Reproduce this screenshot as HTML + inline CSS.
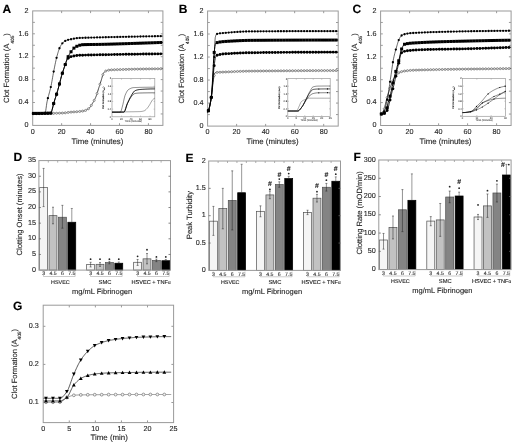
<!DOCTYPE html><html><head><meta charset="utf-8"><title>Figure</title><style>html,body{margin:0;padding:0;background:#fff;}svg{display:block;will-change:transform;filter:blur(0.35px);}text{stroke:currentColor;stroke-width:0.12px;}</style></head><body><svg width="520" height="446" viewBox="0 0 520 446" font-family='"Liberation Sans", sans-serif' text-rendering="geometricPrecision"><rect width="520" height="446" fill="#fff"/><text x="2.4" y="12.9" font-size="12" text-anchor="start" font-weight="bold" fill="#000" color="#000">A</text><rect x="32.7" y="10.9" width="130.2" height="114.5" fill="none" stroke="#9a9a9a" stroke-width="1"/><line x1="61.63" y1="125.4" x2="61.63" y2="123.2" stroke="#9a9a9a" stroke-width="1"/><line x1="61.63" y1="10.9" x2="61.63" y2="13.1" stroke="#9a9a9a" stroke-width="1"/><line x1="90.57" y1="125.4" x2="90.57" y2="123.2" stroke="#9a9a9a" stroke-width="1"/><line x1="90.57" y1="10.9" x2="90.57" y2="13.1" stroke="#9a9a9a" stroke-width="1"/><line x1="119.5" y1="125.4" x2="119.5" y2="123.2" stroke="#9a9a9a" stroke-width="1"/><line x1="119.5" y1="10.9" x2="119.5" y2="13.1" stroke="#9a9a9a" stroke-width="1"/><line x1="148.43" y1="125.4" x2="148.43" y2="123.2" stroke="#9a9a9a" stroke-width="1"/><line x1="148.43" y1="10.9" x2="148.43" y2="13.1" stroke="#9a9a9a" stroke-width="1"/><line x1="32.7" y1="113.95" x2="34.9" y2="113.95" stroke="#9a9a9a" stroke-width="1"/><line x1="162.9" y1="113.95" x2="160.7" y2="113.95" stroke="#9a9a9a" stroke-width="1"/><line x1="32.7" y1="102.5" x2="34.9" y2="102.5" stroke="#9a9a9a" stroke-width="1"/><line x1="162.9" y1="102.5" x2="160.7" y2="102.5" stroke="#9a9a9a" stroke-width="1"/><line x1="32.7" y1="91.05" x2="34.9" y2="91.05" stroke="#9a9a9a" stroke-width="1"/><line x1="162.9" y1="91.05" x2="160.7" y2="91.05" stroke="#9a9a9a" stroke-width="1"/><line x1="32.7" y1="79.6" x2="34.9" y2="79.6" stroke="#9a9a9a" stroke-width="1"/><line x1="162.9" y1="79.6" x2="160.7" y2="79.6" stroke="#9a9a9a" stroke-width="1"/><line x1="32.7" y1="68.15" x2="34.9" y2="68.15" stroke="#9a9a9a" stroke-width="1"/><line x1="162.9" y1="68.15" x2="160.7" y2="68.15" stroke="#9a9a9a" stroke-width="1"/><line x1="32.7" y1="56.7" x2="34.9" y2="56.7" stroke="#9a9a9a" stroke-width="1"/><line x1="162.9" y1="56.7" x2="160.7" y2="56.7" stroke="#9a9a9a" stroke-width="1"/><line x1="32.7" y1="45.25" x2="34.9" y2="45.25" stroke="#9a9a9a" stroke-width="1"/><line x1="162.9" y1="45.25" x2="160.7" y2="45.25" stroke="#9a9a9a" stroke-width="1"/><line x1="32.7" y1="33.8" x2="34.9" y2="33.8" stroke="#9a9a9a" stroke-width="1"/><line x1="162.9" y1="33.8" x2="160.7" y2="33.8" stroke="#9a9a9a" stroke-width="1"/><line x1="32.7" y1="22.35" x2="34.9" y2="22.35" stroke="#9a9a9a" stroke-width="1"/><line x1="162.9" y1="22.35" x2="160.7" y2="22.35" stroke="#9a9a9a" stroke-width="1"/><text x="32.7" y="134.4" font-size="7.2" text-anchor="middle" fill="#262626" color="#262626">0</text><text x="61.63" y="134.4" font-size="7.2" text-anchor="middle" fill="#262626" color="#262626">20</text><text x="90.57" y="134.4" font-size="7.2" text-anchor="middle" fill="#262626" color="#262626">40</text><text x="119.5" y="134.4" font-size="7.2" text-anchor="middle" fill="#262626" color="#262626">60</text><text x="148.43" y="134.4" font-size="7.2" text-anchor="middle" fill="#262626" color="#262626">80</text><text x="28.5" y="127.1" font-size="7.2" text-anchor="end" fill="#262626" color="#262626">0</text><text x="28.5" y="104.2" font-size="7.2" text-anchor="end" fill="#262626" color="#262626">0.4</text><text x="28.5" y="81.3" font-size="7.2" text-anchor="end" fill="#262626" color="#262626">0.8</text><text x="28.5" y="58.4" font-size="7.2" text-anchor="end" fill="#262626" color="#262626">1.2</text><text x="28.5" y="35.5" font-size="7.2" text-anchor="end" fill="#262626" color="#262626">1.6</text><text x="28.5" y="12.6" font-size="7.2" text-anchor="end" fill="#262626" color="#262626">2</text><text x="97.4" y="143.5" font-size="7.85" text-anchor="middle" fill="#262626" color="#262626">Time (minutes)</text><text x="9.1" y="68.15" font-size="7.6" text-anchor="middle" fill="#262626" color="#262626" transform="rotate(-90 9.1 68.15)">Clot Formation (A<tspan font-size="4.7" dy="4.8">405</tspan><tspan dy="-4.8">)</tspan></text><polyline points="32.7,113.66 33.06,113.66 33.42,113.66 33.79,113.66 34.15,113.66 34.51,113.66 34.87,113.66 35.23,113.66 35.59,113.66 35.96,113.66 36.32,113.65 36.68,113.65 37.04,113.65 37.4,113.65 37.76,113.64 38.12,113.64 38.49,113.64 38.85,113.64 39.21,113.63 39.57,113.63 39.93,113.63 40.3,113.62 40.66,113.62 41.02,113.61 41.38,113.61 41.74,113.6 42.1,113.6 42.47,113.59 42.83,113.59 43.19,113.58 43.55,113.58 43.91,113.57 44.27,113.57 44.64,113.56 45,113.56 45.36,113.55 45.72,113.54 46.08,113.54 46.44,113.53 46.8,113.52 47.17,113.51 47.53,113.51 47.89,113.5 48.25,113.49 48.61,113.48 48.98,113.48 49.34,113.47 49.7,113.46 50.06,113.45 50.42,113.44 50.78,113.43 51.15,113.42 51.51,113.41 51.87,113.41 52.23,113.4 52.59,113.39 52.95,113.38 53.31,113.37 53.68,113.36 54.04,113.35 54.4,113.33 54.76,113.32 55.12,113.31 55.48,113.3 55.85,113.29 56.21,113.28 56.57,113.27 56.93,113.26 57.29,113.24 57.66,113.23 58.02,113.22 58.38,113.21 58.74,113.2 59.1,113.18 59.46,113.17 59.83,113.16 60.19,113.14 60.55,113.13 60.91,113.12 61.27,113.1 61.63,113.09 62,113.08 62.36,113.06 62.72,113.03 63.08,113.01 63.44,112.98 63.8,112.95 64.17,112.91 64.53,112.87 64.89,112.84 65.25,112.79 65.61,112.75 65.97,112.71 66.34,112.67 66.7,112.62 67.06,112.58 67.42,112.53 67.78,112.49 68.14,112.44 68.5,112.4 68.87,112.36 69.23,112.32 69.59,112.28 69.95,112.24 70.31,112.2 70.67,112.17 71.04,112.14 71.4,112.11 71.76,112.08 72.12,112.05 72.48,112.02 72.84,111.99 73.21,111.96 73.57,111.94 73.93,111.91 74.29,111.89 74.65,111.86 75.01,111.84 75.38,111.81 75.74,111.79 76.1,111.76 76.46,111.74 76.82,111.71 77.19,111.68 77.55,111.65 77.91,111.63 78.27,111.59 78.63,111.56 78.99,111.53 79.36,111.5 79.72,111.46 80.08,111.42 80.44,111.38 80.8,111.34 81.16,111.3 81.53,111.25 81.89,111.2 82.25,111.15 82.61,111.1 82.97,111.04 83.33,110.99 83.69,110.92 84.06,110.86 84.42,110.78 84.78,110.68 85.14,110.57 85.5,110.43 85.86,110.28 86.23,110.11 86.59,109.93 86.95,109.72 87.31,109.51 87.67,109.28 88.03,109.03 88.4,108.77 88.76,108.51 89.12,108.23 89.48,107.9 89.84,107.49 90.2,107.03 90.57,106.51 90.93,105.95 91.29,105.36 91.65,104.75 92.01,104.14 92.38,103.54 92.74,102.94 93.1,102.33 93.46,101.71 93.82,101.08 94.18,100.42 94.54,99.73 94.91,99.01 95.27,98.25 95.63,97.45 95.99,96.6 96.35,95.65 96.72,94.6 97.08,93.47 97.44,92.29 97.8,91.1 98.16,89.91 98.52,88.76 98.89,87.63 99.25,86.5 99.61,85.37 99.97,84.23 100.33,83.09 100.69,81.96 101.06,80.84 101.42,79.71 101.78,78.47 102.14,77.16 102.5,75.87 102.86,74.68 103.22,73.67 103.59,72.93 103.95,72.48 104.31,72.1 104.67,71.77 105.03,71.48 105.39,71.23 105.76,71.03 106.12,70.86 106.48,70.73 106.84,70.62 107.2,70.52 107.56,70.42 107.93,70.33 108.29,70.25 108.65,70.18 109.01,70.11 109.37,70.05 109.73,70 110.1,69.96 110.46,69.92 110.82,69.89 111.18,69.86 111.54,69.84 111.91,69.82 112.27,69.8 112.63,69.79 112.99,69.77 113.35,69.75 113.71,69.74 114.07,69.73 114.44,69.71 114.8,69.7 115.16,69.69 115.52,69.68 115.88,69.67 116.24,69.66 116.61,69.65 116.97,69.64 117.33,69.63 117.69,69.63 118.05,69.62 118.41,69.61 118.78,69.6 119.14,69.59 119.5,69.58 119.86,69.57 120.22,69.56 120.58,69.55 120.95,69.54 121.31,69.53 121.67,69.52 122.03,69.51 122.39,69.5 122.75,69.5 123.12,69.49 123.48,69.48 123.84,69.47 124.2,69.46 124.56,69.45 124.92,69.44 125.29,69.43 125.65,69.42 126.01,69.41 126.37,69.4 126.73,69.39 127.09,69.38 127.46,69.37 127.82,69.36 128.18,69.35 128.54,69.35 128.9,69.34 129.26,69.33 129.63,69.32 129.99,69.31 130.35,69.3 130.71,69.29 131.07,69.28 131.44,69.27 131.8,69.26 132.16,69.26 132.52,69.25 132.88,69.24 133.24,69.23 133.6,69.22 133.97,69.21 134.33,69.2 134.69,69.2 135.05,69.19 135.41,69.18 135.78,69.17 136.14,69.16 136.5,69.15 136.86,69.14 137.22,69.14 137.58,69.13 137.94,69.12 138.31,69.11 138.67,69.1 139.03,69.1 139.39,69.09 139.75,69.08 140.11,69.07 140.48,69.06 140.84,69.06 141.2,69.05 141.56,69.04 141.92,69.03 142.28,69.03 142.65,69.02 143.01,69.01 143.37,69 143.73,69 144.09,68.99 144.45,68.98 144.82,68.98 145.18,68.97 145.54,68.96 145.9,68.96 146.26,68.95 146.62,68.94 146.99,68.94 147.35,68.93 147.71,68.92 148.07,68.92 148.43,68.91 148.8,68.9 149.16,68.9 149.52,68.89 149.88,68.88 150.24,68.88 150.6,68.87 150.96,68.87 151.33,68.86 151.69,68.86 152.05,68.85 152.41,68.84 152.77,68.84 153.13,68.83 153.5,68.83 153.86,68.82 154.22,68.82 154.58,68.81 154.94,68.81 155.31,68.8 155.67,68.8 156.03,68.79 156.39,68.79 156.75,68.78 157.11,68.78 157.47,68.78 157.84,68.77 158.2,68.77 158.56,68.76 158.92,68.76 159.28,68.76 159.64,68.75 160.01,68.75 160.37,68.74 160.73,68.74 161.09,68.74 161.45,68.73 161.81,68.73 162.18,68.73 162.54,68.73 162.9,68.72" fill="none" stroke="#444444" stroke-width="1" stroke-linejoin="round"/><circle cx="33.42" cy="113.66" r="1.05" fill="#e4e4e4" stroke="#777777" stroke-width="0.75"/><circle cx="36.32" cy="113.65" r="1.05" fill="#e4e4e4" stroke="#777777" stroke-width="0.75"/><circle cx="39.21" cy="113.63" r="1.05" fill="#e4e4e4" stroke="#777777" stroke-width="0.75"/><circle cx="42.1" cy="113.6" r="1.05" fill="#e4e4e4" stroke="#777777" stroke-width="0.75"/><circle cx="45" cy="113.56" r="1.05" fill="#e4e4e4" stroke="#777777" stroke-width="0.75"/><circle cx="47.89" cy="113.5" r="1.05" fill="#e4e4e4" stroke="#777777" stroke-width="0.75"/><circle cx="50.78" cy="113.43" r="1.05" fill="#e4e4e4" stroke="#777777" stroke-width="0.75"/><circle cx="53.68" cy="113.36" r="1.05" fill="#e4e4e4" stroke="#777777" stroke-width="0.75"/><circle cx="56.57" cy="113.27" r="1.05" fill="#e4e4e4" stroke="#777777" stroke-width="0.75"/><circle cx="59.46" cy="113.17" r="1.05" fill="#e4e4e4" stroke="#777777" stroke-width="0.75"/><circle cx="62.36" cy="113.06" r="1.05" fill="#e4e4e4" stroke="#777777" stroke-width="0.75"/><circle cx="65.25" cy="112.79" r="1.05" fill="#e4e4e4" stroke="#777777" stroke-width="0.75"/><circle cx="68.14" cy="112.44" r="1.05" fill="#e4e4e4" stroke="#777777" stroke-width="0.75"/><circle cx="71.04" cy="112.14" r="1.05" fill="#e4e4e4" stroke="#777777" stroke-width="0.75"/><circle cx="73.93" cy="111.91" r="1.05" fill="#e4e4e4" stroke="#777777" stroke-width="0.75"/><circle cx="76.82" cy="111.71" r="1.05" fill="#e4e4e4" stroke="#777777" stroke-width="0.75"/><circle cx="79.72" cy="111.46" r="1.05" fill="#e4e4e4" stroke="#777777" stroke-width="0.75"/><circle cx="82.61" cy="111.1" r="1.05" fill="#e4e4e4" stroke="#777777" stroke-width="0.75"/><circle cx="85.5" cy="110.43" r="1.05" fill="#e4e4e4" stroke="#777777" stroke-width="0.75"/><circle cx="88.4" cy="108.77" r="1.05" fill="#e4e4e4" stroke="#777777" stroke-width="0.75"/><circle cx="91.29" cy="105.36" r="1.05" fill="#e4e4e4" stroke="#777777" stroke-width="0.75"/><circle cx="94.18" cy="100.42" r="1.05" fill="#e4e4e4" stroke="#777777" stroke-width="0.75"/><circle cx="97.08" cy="93.47" r="1.05" fill="#e4e4e4" stroke="#777777" stroke-width="0.75"/><circle cx="99.97" cy="84.23" r="1.05" fill="#e4e4e4" stroke="#777777" stroke-width="0.75"/><circle cx="102.86" cy="74.68" r="1.05" fill="#e4e4e4" stroke="#777777" stroke-width="0.75"/><circle cx="105.76" cy="71.03" r="1.05" fill="#e4e4e4" stroke="#777777" stroke-width="0.75"/><circle cx="108.65" cy="70.18" r="1.05" fill="#e4e4e4" stroke="#777777" stroke-width="0.75"/><circle cx="111.54" cy="69.84" r="1.05" fill="#e4e4e4" stroke="#777777" stroke-width="0.75"/><circle cx="114.44" cy="69.71" r="1.05" fill="#e4e4e4" stroke="#777777" stroke-width="0.75"/><circle cx="117.33" cy="69.63" r="1.05" fill="#e4e4e4" stroke="#777777" stroke-width="0.75"/><circle cx="120.22" cy="69.56" r="1.05" fill="#e4e4e4" stroke="#777777" stroke-width="0.75"/><circle cx="123.12" cy="69.49" r="1.05" fill="#e4e4e4" stroke="#777777" stroke-width="0.75"/><circle cx="126.01" cy="69.41" r="1.05" fill="#e4e4e4" stroke="#777777" stroke-width="0.75"/><circle cx="128.9" cy="69.34" r="1.05" fill="#e4e4e4" stroke="#777777" stroke-width="0.75"/><circle cx="131.8" cy="69.26" r="1.05" fill="#e4e4e4" stroke="#777777" stroke-width="0.75"/><circle cx="134.69" cy="69.2" r="1.05" fill="#e4e4e4" stroke="#777777" stroke-width="0.75"/><circle cx="137.58" cy="69.13" r="1.05" fill="#e4e4e4" stroke="#777777" stroke-width="0.75"/><circle cx="140.48" cy="69.06" r="1.05" fill="#e4e4e4" stroke="#777777" stroke-width="0.75"/><circle cx="143.37" cy="69" r="1.05" fill="#e4e4e4" stroke="#777777" stroke-width="0.75"/><circle cx="146.26" cy="68.95" r="1.05" fill="#e4e4e4" stroke="#777777" stroke-width="0.75"/><circle cx="149.16" cy="68.9" r="1.05" fill="#e4e4e4" stroke="#777777" stroke-width="0.75"/><circle cx="152.05" cy="68.85" r="1.05" fill="#e4e4e4" stroke="#777777" stroke-width="0.75"/><circle cx="154.94" cy="68.81" r="1.05" fill="#e4e4e4" stroke="#777777" stroke-width="0.75"/><circle cx="157.84" cy="68.77" r="1.05" fill="#e4e4e4" stroke="#777777" stroke-width="0.75"/><circle cx="160.73" cy="68.74" r="1.05" fill="#e4e4e4" stroke="#777777" stroke-width="0.75"/><polyline points="32.7,113.95 33.06,113.95 33.42,113.95 33.79,113.95 34.15,113.95 34.51,113.94 34.87,113.94 35.23,113.94 35.59,113.93 35.96,113.93 36.32,113.92 36.68,113.91 37.04,113.91 37.4,113.9 37.76,113.89 38.12,113.88 38.49,113.86 38.85,113.85 39.21,113.83 39.57,113.82 39.93,113.8 40.3,113.78 40.66,113.76 41.02,113.74 41.38,113.71 41.74,113.69 42.1,113.66 42.47,113.63 42.83,113.6 43.19,113.57 43.55,113.54 43.91,113.5 44.27,113.46 44.64,113.42 45,113.38 45.36,112.63 45.72,110.79 46.08,108.29 46.44,105.58 46.8,103.11 47.17,101.25 47.53,99.66 47.89,98.17 48.25,96.77 48.61,95.43 48.98,94.12 49.34,92.82 49.7,91.49 50.06,90.12 50.42,88.67 50.78,87.12 51.15,85.44 51.51,83.62 51.87,81.68 52.23,79.66 52.59,77.6 52.95,75.54 53.31,73.5 53.68,71.53 54.04,69.65 54.4,67.87 54.76,66.08 55.12,64.31 55.48,62.58 55.85,60.91 56.21,59.3 56.57,57.79 56.93,56.39 57.29,55.08 57.66,53.8 58.02,52.56 58.38,51.37 58.74,50.24 59.1,49.2 59.46,48.25 59.83,47.41 60.19,46.69 60.55,46.01 60.91,45.38 61.27,44.79 61.63,44.24 62,43.73 62.36,43.28 62.72,42.87 63.08,42.51 63.44,42.21 63.8,41.92 64.17,41.65 64.53,41.4 64.89,41.16 65.25,40.94 65.61,40.74 65.97,40.56 66.34,40.39 66.7,40.25 67.06,40.12 67.42,40.01 67.78,39.91 68.14,39.82 68.5,39.74 68.87,39.67 69.23,39.6 69.59,39.53 69.95,39.47 70.31,39.4 70.67,39.34 71.04,39.27 71.4,39.19 71.76,39.12 72.12,39.04 72.48,38.96 72.84,38.87 73.21,38.79 73.57,38.71 73.93,38.63 74.29,38.55 74.65,38.47 75.01,38.4 75.38,38.33 75.74,38.27 76.1,38.22 76.46,38.17 76.82,38.13 77.19,38.1 77.55,38.08 77.91,38.05 78.27,38.03 78.63,38.01 78.99,37.99 79.36,37.98 79.72,37.96 80.08,37.94 80.44,37.93 80.8,37.91 81.16,37.9 81.53,37.88 81.89,37.87 82.25,37.86 82.61,37.85 82.97,37.83 83.33,37.82 83.69,37.81 84.06,37.8 84.42,37.79 84.78,37.78 85.14,37.77 85.5,37.76 85.86,37.75 86.23,37.75 86.59,37.74 86.95,37.73 87.31,37.72 87.67,37.71 88.03,37.7 88.4,37.69 88.76,37.68 89.12,37.67 89.48,37.67 89.84,37.66 90.2,37.65 90.57,37.64 90.93,37.63 91.29,37.62 91.65,37.6 92.01,37.59 92.38,37.58 92.74,37.57 93.1,37.56 93.46,37.55 93.82,37.54 94.18,37.54 94.54,37.53 94.91,37.52 95.27,37.51 95.63,37.5 95.99,37.49 96.35,37.48 96.72,37.47 97.08,37.46 97.44,37.45 97.8,37.44 98.16,37.43 98.52,37.42 98.89,37.41 99.25,37.4 99.61,37.4 99.97,37.39 100.33,37.38 100.69,37.37 101.06,37.36 101.42,37.35 101.78,37.34 102.14,37.33 102.5,37.33 102.86,37.32 103.22,37.31 103.59,37.3 103.95,37.29 104.31,37.28 104.67,37.28 105.03,37.27 105.39,37.26 105.76,37.25 106.12,37.24 106.48,37.23 106.84,37.23 107.2,37.22 107.56,37.21 107.93,37.2 108.29,37.19 108.65,37.19 109.01,37.18 109.37,37.17 109.73,37.16 110.1,37.15 110.46,37.15 110.82,37.14 111.18,37.13 111.54,37.12 111.91,37.11 112.27,37.11 112.63,37.1 112.99,37.09 113.35,37.08 113.71,37.07 114.07,37.07 114.44,37.06 114.8,37.05 115.16,37.04 115.52,37.03 115.88,37.03 116.24,37.02 116.61,37.01 116.97,37 117.33,37 117.69,36.99 118.05,36.98 118.41,36.97 118.78,36.96 119.14,36.96 119.5,36.95 119.86,36.94 120.22,36.93 120.58,36.93 120.95,36.92 121.31,36.91 121.67,36.9 122.03,36.89 122.39,36.89 122.75,36.88 123.12,36.87 123.48,36.86 123.84,36.86 124.2,36.85 124.56,36.84 124.92,36.83 125.29,36.82 125.65,36.82 126.01,36.81 126.37,36.8 126.73,36.79 127.09,36.79 127.46,36.78 127.82,36.77 128.18,36.76 128.54,36.76 128.9,36.75 129.26,36.74 129.63,36.73 129.99,36.73 130.35,36.72 130.71,36.71 131.07,36.7 131.44,36.69 131.8,36.69 132.16,36.68 132.52,36.67 132.88,36.66 133.24,36.66 133.6,36.65 133.97,36.64 134.33,36.64 134.69,36.63 135.05,36.62 135.41,36.61 135.78,36.61 136.14,36.6 136.5,36.59 136.86,36.58 137.22,36.58 137.58,36.57 137.94,36.56 138.31,36.55 138.67,36.55 139.03,36.54 139.39,36.53 139.75,36.52 140.11,36.52 140.48,36.51 140.84,36.5 141.2,36.5 141.56,36.49 141.92,36.48 142.28,36.47 142.65,36.47 143.01,36.46 143.37,36.45 143.73,36.45 144.09,36.44 144.45,36.43 144.82,36.42 145.18,36.42 145.54,36.41 145.9,36.4 146.26,36.4 146.62,36.39 146.99,36.38 147.35,36.38 147.71,36.37 148.07,36.36 148.43,36.35 148.8,36.35 149.16,36.34 149.52,36.33 149.88,36.33 150.24,36.32 150.6,36.31 150.96,36.31 151.33,36.3 151.69,36.29 152.05,36.29 152.41,36.28 152.77,36.27 153.13,36.27 153.5,36.26 153.86,36.25 154.22,36.25 154.58,36.24 154.94,36.23 155.31,36.23 155.67,36.22 156.03,36.21 156.39,36.21 156.75,36.2 157.11,36.19 157.47,36.19 157.84,36.18 158.2,36.17 158.56,36.17 158.92,36.16 159.28,36.15 159.64,36.15 160.01,36.14 160.37,36.13 160.73,36.13 161.09,36.12 161.45,36.12 161.81,36.11 162.18,36.1 162.54,36.1 162.9,36.09" fill="none" stroke="#000" stroke-width="0.6" stroke-linejoin="round"/><circle cx="33.42" cy="113.95" r="1.15" fill="#000"/><circle cx="36.32" cy="113.92" r="1.15" fill="#000"/><circle cx="39.21" cy="113.83" r="1.15" fill="#000"/><circle cx="42.1" cy="113.66" r="1.15" fill="#000"/><circle cx="45" cy="113.38" r="1.15" fill="#000"/><circle cx="47.89" cy="98.17" r="1.15" fill="#000"/><circle cx="50.78" cy="87.12" r="1.15" fill="#000"/><circle cx="53.68" cy="71.53" r="1.15" fill="#000"/><circle cx="56.57" cy="57.79" r="1.15" fill="#000"/><circle cx="59.46" cy="48.25" r="1.15" fill="#000"/><circle cx="62.36" cy="43.28" r="1.15" fill="#000"/><circle cx="65.25" cy="40.94" r="1.15" fill="#000"/><circle cx="68.14" cy="39.82" r="1.15" fill="#000"/><circle cx="71.04" cy="39.27" r="1.15" fill="#000"/><circle cx="73.93" cy="38.63" r="1.15" fill="#000"/><circle cx="76.82" cy="38.13" r="1.15" fill="#000"/><circle cx="79.72" cy="37.96" r="1.15" fill="#000"/><circle cx="82.61" cy="37.85" r="1.15" fill="#000"/><circle cx="85.5" cy="37.76" r="1.15" fill="#000"/><circle cx="88.4" cy="37.69" r="1.15" fill="#000"/><circle cx="91.29" cy="37.62" r="1.15" fill="#000"/><circle cx="94.18" cy="37.54" r="1.15" fill="#000"/><circle cx="97.08" cy="37.46" r="1.15" fill="#000"/><circle cx="99.97" cy="37.39" r="1.15" fill="#000"/><circle cx="102.86" cy="37.32" r="1.15" fill="#000"/><circle cx="105.76" cy="37.25" r="1.15" fill="#000"/><circle cx="108.65" cy="37.19" r="1.15" fill="#000"/><circle cx="111.54" cy="37.12" r="1.15" fill="#000"/><circle cx="114.44" cy="37.06" r="1.15" fill="#000"/><circle cx="117.33" cy="37" r="1.15" fill="#000"/><circle cx="120.22" cy="36.93" r="1.15" fill="#000"/><circle cx="123.12" cy="36.87" r="1.15" fill="#000"/><circle cx="126.01" cy="36.81" r="1.15" fill="#000"/><circle cx="128.9" cy="36.75" r="1.15" fill="#000"/><circle cx="131.8" cy="36.69" r="1.15" fill="#000"/><circle cx="134.69" cy="36.63" r="1.15" fill="#000"/><circle cx="137.58" cy="36.57" r="1.15" fill="#000"/><circle cx="140.48" cy="36.51" r="1.15" fill="#000"/><circle cx="143.37" cy="36.45" r="1.15" fill="#000"/><circle cx="146.26" cy="36.4" r="1.15" fill="#000"/><circle cx="149.16" cy="36.34" r="1.15" fill="#000"/><circle cx="152.05" cy="36.29" r="1.15" fill="#000"/><circle cx="154.94" cy="36.23" r="1.15" fill="#000"/><circle cx="157.84" cy="36.18" r="1.15" fill="#000"/><circle cx="160.73" cy="36.13" r="1.15" fill="#000"/><polyline points="32.7,113.38 33.06,113.38 33.42,113.38 33.79,113.38 34.15,113.38 34.51,113.38 34.87,113.38 35.23,113.38 35.59,113.38 35.96,113.37 36.32,113.37 36.68,113.37 37.04,113.37 37.4,113.37 37.76,113.37 38.12,113.37 38.49,113.37 38.85,113.36 39.21,113.36 39.57,113.36 39.93,113.35 40.3,113.35 40.66,113.35 41.02,113.34 41.38,113.34 41.74,113.34 42.1,113.33 42.47,113.33 42.83,113.32 43.19,113.32 43.55,113.31 43.91,113.3 44.27,113.3 44.64,113.29 45,113.28 45.36,113.27 45.72,113.26 46.08,113.26 46.44,113.25 46.8,113.24 47.17,113.23 47.53,113.21 47.89,113.2 48.25,113.19 48.61,113.18 48.98,113.17 49.34,113.15 49.7,113.14 50.06,113.12 50.42,113.11 50.78,113.09 51.15,112.59 51.51,111.66 51.87,110.64 52.23,109.38 52.59,107.97 52.95,106.48 53.31,104.98 53.68,103.55 54.04,102.25 54.4,101.06 54.76,99.91 55.12,98.79 55.48,97.69 55.85,96.57 56.21,95.43 56.57,94.24 56.93,93.03 57.29,91.79 57.66,90.54 58.02,89.26 58.38,87.97 58.74,86.67 59.1,85.34 59.46,83.97 59.83,82.55 60.19,81.1 60.55,79.66 60.91,78.24 61.27,76.88 61.63,75.59 62,74.38 62.36,73.21 62.72,72.07 63.08,70.97 63.44,69.89 63.8,68.82 64.17,67.76 64.53,66.71 64.89,65.65 65.25,64.56 65.61,63.45 65.97,62.35 66.34,61.26 66.7,60.2 67.06,59.2 67.42,58.27 67.78,57.43 68.14,56.67 68.5,55.95 68.87,55.26 69.23,54.6 69.59,53.98 69.95,53.38 70.31,52.82 70.67,52.27 71.04,51.76 71.4,51.26 71.76,50.79 72.12,50.31 72.48,49.84 72.84,49.38 73.21,48.94 73.57,48.51 73.93,48.12 74.29,47.76 74.65,47.45 75.01,47.18 75.38,46.97 75.74,46.79 76.1,46.61 76.46,46.44 76.82,46.28 77.19,46.12 77.55,45.97 77.91,45.82 78.27,45.68 78.63,45.55 78.99,45.43 79.36,45.31 79.72,45.21 80.08,45.11 80.44,45.02 80.8,44.94 81.16,44.87 81.53,44.81 81.89,44.76 82.25,44.72 82.61,44.69 82.97,44.67 83.33,44.66 83.69,44.65 84.06,44.64 84.42,44.63 84.78,44.62 85.14,44.61 85.5,44.6 85.86,44.59 86.23,44.58 86.59,44.57 86.95,44.57 87.31,44.56 87.67,44.55 88.03,44.55 88.4,44.54 88.76,44.54 89.12,44.53 89.48,44.53 89.84,44.52 90.2,44.52 90.57,44.51 90.93,44.51 91.29,44.5 91.65,44.5 92.01,44.5 92.38,44.49 92.74,44.49 93.1,44.48 93.46,44.48 93.82,44.48 94.18,44.47 94.54,44.47 94.91,44.47 95.27,44.46 95.63,44.46 95.99,44.45 96.35,44.45 96.72,44.44 97.08,44.44 97.44,44.43 97.8,44.43 98.16,44.42 98.52,44.42 98.89,44.41 99.25,44.41 99.61,44.4 99.97,44.39 100.33,44.38 100.69,44.38 101.06,44.37 101.42,44.36 101.78,44.35 102.14,44.34 102.5,44.34 102.86,44.33 103.22,44.32 103.59,44.31 103.95,44.3 104.31,44.29 104.67,44.28 105.03,44.27 105.39,44.27 105.76,44.26 106.12,44.25 106.48,44.24 106.84,44.23 107.2,44.22 107.56,44.21 107.93,44.2 108.29,44.19 108.65,44.18 109.01,44.17 109.37,44.16 109.73,44.15 110.1,44.14 110.46,44.13 110.82,44.12 111.18,44.11 111.54,44.1 111.91,44.09 112.27,44.08 112.63,44.07 112.99,44.06 113.35,44.04 113.71,44.03 114.07,44.02 114.44,44.01 114.8,44 115.16,43.99 115.52,43.98 115.88,43.97 116.24,43.96 116.61,43.95 116.97,43.93 117.33,43.92 117.69,43.91 118.05,43.9 118.41,43.89 118.78,43.88 119.14,43.87 119.5,43.86 119.86,43.84 120.22,43.83 120.58,43.82 120.95,43.81 121.31,43.8 121.67,43.79 122.03,43.77 122.39,43.76 122.75,43.75 123.12,43.74 123.48,43.73 123.84,43.72 124.2,43.71 124.56,43.69 124.92,43.68 125.29,43.67 125.65,43.66 126.01,43.65 126.37,43.64 126.73,43.62 127.09,43.61 127.46,43.6 127.82,43.59 128.18,43.58 128.54,43.57 128.9,43.56 129.26,43.54 129.63,43.53 129.99,43.52 130.35,43.51 130.71,43.5 131.07,43.49 131.44,43.48 131.8,43.46 132.16,43.45 132.52,43.44 132.88,43.43 133.24,43.42 133.6,43.41 133.97,43.39 134.33,43.38 134.69,43.37 135.05,43.36 135.41,43.35 135.78,43.34 136.14,43.32 136.5,43.31 136.86,43.3 137.22,43.29 137.58,43.28 137.94,43.26 138.31,43.25 138.67,43.24 139.03,43.23 139.39,43.22 139.75,43.2 140.11,43.19 140.48,43.18 140.84,43.17 141.2,43.16 141.56,43.14 141.92,43.13 142.28,43.12 142.65,43.11 143.01,43.1 143.37,43.08 143.73,43.07 144.09,43.06 144.45,43.05 144.82,43.03 145.18,43.02 145.54,43.01 145.9,43 146.26,42.98 146.62,42.97 146.99,42.96 147.35,42.95 147.71,42.93 148.07,42.92 148.43,42.91 148.8,42.9 149.16,42.88 149.52,42.87 149.88,42.86 150.24,42.85 150.6,42.83 150.96,42.82 151.33,42.81 151.69,42.8 152.05,42.78 152.41,42.77 152.77,42.76 153.13,42.74 153.5,42.73 153.86,42.72 154.22,42.7 154.58,42.69 154.94,42.68 155.31,42.67 155.67,42.65 156.03,42.64 156.39,42.63 156.75,42.61 157.11,42.6 157.47,42.59 157.84,42.57 158.2,42.56 158.56,42.55 158.92,42.53 159.28,42.52 159.64,42.51 160.01,42.49 160.37,42.48 160.73,42.47 161.09,42.45 161.45,42.44 161.81,42.43 162.18,42.41 162.54,42.4 162.9,42.39" fill="none" stroke="#000" stroke-width="1" stroke-linejoin="round"/><rect x="31.92" y="111.88" width="3" height="3" fill="#000"/><rect x="34.82" y="111.87" width="3" height="3" fill="#000"/><rect x="37.71" y="111.86" width="3" height="3" fill="#000"/><rect x="40.6" y="111.83" width="3" height="3" fill="#000"/><rect x="43.5" y="111.78" width="3" height="3" fill="#000"/><rect x="46.39" y="111.7" width="3" height="3" fill="#000"/><rect x="49.28" y="111.59" width="3" height="3" fill="#000"/><rect x="52.18" y="102.05" width="3" height="3" fill="#000"/><rect x="55.07" y="92.74" width="3" height="3" fill="#000"/><rect x="57.96" y="82.47" width="3" height="3" fill="#000"/><rect x="60.86" y="71.71" width="3" height="3" fill="#000"/><rect x="63.75" y="63.06" width="3" height="3" fill="#000"/><rect x="66.64" y="55.17" width="3" height="3" fill="#000"/><rect x="69.54" y="50.26" width="3" height="3" fill="#000"/><rect x="72.43" y="46.62" width="3" height="3" fill="#000"/><rect x="75.32" y="44.78" width="3" height="3" fill="#000"/><rect x="78.22" y="43.71" width="3" height="3" fill="#000"/><rect x="81.11" y="43.19" width="3" height="3" fill="#000"/><rect x="84" y="43.1" width="3" height="3" fill="#000"/><rect x="86.9" y="43.04" width="3" height="3" fill="#000"/><rect x="89.79" y="43" width="3" height="3" fill="#000"/><rect x="92.68" y="42.97" width="3" height="3" fill="#000"/><rect x="95.58" y="42.94" width="3" height="3" fill="#000"/><rect x="98.47" y="42.89" width="3" height="3" fill="#000"/><rect x="101.36" y="42.83" width="3" height="3" fill="#000"/><rect x="104.26" y="42.76" width="3" height="3" fill="#000"/><rect x="107.15" y="42.68" width="3" height="3" fill="#000"/><rect x="110.04" y="42.6" width="3" height="3" fill="#000"/><rect x="112.94" y="42.51" width="3" height="3" fill="#000"/><rect x="115.83" y="42.42" width="3" height="3" fill="#000"/><rect x="118.72" y="42.33" width="3" height="3" fill="#000"/><rect x="121.62" y="42.24" width="3" height="3" fill="#000"/><rect x="124.51" y="42.15" width="3" height="3" fill="#000"/><rect x="127.4" y="42.06" width="3" height="3" fill="#000"/><rect x="130.3" y="41.96" width="3" height="3" fill="#000"/><rect x="133.19" y="41.87" width="3" height="3" fill="#000"/><rect x="136.08" y="41.78" width="3" height="3" fill="#000"/><rect x="138.98" y="41.68" width="3" height="3" fill="#000"/><rect x="141.87" y="41.58" width="3" height="3" fill="#000"/><rect x="144.76" y="41.48" width="3" height="3" fill="#000"/><rect x="147.66" y="41.38" width="3" height="3" fill="#000"/><rect x="150.55" y="41.28" width="3" height="3" fill="#000"/><rect x="153.44" y="41.18" width="3" height="3" fill="#000"/><rect x="156.34" y="41.07" width="3" height="3" fill="#000"/><rect x="159.23" y="40.97" width="3" height="3" fill="#000"/><polyline points="32.7,113.38 33.06,113.38 33.42,113.38 33.79,113.38 34.15,113.38 34.51,113.38 34.87,113.38 35.23,113.38 35.59,113.38 35.96,113.37 36.32,113.37 36.68,113.37 37.04,113.37 37.4,113.37 37.76,113.37 38.12,113.37 38.49,113.37 38.85,113.36 39.21,113.36 39.57,113.36 39.93,113.35 40.3,113.35 40.66,113.35 41.02,113.34 41.38,113.34 41.74,113.34 42.1,113.33 42.47,113.33 42.83,113.32 43.19,113.32 43.55,113.31 43.91,113.3 44.27,113.3 44.64,113.29 45,113.28 45.36,113.27 45.72,113.26 46.08,113.26 46.44,113.25 46.8,113.24 47.17,113.23 47.53,113.21 47.89,113.2 48.25,113.19 48.61,113.18 48.98,113.17 49.34,113.15 49.7,113.14 50.06,113.12 50.42,113.11 50.78,113.09 51.15,112.59 51.51,111.66 51.87,110.64 52.23,109.38 52.59,107.97 52.95,106.48 53.31,104.98 53.68,103.55 54.04,102.25 54.4,101.06 54.76,99.91 55.12,98.79 55.48,97.69 55.85,96.57 56.21,95.43 56.57,94.24 56.93,93.03 57.29,91.79 57.66,90.54 58.02,89.26 58.38,87.97 58.74,86.67 59.1,85.34 59.46,83.97 59.83,82.55 60.19,81.1 60.55,79.66 60.91,78.24 61.27,76.88 61.63,75.59 62,74.37 62.36,73.18 62.72,72.02 63.08,70.89 63.44,69.79 63.8,68.72 64.17,67.67 64.53,66.65 64.89,65.66 65.25,64.62 65.61,63.54 65.97,62.46 66.34,61.41 66.7,60.45 67.06,59.61 67.42,58.94 67.78,58.48 68.14,58.19 68.5,57.93 68.87,57.69 69.23,57.46 69.59,57.26 69.95,57.08 70.31,56.91 70.67,56.76 71.04,56.63 71.4,56.5 71.76,56.4 72.12,56.3 72.48,56.22 72.84,56.14 73.21,56.07 73.57,56.01 73.93,55.95 74.29,55.89 74.65,55.83 75.01,55.78 75.38,55.72 75.74,55.68 76.1,55.63 76.46,55.59 76.82,55.54 77.19,55.51 77.55,55.47 77.91,55.44 78.27,55.41 78.63,55.38 78.99,55.35 79.36,55.33 79.72,55.31 80.08,55.29 80.44,55.27 80.8,55.25 81.16,55.24 81.53,55.22 81.89,55.21 82.25,55.19 82.61,55.18 82.97,55.17 83.33,55.15 83.69,55.14 84.06,55.13 84.42,55.12 84.78,55.1 85.14,55.09 85.5,55.08 85.86,55.07 86.23,55.06 86.59,55.05 86.95,55.04 87.31,55.03 87.67,55.02 88.03,55.01 88.4,55 88.76,54.99 89.12,54.98 89.48,54.97 89.84,54.97 90.2,54.96 90.57,54.95 90.93,54.94 91.29,54.93 91.65,54.93 92.01,54.92 92.38,54.91 92.74,54.91 93.1,54.9 93.46,54.89 93.82,54.88 94.18,54.88 94.54,54.87 94.91,54.87 95.27,54.86 95.63,54.85 95.99,54.85 96.35,54.84 96.72,54.83 97.08,54.83 97.44,54.82 97.8,54.82 98.16,54.81 98.52,54.81 98.89,54.8 99.25,54.79 99.61,54.79 99.97,54.78 100.33,54.78 100.69,54.77 101.06,54.76 101.42,54.76 101.78,54.75 102.14,54.75 102.5,54.74 102.86,54.73 103.22,54.73 103.59,54.72 103.95,54.72 104.31,54.71 104.67,54.7 105.03,54.7 105.39,54.69 105.76,54.68 106.12,54.68 106.48,54.67 106.84,54.66 107.2,54.66 107.56,54.65 107.93,54.64 108.29,54.64 108.65,54.63 109.01,54.62 109.37,54.62 109.73,54.61 110.1,54.6 110.46,54.6 110.82,54.59 111.18,54.58 111.54,54.58 111.91,54.57 112.27,54.56 112.63,54.56 112.99,54.55 113.35,54.54 113.71,54.54 114.07,54.53 114.44,54.52 114.8,54.52 115.16,54.51 115.52,54.5 115.88,54.5 116.24,54.49 116.61,54.49 116.97,54.48 117.33,54.47 117.69,54.47 118.05,54.46 118.41,54.45 118.78,54.45 119.14,54.44 119.5,54.43 119.86,54.43 120.22,54.42 120.58,54.42 120.95,54.41 121.31,54.4 121.67,54.4 122.03,54.39 122.39,54.38 122.75,54.38 123.12,54.37 123.48,54.37 123.84,54.36 124.2,54.35 124.56,54.35 124.92,54.34 125.29,54.34 125.65,54.33 126.01,54.32 126.37,54.32 126.73,54.31 127.09,54.31 127.46,54.3 127.82,54.29 128.18,54.29 128.54,54.28 128.9,54.28 129.26,54.27 129.63,54.26 129.99,54.26 130.35,54.25 130.71,54.25 131.07,54.24 131.44,54.24 131.8,54.23 132.16,54.22 132.52,54.22 132.88,54.21 133.24,54.21 133.6,54.2 133.97,54.2 134.33,54.19 134.69,54.19 135.05,54.18 135.41,54.17 135.78,54.17 136.14,54.16 136.5,54.16 136.86,54.15 137.22,54.15 137.58,54.14 137.94,54.14 138.31,54.13 138.67,54.13 139.03,54.12 139.39,54.12 139.75,54.11 140.11,54.11 140.48,54.1 140.84,54.09 141.2,54.09 141.56,54.08 141.92,54.08 142.28,54.07 142.65,54.07 143.01,54.06 143.37,54.06 143.73,54.05 144.09,54.05 144.45,54.05 144.82,54.04 145.18,54.04 145.54,54.03 145.9,54.03 146.26,54.02 146.62,54.02 146.99,54.01 147.35,54.01 147.71,54 148.07,54 148.43,53.99 148.8,53.99 149.16,53.98 149.52,53.98 149.88,53.98 150.24,53.97 150.6,53.97 150.96,53.96 151.33,53.96 151.69,53.95 152.05,53.95 152.41,53.95 152.77,53.94 153.13,53.94 153.5,53.93 153.86,53.93 154.22,53.92 154.58,53.92 154.94,53.92 155.31,53.91 155.67,53.91 156.03,53.91 156.39,53.9 156.75,53.9 157.11,53.89 157.47,53.89 157.84,53.89 158.2,53.88 158.56,53.88 158.92,53.88 159.28,53.87 159.64,53.87 160.01,53.86 160.37,53.86 160.73,53.86 161.09,53.85 161.45,53.85 161.81,53.85 162.18,53.84 162.54,53.84 162.9,53.84" fill="none" stroke="#000" stroke-width="0.8" stroke-linejoin="round"/><circle cx="33.42" cy="113.38" r="1.45" fill="#000"/><circle cx="36.32" cy="113.37" r="1.45" fill="#000"/><circle cx="39.21" cy="113.36" r="1.45" fill="#000"/><circle cx="42.1" cy="113.33" r="1.45" fill="#000"/><circle cx="45" cy="113.28" r="1.45" fill="#000"/><circle cx="47.89" cy="113.2" r="1.45" fill="#000"/><circle cx="50.78" cy="113.09" r="1.45" fill="#000"/><circle cx="53.68" cy="103.55" r="1.45" fill="#000"/><circle cx="56.57" cy="94.24" r="1.45" fill="#000"/><circle cx="59.46" cy="83.97" r="1.45" fill="#000"/><circle cx="62.36" cy="73.18" r="1.45" fill="#000"/><circle cx="65.25" cy="64.62" r="1.45" fill="#000"/><circle cx="68.14" cy="58.19" r="1.45" fill="#000"/><circle cx="71.04" cy="56.63" r="1.45" fill="#000"/><circle cx="73.93" cy="55.95" r="1.45" fill="#000"/><circle cx="76.82" cy="55.54" r="1.45" fill="#000"/><circle cx="79.72" cy="55.31" r="1.45" fill="#000"/><circle cx="82.61" cy="55.18" r="1.45" fill="#000"/><circle cx="85.5" cy="55.08" r="1.45" fill="#000"/><circle cx="88.4" cy="55" r="1.45" fill="#000"/><circle cx="91.29" cy="54.93" r="1.45" fill="#000"/><circle cx="94.18" cy="54.88" r="1.45" fill="#000"/><circle cx="97.08" cy="54.83" r="1.45" fill="#000"/><circle cx="99.97" cy="54.78" r="1.45" fill="#000"/><circle cx="102.86" cy="54.73" r="1.45" fill="#000"/><circle cx="105.76" cy="54.68" r="1.45" fill="#000"/><circle cx="108.65" cy="54.63" r="1.45" fill="#000"/><circle cx="111.54" cy="54.58" r="1.45" fill="#000"/><circle cx="114.44" cy="54.52" r="1.45" fill="#000"/><circle cx="117.33" cy="54.47" r="1.45" fill="#000"/><circle cx="120.22" cy="54.42" r="1.45" fill="#000"/><circle cx="123.12" cy="54.37" r="1.45" fill="#000"/><circle cx="126.01" cy="54.32" r="1.45" fill="#000"/><circle cx="128.9" cy="54.28" r="1.45" fill="#000"/><circle cx="131.8" cy="54.23" r="1.45" fill="#000"/><circle cx="134.69" cy="54.19" r="1.45" fill="#000"/><circle cx="137.58" cy="54.14" r="1.45" fill="#000"/><circle cx="140.48" cy="54.1" r="1.45" fill="#000"/><circle cx="143.37" cy="54.06" r="1.45" fill="#000"/><circle cx="146.26" cy="54.02" r="1.45" fill="#000"/><circle cx="149.16" cy="53.98" r="1.45" fill="#000"/><circle cx="152.05" cy="53.95" r="1.45" fill="#000"/><circle cx="154.94" cy="53.92" r="1.45" fill="#000"/><circle cx="157.84" cy="53.89" r="1.45" fill="#000"/><circle cx="160.73" cy="53.86" r="1.45" fill="#000"/><rect x="112" y="78.5" width="42.8" height="38.3" fill="#fff" stroke="#9a9a9a" stroke-width="0.7"/><line x1="112" y1="109.14" x2="113.2" y2="109.14" stroke="#9a9a9a" stroke-width="0.5"/><line x1="154.8" y1="109.14" x2="153.6" y2="109.14" stroke="#9a9a9a" stroke-width="0.5"/><line x1="112" y1="101.48" x2="113.2" y2="101.48" stroke="#9a9a9a" stroke-width="0.5"/><line x1="154.8" y1="101.48" x2="153.6" y2="101.48" stroke="#9a9a9a" stroke-width="0.5"/><line x1="112" y1="93.82" x2="113.2" y2="93.82" stroke="#9a9a9a" stroke-width="0.5"/><line x1="154.8" y1="93.82" x2="153.6" y2="93.82" stroke="#9a9a9a" stroke-width="0.5"/><line x1="112" y1="86.16" x2="113.2" y2="86.16" stroke="#9a9a9a" stroke-width="0.5"/><line x1="154.8" y1="86.16" x2="153.6" y2="86.16" stroke="#9a9a9a" stroke-width="0.5"/><line x1="121.51" y1="116.8" x2="121.51" y2="115.6" stroke="#9a9a9a" stroke-width="0.5"/><line x1="121.51" y1="78.5" x2="121.51" y2="79.7" stroke="#9a9a9a" stroke-width="0.5"/><line x1="131.02" y1="116.8" x2="131.02" y2="115.6" stroke="#9a9a9a" stroke-width="0.5"/><line x1="131.02" y1="78.5" x2="131.02" y2="79.7" stroke="#9a9a9a" stroke-width="0.5"/><line x1="140.53" y1="116.8" x2="140.53" y2="115.6" stroke="#9a9a9a" stroke-width="0.5"/><line x1="140.53" y1="78.5" x2="140.53" y2="79.7" stroke="#9a9a9a" stroke-width="0.5"/><line x1="150.04" y1="116.8" x2="150.04" y2="115.6" stroke="#9a9a9a" stroke-width="0.5"/><line x1="150.04" y1="78.5" x2="150.04" y2="79.7" stroke="#9a9a9a" stroke-width="0.5"/><text x="111.3" y="117.7" font-size="2.6" text-anchor="end" fill="#333" color="#333" style="stroke-width:0.05px">0</text><text x="111.3" y="110.04" font-size="2.6" text-anchor="end" fill="#333" color="#333" style="stroke-width:0.05px">0.4</text><text x="111.3" y="102.38" font-size="2.6" text-anchor="end" fill="#333" color="#333" style="stroke-width:0.05px">0.8</text><text x="111.3" y="94.72" font-size="2.6" text-anchor="end" fill="#333" color="#333" style="stroke-width:0.05px">1.2</text><text x="111.3" y="87.06" font-size="2.6" text-anchor="end" fill="#333" color="#333" style="stroke-width:0.05px">1.6</text><text x="111.3" y="79.4" font-size="2.6" text-anchor="end" fill="#333" color="#333" style="stroke-width:0.05px">2</text><text x="112" y="119.6" font-size="2.6" text-anchor="middle" fill="#333" color="#333" style="stroke-width:0.05px">0</text><text x="121.51" y="119.6" font-size="2.6" text-anchor="middle" fill="#333" color="#333" style="stroke-width:0.05px">20</text><text x="131.02" y="119.6" font-size="2.6" text-anchor="middle" fill="#333" color="#333" style="stroke-width:0.05px">40</text><text x="140.53" y="119.6" font-size="2.6" text-anchor="middle" fill="#333" color="#333" style="stroke-width:0.05px">60</text><text x="150.04" y="119.6" font-size="2.6" text-anchor="middle" fill="#333" color="#333" style="stroke-width:0.05px">80</text><text x="133.4" y="121.7" font-size="2.6" text-anchor="middle" fill="#444" color="#444" style="stroke-width:0.05px">Time (minutes)</text><text x="104" y="97.85" font-size="2.4" text-anchor="middle" transform="rotate(-90 104 97.85)" fill="#222" color="#222" style="stroke-width:0.1px">Clot Formation (A<tspan font-size="1.7" dy="0.6">405</tspan><tspan dy="-0.6">)</tspan></text><polyline points="112,112.2 112.73,112.2 113.45,112.2 114.18,112.2 114.9,112.2 115.63,112.2 116.35,112.2 117.08,112.2 117.8,112.2 118.53,112.2 119.25,112.2 119.98,112.2 120.71,111.97 121.43,110.07 122.16,107.27 122.88,104.54 123.61,101.24 124.33,97.92 125.06,95.41 125.78,93.72 126.51,92.24 127.23,90.99 127.96,90.05 128.68,89.45 129.41,89.02 130.14,88.64 130.86,88.31 131.59,88.03 132.31,87.82 133.04,87.68 133.76,87.6 134.49,87.57 135.21,87.54 135.94,87.51 136.66,87.49 137.39,87.46 138.12,87.44 138.84,87.41 139.57,87.39 140.29,87.37 141.02,87.35 141.74,87.34 142.47,87.32 143.19,87.3 143.92,87.29 144.64,87.28 145.37,87.27 146.09,87.26 146.82,87.25 147.55,87.24 148.27,87.23 149,87.22 149.72,87.22 150.45,87.21 151.17,87.21 151.9,87.21 152.62,87.2 153.35,87.2 154.07,87.2 154.8,87.2" fill="none" stroke="#000" stroke-width="0.45" stroke-linejoin="round"/><polyline points="112,112.2 112.73,112.2 113.45,112.2 114.18,112.2 114.9,112.2 115.63,112.19 116.35,112.19 117.08,112.19 117.8,112.18 118.53,112.18 119.25,112.17 119.98,112.16 120.71,112.15 121.43,112.14 122.16,112.13 122.88,112.12 123.61,112.11 124.33,111.84 125.06,110.46 125.78,108.34 126.51,105.98 127.23,103.89 127.96,102.27 128.68,100.69 129.41,99.16 130.14,97.71 130.86,96.37 131.59,95.16 132.31,93.98 133.04,92.81 133.76,91.79 134.49,91.02 135.21,90.61 135.94,90.34 136.66,90.11 137.39,89.91 138.12,89.75 138.84,89.63 139.57,89.54 140.29,89.48 141.02,89.42 141.74,89.37 142.47,89.32 143.19,89.27 143.92,89.23 144.64,89.19 145.37,89.15 146.09,89.11 146.82,89.08 147.55,89.05 148.27,89.02 149,89 149.72,88.97 150.45,88.95 151.17,88.94 151.9,88.92 152.62,88.91 153.35,88.91 154.07,88.9 154.8,88.9" fill="none" stroke="#000" stroke-width="0.9" stroke-linejoin="round"/><polyline points="112,112.2 112.73,112.2 113.45,112.2 114.18,112.2 114.9,112.2 115.63,112.19 116.35,112.19 117.08,112.19 117.8,112.18 118.53,112.18 119.25,112.17 119.98,112.16 120.71,112.15 121.43,112.14 122.16,112.13 122.88,112.12 123.61,112.11 124.33,111.83 125.06,110.41 125.78,108.25 126.51,105.89 127.23,103.86 127.96,102.37 128.68,100.96 129.41,99.61 130.14,98.38 130.86,97.3 131.59,96.4 132.31,95.58 133.04,94.8 133.76,94.14 134.49,93.67 135.21,93.46 135.94,93.34 136.66,93.24 137.39,93.16 138.12,93.1 138.84,93.05 139.57,93.01 140.29,92.99 141.02,92.97 141.74,92.96 142.47,92.94 143.19,92.92 143.92,92.91 144.64,92.89 145.37,92.88 146.09,92.87 146.82,92.86 147.55,92.85 148.27,92.84 149,92.83 149.72,92.82 150.45,92.82 151.17,92.81 151.9,92.81 152.62,92.8 153.35,92.8 154.07,92.8 154.8,92.8" fill="none" stroke="#000" stroke-width="0.55" stroke-linejoin="round"/><polyline points="112,111.9 112.73,111.9 113.45,111.9 114.18,111.9 114.9,111.9 115.63,111.9 116.35,111.9 117.08,111.89 117.8,111.89 118.53,111.89 119.25,111.89 119.98,111.88 120.71,111.88 121.43,111.88 122.16,111.87 122.88,111.87 123.61,111.86 124.33,111.86 125.06,111.85 125.78,111.84 126.51,111.84 127.23,111.83 127.96,111.82 128.68,111.81 129.41,111.8 130.14,111.79 130.86,111.78 131.59,111.77 132.31,111.76 133.04,111.75 133.76,111.74 134.49,111.72 135.21,111.71 135.94,111.69 136.66,111.68 137.39,111.66 138.12,111.65 138.84,111.63 139.57,111.61 140.29,111.59 141.02,111.53 141.74,111.43 142.47,111.29 143.19,111.12 143.92,110.92 144.64,110.65 145.37,110.15 146.09,109.46 146.82,108.69 147.55,107.86 148.27,106.86 149,105.8 149.72,104.64 150.45,103.34 151.17,102.01 151.9,100.79 152.62,99.79 153.35,99.1 154.07,98.57 154.8,98.2" fill="none" stroke="#333" stroke-width="0.45" stroke-linejoin="round"/><text x="178.8" y="12.9" font-size="12" text-anchor="start" font-weight="bold" fill="#000" color="#000">B</text><rect x="207.6" y="11" width="130.6" height="115.1" fill="none" stroke="#9a9a9a" stroke-width="1"/><line x1="236.62" y1="126.1" x2="236.62" y2="123.9" stroke="#9a9a9a" stroke-width="1"/><line x1="236.62" y1="11" x2="236.62" y2="13.2" stroke="#9a9a9a" stroke-width="1"/><line x1="265.64" y1="126.1" x2="265.64" y2="123.9" stroke="#9a9a9a" stroke-width="1"/><line x1="265.64" y1="11" x2="265.64" y2="13.2" stroke="#9a9a9a" stroke-width="1"/><line x1="294.67" y1="126.1" x2="294.67" y2="123.9" stroke="#9a9a9a" stroke-width="1"/><line x1="294.67" y1="11" x2="294.67" y2="13.2" stroke="#9a9a9a" stroke-width="1"/><line x1="323.69" y1="126.1" x2="323.69" y2="123.9" stroke="#9a9a9a" stroke-width="1"/><line x1="323.69" y1="11" x2="323.69" y2="13.2" stroke="#9a9a9a" stroke-width="1"/><line x1="207.6" y1="114.59" x2="209.8" y2="114.59" stroke="#9a9a9a" stroke-width="1"/><line x1="338.2" y1="114.59" x2="336" y2="114.59" stroke="#9a9a9a" stroke-width="1"/><line x1="207.6" y1="103.08" x2="209.8" y2="103.08" stroke="#9a9a9a" stroke-width="1"/><line x1="338.2" y1="103.08" x2="336" y2="103.08" stroke="#9a9a9a" stroke-width="1"/><line x1="207.6" y1="91.57" x2="209.8" y2="91.57" stroke="#9a9a9a" stroke-width="1"/><line x1="338.2" y1="91.57" x2="336" y2="91.57" stroke="#9a9a9a" stroke-width="1"/><line x1="207.6" y1="80.06" x2="209.8" y2="80.06" stroke="#9a9a9a" stroke-width="1"/><line x1="338.2" y1="80.06" x2="336" y2="80.06" stroke="#9a9a9a" stroke-width="1"/><line x1="207.6" y1="68.55" x2="209.8" y2="68.55" stroke="#9a9a9a" stroke-width="1"/><line x1="338.2" y1="68.55" x2="336" y2="68.55" stroke="#9a9a9a" stroke-width="1"/><line x1="207.6" y1="57.04" x2="209.8" y2="57.04" stroke="#9a9a9a" stroke-width="1"/><line x1="338.2" y1="57.04" x2="336" y2="57.04" stroke="#9a9a9a" stroke-width="1"/><line x1="207.6" y1="45.53" x2="209.8" y2="45.53" stroke="#9a9a9a" stroke-width="1"/><line x1="338.2" y1="45.53" x2="336" y2="45.53" stroke="#9a9a9a" stroke-width="1"/><line x1="207.6" y1="34.02" x2="209.8" y2="34.02" stroke="#9a9a9a" stroke-width="1"/><line x1="338.2" y1="34.02" x2="336" y2="34.02" stroke="#9a9a9a" stroke-width="1"/><line x1="207.6" y1="22.51" x2="209.8" y2="22.51" stroke="#9a9a9a" stroke-width="1"/><line x1="338.2" y1="22.51" x2="336" y2="22.51" stroke="#9a9a9a" stroke-width="1"/><text x="207.6" y="134.4" font-size="7.2" text-anchor="middle" fill="#262626" color="#262626">0</text><text x="236.62" y="134.4" font-size="7.2" text-anchor="middle" fill="#262626" color="#262626">20</text><text x="265.64" y="134.4" font-size="7.2" text-anchor="middle" fill="#262626" color="#262626">40</text><text x="294.67" y="134.4" font-size="7.2" text-anchor="middle" fill="#262626" color="#262626">60</text><text x="323.69" y="134.4" font-size="7.2" text-anchor="middle" fill="#262626" color="#262626">80</text><text x="203.4" y="127.8" font-size="7.2" text-anchor="end" fill="#262626" color="#262626">0</text><text x="203.4" y="104.78" font-size="7.2" text-anchor="end" fill="#262626" color="#262626">0.4</text><text x="203.4" y="81.76" font-size="7.2" text-anchor="end" fill="#262626" color="#262626">0.8</text><text x="203.4" y="58.74" font-size="7.2" text-anchor="end" fill="#262626" color="#262626">1.2</text><text x="203.4" y="35.72" font-size="7.2" text-anchor="end" fill="#262626" color="#262626">1.6</text><text x="203.4" y="12.7" font-size="7.2" text-anchor="end" fill="#262626" color="#262626">2</text><text x="272.5" y="143.5" font-size="7.85" text-anchor="middle" fill="#262626" color="#262626">Time (minutes)</text><text x="184" y="68.55" font-size="7.6" text-anchor="middle" fill="#262626" color="#262626" transform="rotate(-90 184 68.55)">Clot Formation (A<tspan font-size="4.7" dy="4.8">405</tspan><tspan dy="-4.8">)</tspan></text><polyline points="207.6,112.29 207.96,111.7 208.33,110.92 208.69,109.95 209.05,108.73 209.41,107.28 209.78,105.64 210.14,103.84 210.5,101.9 210.86,99.86 211.23,97.75 211.59,95.39 211.95,92.47 212.32,89.22 212.68,85.86 213.04,82.64 213.4,79.79 213.77,77.54 214.13,75.79 214.49,74.14 214.86,72.95 215.22,72.57 215.58,72.51 215.94,72.47 216.31,72.44 216.67,72.41 217.03,72.38 217.39,72.37 217.76,72.35 218.12,72.34 218.48,72.32 218.85,72.31 219.21,72.29 219.57,72.27 219.93,72.25 220.3,72.23 220.66,72.22 221.02,72.2 221.39,72.18 221.75,72.16 222.11,72.14 222.47,72.12 222.84,72.11 223.2,72.09 223.56,72.07 223.92,72.05 224.29,72.03 224.65,72.02 225.01,72 225.38,71.98 225.74,71.96 226.1,71.95 226.46,71.93 226.83,71.91 227.19,71.9 227.55,71.88 227.92,71.86 228.28,71.85 228.64,71.83 229,71.81 229.37,71.8 229.73,71.78 230.09,71.76 230.45,71.75 230.82,71.73 231.18,71.72 231.54,71.7 231.91,71.69 232.27,71.67 232.63,71.66 232.99,71.64 233.36,71.63 233.72,71.61 234.08,71.6 234.45,71.58 234.81,71.57 235.17,71.56 235.53,71.54 235.9,71.53 236.26,71.52 236.62,71.5 236.98,71.49 237.35,71.48 237.71,71.46 238.07,71.45 238.44,71.44 238.8,71.43 239.16,71.42 239.52,71.4 239.89,71.39 240.25,71.38 240.61,71.37 240.98,71.36 241.34,71.35 241.7,71.34 242.06,71.33 242.43,71.32 242.79,71.31 243.15,71.3 243.51,71.29 243.88,71.28 244.24,71.27 244.6,71.26 244.97,71.25 245.33,71.24 245.69,71.24 246.05,71.23 246.42,71.22 246.78,71.21 247.14,71.2 247.51,71.2 247.87,71.19 248.23,71.18 248.59,71.18 248.96,71.17 249.32,71.17 249.68,71.16 250.04,71.15 250.41,71.15 250.77,71.14 251.13,71.14 251.5,71.14 251.86,71.13 252.22,71.13 252.58,71.12 252.95,71.12 253.31,71.11 253.67,71.11 254.04,71.1 254.4,71.1 254.76,71.1 255.12,71.09 255.49,71.09 255.85,71.08 256.21,71.08 256.57,71.07 256.94,71.07 257.3,71.06 257.66,71.06 258.03,71.06 258.39,71.05 258.75,71.05 259.11,71.04 259.48,71.04 259.84,71.04 260.2,71.03 260.57,71.03 260.93,71.02 261.29,71.02 261.65,71.01 262.02,71.01 262.38,71.01 262.74,71 263.11,71 263.47,70.99 263.83,70.99 264.19,70.99 264.56,70.98 264.92,70.98 265.28,70.98 265.64,70.97 266.01,70.97 266.37,70.96 266.73,70.96 267.1,70.96 267.46,70.95 267.82,70.95 268.18,70.94 268.55,70.94 268.91,70.94 269.27,70.93 269.63,70.93 270,70.93 270.36,70.92 270.72,70.92 271.09,70.91 271.45,70.91 271.81,70.91 272.17,70.9 272.54,70.9 272.9,70.9 273.26,70.89 273.63,70.89 273.99,70.89 274.35,70.88 274.71,70.88 275.08,70.88 275.44,70.87 275.8,70.87 276.16,70.87 276.53,70.86 276.89,70.86 277.25,70.86 277.62,70.85 277.98,70.85 278.34,70.85 278.7,70.84 279.07,70.84 279.43,70.84 279.79,70.83 280.16,70.83 280.52,70.83 280.88,70.82 281.24,70.82 281.61,70.82 281.97,70.81 282.33,70.81 282.69,70.81 283.06,70.8 283.42,70.8 283.78,70.8 284.15,70.8 284.51,70.79 284.87,70.79 285.23,70.79 285.6,70.78 285.96,70.78 286.32,70.78 286.69,70.77 287.05,70.77 287.41,70.77 287.77,70.77 288.14,70.76 288.5,70.76 288.86,70.76 289.23,70.75 289.59,70.75 289.95,70.75 290.31,70.75 290.68,70.74 291.04,70.74 291.4,70.74 291.76,70.74 292.13,70.73 292.49,70.73 292.85,70.73 293.22,70.73 293.58,70.72 293.94,70.72 294.3,70.72 294.67,70.72 295.03,70.71 295.39,70.71 295.75,70.71 296.12,70.71 296.48,70.7 296.84,70.7 297.21,70.7 297.57,70.7 297.93,70.69 298.29,70.69 298.66,70.69 299.02,70.69 299.38,70.69 299.75,70.68 300.11,70.68 300.47,70.68 300.83,70.68 301.2,70.67 301.56,70.67 301.92,70.67 302.28,70.67 302.65,70.67 303.01,70.66 303.37,70.66 303.74,70.66 304.1,70.66 304.46,70.66 304.82,70.65 305.19,70.65 305.55,70.65 305.91,70.65 306.28,70.65 306.64,70.65 307,70.64 307.36,70.64 307.73,70.64 308.09,70.64 308.45,70.64 308.81,70.63 309.18,70.63 309.54,70.63 309.9,70.63 310.27,70.63 310.63,70.63 310.99,70.62 311.35,70.62 311.72,70.62 312.08,70.62 312.44,70.62 312.81,70.62 313.17,70.62 313.53,70.61 313.89,70.61 314.26,70.61 314.62,70.61 314.98,70.61 315.34,70.61 315.71,70.61 316.07,70.6 316.43,70.6 316.8,70.6 317.16,70.6 317.52,70.6 317.88,70.6 318.25,70.6 318.61,70.6 318.97,70.59 319.34,70.59 319.7,70.59 320.06,70.59 320.42,70.59 320.79,70.59 321.15,70.59 321.51,70.59 321.88,70.59 322.24,70.59 322.6,70.58 322.96,70.58 323.33,70.58 323.69,70.58 324.05,70.58 324.41,70.58 324.78,70.58 325.14,70.58 325.5,70.58 325.87,70.58 326.23,70.58 326.59,70.58 326.95,70.57 327.32,70.57 327.68,70.57 328.04,70.57 328.4,70.57 328.77,70.57 329.13,70.57 329.49,70.57 329.86,70.57 330.22,70.57 330.58,70.57 330.94,70.57 331.31,70.57 331.67,70.57 332.03,70.57 332.4,70.57 332.76,70.57 333.12,70.57 333.48,70.57 333.85,70.57 334.21,70.57 334.57,70.57 334.94,70.57 335.3,70.56 335.66,70.56 336.02,70.56 336.39,70.56 336.75,70.56 337.11,70.56 337.47,70.56 337.84,70.56 338.2,70.56" fill="none" stroke="#444444" stroke-width="1" stroke-linejoin="round"/><circle cx="208.4" cy="110.75" r="1.05" fill="#e4e4e4" stroke="#777777" stroke-width="0.75"/><circle cx="211.3" cy="97.32" r="1.05" fill="#e4e4e4" stroke="#777777" stroke-width="0.75"/><circle cx="214.2" cy="75.44" r="1.05" fill="#e4e4e4" stroke="#777777" stroke-width="0.75"/><circle cx="217.1" cy="72.38" r="1.05" fill="#e4e4e4" stroke="#777777" stroke-width="0.75"/><circle cx="220.01" cy="72.25" r="1.05" fill="#e4e4e4" stroke="#777777" stroke-width="0.75"/><circle cx="222.91" cy="72.1" r="1.05" fill="#e4e4e4" stroke="#777777" stroke-width="0.75"/><circle cx="225.81" cy="71.96" r="1.05" fill="#e4e4e4" stroke="#777777" stroke-width="0.75"/><circle cx="228.71" cy="71.83" r="1.05" fill="#e4e4e4" stroke="#777777" stroke-width="0.75"/><circle cx="231.62" cy="71.7" r="1.05" fill="#e4e4e4" stroke="#777777" stroke-width="0.75"/><circle cx="234.52" cy="71.58" r="1.05" fill="#e4e4e4" stroke="#777777" stroke-width="0.75"/><circle cx="237.42" cy="71.47" r="1.05" fill="#e4e4e4" stroke="#777777" stroke-width="0.75"/><circle cx="240.32" cy="71.38" r="1.05" fill="#e4e4e4" stroke="#777777" stroke-width="0.75"/><circle cx="243.22" cy="71.3" r="1.05" fill="#e4e4e4" stroke="#777777" stroke-width="0.75"/><circle cx="246.13" cy="71.23" r="1.05" fill="#e4e4e4" stroke="#777777" stroke-width="0.75"/><circle cx="249.03" cy="71.17" r="1.05" fill="#e4e4e4" stroke="#777777" stroke-width="0.75"/><circle cx="251.93" cy="71.13" r="1.05" fill="#e4e4e4" stroke="#777777" stroke-width="0.75"/><circle cx="254.83" cy="71.09" r="1.05" fill="#e4e4e4" stroke="#777777" stroke-width="0.75"/><circle cx="257.74" cy="71.06" r="1.05" fill="#e4e4e4" stroke="#777777" stroke-width="0.75"/><circle cx="260.64" cy="71.03" r="1.05" fill="#e4e4e4" stroke="#777777" stroke-width="0.75"/><circle cx="263.54" cy="70.99" r="1.05" fill="#e4e4e4" stroke="#777777" stroke-width="0.75"/><circle cx="266.44" cy="70.96" r="1.05" fill="#e4e4e4" stroke="#777777" stroke-width="0.75"/><circle cx="269.34" cy="70.93" r="1.05" fill="#e4e4e4" stroke="#777777" stroke-width="0.75"/><circle cx="272.25" cy="70.9" r="1.05" fill="#e4e4e4" stroke="#777777" stroke-width="0.75"/><circle cx="275.15" cy="70.88" r="1.05" fill="#e4e4e4" stroke="#777777" stroke-width="0.75"/><circle cx="278.05" cy="70.85" r="1.05" fill="#e4e4e4" stroke="#777777" stroke-width="0.75"/><circle cx="280.95" cy="70.82" r="1.05" fill="#e4e4e4" stroke="#777777" stroke-width="0.75"/><circle cx="283.86" cy="70.8" r="1.05" fill="#e4e4e4" stroke="#777777" stroke-width="0.75"/><circle cx="286.76" cy="70.77" r="1.05" fill="#e4e4e4" stroke="#777777" stroke-width="0.75"/><circle cx="289.66" cy="70.75" r="1.05" fill="#e4e4e4" stroke="#777777" stroke-width="0.75"/><circle cx="292.56" cy="70.73" r="1.05" fill="#e4e4e4" stroke="#777777" stroke-width="0.75"/><circle cx="295.46" cy="70.71" r="1.05" fill="#e4e4e4" stroke="#777777" stroke-width="0.75"/><circle cx="298.37" cy="70.69" r="1.05" fill="#e4e4e4" stroke="#777777" stroke-width="0.75"/><circle cx="301.27" cy="70.67" r="1.05" fill="#e4e4e4" stroke="#777777" stroke-width="0.75"/><circle cx="304.17" cy="70.66" r="1.05" fill="#e4e4e4" stroke="#777777" stroke-width="0.75"/><circle cx="307.07" cy="70.64" r="1.05" fill="#e4e4e4" stroke="#777777" stroke-width="0.75"/><circle cx="309.98" cy="70.63" r="1.05" fill="#e4e4e4" stroke="#777777" stroke-width="0.75"/><circle cx="312.88" cy="70.62" r="1.05" fill="#e4e4e4" stroke="#777777" stroke-width="0.75"/><circle cx="315.78" cy="70.61" r="1.05" fill="#e4e4e4" stroke="#777777" stroke-width="0.75"/><circle cx="318.68" cy="70.6" r="1.05" fill="#e4e4e4" stroke="#777777" stroke-width="0.75"/><circle cx="321.58" cy="70.59" r="1.05" fill="#e4e4e4" stroke="#777777" stroke-width="0.75"/><circle cx="324.49" cy="70.58" r="1.05" fill="#e4e4e4" stroke="#777777" stroke-width="0.75"/><circle cx="327.39" cy="70.57" r="1.05" fill="#e4e4e4" stroke="#777777" stroke-width="0.75"/><circle cx="330.29" cy="70.57" r="1.05" fill="#e4e4e4" stroke="#777777" stroke-width="0.75"/><circle cx="333.19" cy="70.57" r="1.05" fill="#e4e4e4" stroke="#777777" stroke-width="0.75"/><circle cx="336.1" cy="70.56" r="1.05" fill="#e4e4e4" stroke="#777777" stroke-width="0.75"/><polyline points="207.6,112.29 207.96,111.7 208.33,110.92 208.69,109.96 209.05,108.83 209.41,107.5 209.78,105.99 210.14,104.27 210.5,102.34 210.86,100.2 211.23,97.83 211.59,95 211.95,91.32 212.32,86.9 212.68,81.87 213.04,76.36 213.4,70.51 213.77,64.43 214.13,58.27 214.49,50.69 214.86,41.96 215.22,37.71 215.58,36.24 215.94,35.15 216.31,34.42 216.67,34.05 217.03,33.92 217.39,33.81 217.76,33.71 218.12,33.63 218.48,33.56 218.85,33.5 219.21,33.44 219.57,33.39 219.93,33.35 220.3,33.32 220.66,33.28 221.02,33.25 221.39,33.22 221.75,33.19 222.11,33.16 222.47,33.12 222.84,33.09 223.2,33.05 223.56,33.02 223.92,32.98 224.29,32.95 224.65,32.92 225.01,32.88 225.38,32.85 225.74,32.82 226.1,32.78 226.46,32.75 226.83,32.72 227.19,32.69 227.55,32.65 227.92,32.62 228.28,32.59 228.64,32.56 229,32.53 229.37,32.5 229.73,32.47 230.09,32.44 230.45,32.41 230.82,32.38 231.18,32.35 231.54,32.33 231.91,32.3 232.27,32.27 232.63,32.24 232.99,32.22 233.36,32.19 233.72,32.16 234.08,32.14 234.45,32.11 234.81,32.09 235.17,32.06 235.53,32.04 235.9,32.01 236.26,31.99 236.62,31.97 236.98,31.95 237.35,31.92 237.71,31.9 238.07,31.88 238.44,31.86 238.8,31.84 239.16,31.82 239.52,31.8 239.89,31.78 240.25,31.76 240.61,31.74 240.98,31.72 241.34,31.71 241.7,31.69 242.06,31.67 242.43,31.66 242.79,31.64 243.15,31.63 243.51,31.61 243.88,31.6 244.24,31.58 244.6,31.57 244.97,31.56 245.33,31.55 245.69,31.54 246.05,31.52 246.42,31.51 246.78,31.5 247.14,31.5 247.51,31.49 247.87,31.48 248.23,31.47 248.59,31.46 248.96,31.46 249.32,31.45 249.68,31.45 250.04,31.44 250.41,31.44 250.77,31.43 251.13,31.43 251.5,31.43 251.86,31.42 252.22,31.42 252.58,31.42 252.95,31.42 253.31,31.41 253.67,31.41 254.04,31.41 254.4,31.41 254.76,31.4 255.12,31.4 255.49,31.4 255.85,31.4 256.21,31.39 256.57,31.39 256.94,31.39 257.3,31.39 257.66,31.38 258.03,31.38 258.39,31.38 258.75,31.38 259.11,31.37 259.48,31.37 259.84,31.37 260.2,31.37 260.57,31.37 260.93,31.36 261.29,31.36 261.65,31.36 262.02,31.36 262.38,31.35 262.74,31.35 263.11,31.35 263.47,31.35 263.83,31.35 264.19,31.34 264.56,31.34 264.92,31.34 265.28,31.34 265.64,31.33 266.01,31.33 266.37,31.33 266.73,31.33 267.1,31.33 267.46,31.32 267.82,31.32 268.18,31.32 268.55,31.32 268.91,31.32 269.27,31.31 269.63,31.31 270,31.31 270.36,31.31 270.72,31.31 271.09,31.3 271.45,31.3 271.81,31.3 272.17,31.3 272.54,31.3 272.9,31.3 273.26,31.29 273.63,31.29 273.99,31.29 274.35,31.29 274.71,31.29 275.08,31.28 275.44,31.28 275.8,31.28 276.16,31.28 276.53,31.28 276.89,31.28 277.25,31.27 277.62,31.27 277.98,31.27 278.34,31.27 278.7,31.27 279.07,31.27 279.43,31.26 279.79,31.26 280.16,31.26 280.52,31.26 280.88,31.26 281.24,31.26 281.61,31.25 281.97,31.25 282.33,31.25 282.69,31.25 283.06,31.25 283.42,31.25 283.78,31.25 284.15,31.24 284.51,31.24 284.87,31.24 285.23,31.24 285.6,31.24 285.96,31.24 286.32,31.24 286.69,31.23 287.05,31.23 287.41,31.23 287.77,31.23 288.14,31.23 288.5,31.23 288.86,31.23 289.23,31.22 289.59,31.22 289.95,31.22 290.31,31.22 290.68,31.22 291.04,31.22 291.4,31.22 291.76,31.22 292.13,31.21 292.49,31.21 292.85,31.21 293.22,31.21 293.58,31.21 293.94,31.21 294.3,31.21 294.67,31.21 295.03,31.21 295.39,31.2 295.75,31.2 296.12,31.2 296.48,31.2 296.84,31.2 297.21,31.2 297.57,31.2 297.93,31.2 298.29,31.2 298.66,31.19 299.02,31.19 299.38,31.19 299.75,31.19 300.11,31.19 300.47,31.19 300.83,31.19 301.2,31.19 301.56,31.19 301.92,31.19 302.28,31.18 302.65,31.18 303.01,31.18 303.37,31.18 303.74,31.18 304.1,31.18 304.46,31.18 304.82,31.18 305.19,31.18 305.55,31.18 305.91,31.18 306.28,31.18 306.64,31.17 307,31.17 307.36,31.17 307.73,31.17 308.09,31.17 308.45,31.17 308.81,31.17 309.18,31.17 309.54,31.17 309.9,31.17 310.27,31.17 310.63,31.17 310.99,31.17 311.35,31.17 311.72,31.16 312.08,31.16 312.44,31.16 312.81,31.16 313.17,31.16 313.53,31.16 313.89,31.16 314.26,31.16 314.62,31.16 314.98,31.16 315.34,31.16 315.71,31.16 316.07,31.16 316.43,31.16 316.8,31.16 317.16,31.16 317.52,31.16 317.88,31.16 318.25,31.15 318.61,31.15 318.97,31.15 319.34,31.15 319.7,31.15 320.06,31.15 320.42,31.15 320.79,31.15 321.15,31.15 321.51,31.15 321.88,31.15 322.24,31.15 322.6,31.15 322.96,31.15 323.33,31.15 323.69,31.15 324.05,31.15 324.41,31.15 324.78,31.15 325.14,31.15 325.5,31.15 325.87,31.15 326.23,31.15 326.59,31.15 326.95,31.15 327.32,31.15 327.68,31.15 328.04,31.15 328.4,31.15 328.77,31.15 329.13,31.14 329.49,31.14 329.86,31.14 330.22,31.14 330.58,31.14 330.94,31.14 331.31,31.14 331.67,31.14 332.03,31.14 332.4,31.14 332.76,31.14 333.12,31.14 333.48,31.14 333.85,31.14 334.21,31.14 334.57,31.14 334.94,31.14 335.3,31.14 335.66,31.14 336.02,31.14 336.39,31.14 336.75,31.14 337.11,31.14 337.47,31.14 337.84,31.14 338.2,31.14" fill="none" stroke="#000" stroke-width="0.6" stroke-linejoin="round"/><circle cx="208.4" cy="110.75" r="1.15" fill="#000"/><circle cx="211.3" cy="97.32" r="1.15" fill="#000"/><circle cx="214.2" cy="57.04" r="1.15" fill="#000"/><circle cx="217.1" cy="33.9" r="1.15" fill="#000"/><circle cx="220.01" cy="33.35" r="1.15" fill="#000"/><circle cx="222.91" cy="33.08" r="1.15" fill="#000"/><circle cx="225.81" cy="32.81" r="1.15" fill="#000"/><circle cx="228.71" cy="32.56" r="1.15" fill="#000"/><circle cx="231.62" cy="32.32" r="1.15" fill="#000"/><circle cx="234.52" cy="32.11" r="1.15" fill="#000"/><circle cx="237.42" cy="31.92" r="1.15" fill="#000"/><circle cx="240.32" cy="31.76" r="1.15" fill="#000"/><circle cx="243.22" cy="31.62" r="1.15" fill="#000"/><circle cx="246.13" cy="31.52" r="1.15" fill="#000"/><circle cx="249.03" cy="31.46" r="1.15" fill="#000"/><circle cx="251.93" cy="31.42" r="1.15" fill="#000"/><circle cx="254.83" cy="31.4" r="1.15" fill="#000"/><circle cx="257.74" cy="31.38" r="1.15" fill="#000"/><circle cx="260.64" cy="31.37" r="1.15" fill="#000"/><circle cx="263.54" cy="31.35" r="1.15" fill="#000"/><circle cx="266.44" cy="31.33" r="1.15" fill="#000"/><circle cx="269.34" cy="31.31" r="1.15" fill="#000"/><circle cx="272.25" cy="31.3" r="1.15" fill="#000"/><circle cx="275.15" cy="31.28" r="1.15" fill="#000"/><circle cx="278.05" cy="31.27" r="1.15" fill="#000"/><circle cx="280.95" cy="31.26" r="1.15" fill="#000"/><circle cx="283.86" cy="31.25" r="1.15" fill="#000"/><circle cx="286.76" cy="31.23" r="1.15" fill="#000"/><circle cx="289.66" cy="31.22" r="1.15" fill="#000"/><circle cx="292.56" cy="31.21" r="1.15" fill="#000"/><circle cx="295.46" cy="31.2" r="1.15" fill="#000"/><circle cx="298.37" cy="31.2" r="1.15" fill="#000"/><circle cx="301.27" cy="31.19" r="1.15" fill="#000"/><circle cx="304.17" cy="31.18" r="1.15" fill="#000"/><circle cx="307.07" cy="31.17" r="1.15" fill="#000"/><circle cx="309.98" cy="31.17" r="1.15" fill="#000"/><circle cx="312.88" cy="31.16" r="1.15" fill="#000"/><circle cx="315.78" cy="31.16" r="1.15" fill="#000"/><circle cx="318.68" cy="31.15" r="1.15" fill="#000"/><circle cx="321.58" cy="31.15" r="1.15" fill="#000"/><circle cx="324.49" cy="31.15" r="1.15" fill="#000"/><circle cx="327.39" cy="31.15" r="1.15" fill="#000"/><circle cx="330.29" cy="31.14" r="1.15" fill="#000"/><circle cx="333.19" cy="31.14" r="1.15" fill="#000"/><circle cx="336.1" cy="31.14" r="1.15" fill="#000"/><polyline points="207.6,112.29 207.96,111.7 208.33,110.92 208.69,109.97 209.05,108.84 209.41,107.54 209.78,106.05 210.14,104.34 210.5,102.42 210.86,100.25 211.23,97.84 211.59,94.63 211.95,89.8 212.32,83.8 212.68,77.11 213.04,70.21 213.4,63.6 213.77,57.75 214.13,53.16 214.49,49.65 214.86,46.53 215.22,44.56 215.58,43.86 215.94,43.34 216.31,42.97 216.67,42.73 217.03,42.61 217.39,42.52 217.76,42.44 218.12,42.36 218.48,42.28 218.85,42.21 219.21,42.14 219.57,42.07 219.93,42.01 220.3,41.96 220.66,41.9 221.02,41.85 221.39,41.81 221.75,41.76 222.11,41.72 222.47,41.68 222.84,41.65 223.2,41.61 223.56,41.58 223.92,41.55 224.29,41.52 224.65,41.5 225.01,41.47 225.38,41.45 225.74,41.42 226.1,41.4 226.46,41.38 226.83,41.36 227.19,41.34 227.55,41.32 227.92,41.3 228.28,41.28 228.64,41.26 229,41.24 229.37,41.21 229.73,41.19 230.09,41.17 230.45,41.15 230.82,41.13 231.18,41.1 231.54,41.08 231.91,41.06 232.27,41.04 232.63,41.02 232.99,41 233.36,40.98 233.72,40.96 234.08,40.94 234.45,40.92 234.81,40.9 235.17,40.88 235.53,40.86 235.9,40.84 236.26,40.82 236.62,40.8 236.98,40.78 237.35,40.77 237.71,40.75 238.07,40.73 238.44,40.71 238.8,40.7 239.16,40.68 239.52,40.67 239.89,40.65 240.25,40.63 240.61,40.62 240.98,40.6 241.34,40.59 241.7,40.58 242.06,40.56 242.43,40.55 242.79,40.54 243.15,40.52 243.51,40.51 243.88,40.5 244.24,40.49 244.6,40.48 244.97,40.47 245.33,40.45 245.69,40.44 246.05,40.44 246.42,40.43 246.78,40.42 247.14,40.41 247.51,40.4 247.87,40.39 248.23,40.39 248.59,40.38 248.96,40.38 249.32,40.37 249.68,40.37 250.04,40.36 250.41,40.36 250.77,40.35 251.13,40.35 251.5,40.35 251.86,40.35 252.22,40.34 252.58,40.34 252.95,40.34 253.31,40.33 253.67,40.33 254.04,40.33 254.4,40.33 254.76,40.32 255.12,40.32 255.49,40.32 255.85,40.32 256.21,40.31 256.57,40.31 256.94,40.31 257.3,40.31 257.66,40.3 258.03,40.3 258.39,40.3 258.75,40.3 259.11,40.3 259.48,40.29 259.84,40.29 260.2,40.29 260.57,40.29 260.93,40.28 261.29,40.28 261.65,40.28 262.02,40.28 262.38,40.27 262.74,40.27 263.11,40.27 263.47,40.27 263.83,40.27 264.19,40.26 264.56,40.26 264.92,40.26 265.28,40.26 265.64,40.26 266.01,40.25 266.37,40.25 266.73,40.25 267.1,40.25 267.46,40.24 267.82,40.24 268.18,40.24 268.55,40.24 268.91,40.24 269.27,40.23 269.63,40.23 270,40.23 270.36,40.23 270.72,40.23 271.09,40.23 271.45,40.22 271.81,40.22 272.17,40.22 272.54,40.22 272.9,40.22 273.26,40.21 273.63,40.21 273.99,40.21 274.35,40.21 274.71,40.21 275.08,40.2 275.44,40.2 275.8,40.2 276.16,40.2 276.53,40.2 276.89,40.2 277.25,40.19 277.62,40.19 277.98,40.19 278.34,40.19 278.7,40.19 279.07,40.19 279.43,40.18 279.79,40.18 280.16,40.18 280.52,40.18 280.88,40.18 281.24,40.18 281.61,40.17 281.97,40.17 282.33,40.17 282.69,40.17 283.06,40.17 283.42,40.17 283.78,40.17 284.15,40.16 284.51,40.16 284.87,40.16 285.23,40.16 285.6,40.16 285.96,40.16 286.32,40.16 286.69,40.15 287.05,40.15 287.41,40.15 287.77,40.15 288.14,40.15 288.5,40.15 288.86,40.15 289.23,40.14 289.59,40.14 289.95,40.14 290.31,40.14 290.68,40.14 291.04,40.14 291.4,40.14 291.76,40.14 292.13,40.13 292.49,40.13 292.85,40.13 293.22,40.13 293.58,40.13 293.94,40.13 294.3,40.13 294.67,40.13 295.03,40.13 295.39,40.12 295.75,40.12 296.12,40.12 296.48,40.12 296.84,40.12 297.21,40.12 297.57,40.12 297.93,40.12 298.29,40.12 298.66,40.11 299.02,40.11 299.38,40.11 299.75,40.11 300.11,40.11 300.47,40.11 300.83,40.11 301.2,40.11 301.56,40.11 301.92,40.11 302.28,40.11 302.65,40.1 303.01,40.1 303.37,40.1 303.74,40.1 304.1,40.1 304.46,40.1 304.82,40.1 305.19,40.1 305.55,40.1 305.91,40.1 306.28,40.1 306.64,40.1 307,40.09 307.36,40.09 307.73,40.09 308.09,40.09 308.45,40.09 308.81,40.09 309.18,40.09 309.54,40.09 309.9,40.09 310.27,40.09 310.63,40.09 310.99,40.09 311.35,40.09 311.72,40.09 312.08,40.08 312.44,40.08 312.81,40.08 313.17,40.08 313.53,40.08 313.89,40.08 314.26,40.08 314.62,40.08 314.98,40.08 315.34,40.08 315.71,40.08 316.07,40.08 316.43,40.08 316.8,40.08 317.16,40.08 317.52,40.08 317.88,40.08 318.25,40.08 318.61,40.07 318.97,40.07 319.34,40.07 319.7,40.07 320.06,40.07 320.42,40.07 320.79,40.07 321.15,40.07 321.51,40.07 321.88,40.07 322.24,40.07 322.6,40.07 322.96,40.07 323.33,40.07 323.69,40.07 324.05,40.07 324.41,40.07 324.78,40.07 325.14,40.07 325.5,40.07 325.87,40.07 326.23,40.07 326.59,40.07 326.95,40.07 327.32,40.07 327.68,40.07 328.04,40.07 328.4,40.07 328.77,40.07 329.13,40.07 329.49,40.07 329.86,40.06 330.22,40.06 330.58,40.06 330.94,40.06 331.31,40.06 331.67,40.06 332.03,40.06 332.4,40.06 332.76,40.06 333.12,40.06 333.48,40.06 333.85,40.06 334.21,40.06 334.57,40.06 334.94,40.06 335.3,40.06 335.66,40.06 336.02,40.06 336.39,40.06 336.75,40.06 337.11,40.06 337.47,40.06 337.84,40.06 338.2,40.06" fill="none" stroke="#000" stroke-width="1" stroke-linejoin="round"/><rect x="206.9" y="109.25" width="3" height="3" fill="#000"/><rect x="209.8" y="95.82" width="3" height="3" fill="#000"/><rect x="212.7" y="50.94" width="3" height="3" fill="#000"/><rect x="215.6" y="41.1" width="3" height="3" fill="#000"/><rect x="218.51" y="40.5" width="3" height="3" fill="#000"/><rect x="221.41" y="40.14" width="3" height="3" fill="#000"/><rect x="224.31" y="39.92" width="3" height="3" fill="#000"/><rect x="227.21" y="39.75" width="3" height="3" fill="#000"/><rect x="230.12" y="39.58" width="3" height="3" fill="#000"/><rect x="233.02" y="39.41" width="3" height="3" fill="#000"/><rect x="235.92" y="39.26" width="3" height="3" fill="#000"/><rect x="238.82" y="39.13" width="3" height="3" fill="#000"/><rect x="241.72" y="39.02" width="3" height="3" fill="#000"/><rect x="244.63" y="38.93" width="3" height="3" fill="#000"/><rect x="247.53" y="38.87" width="3" height="3" fill="#000"/><rect x="250.43" y="38.84" width="3" height="3" fill="#000"/><rect x="253.33" y="38.82" width="3" height="3" fill="#000"/><rect x="256.24" y="38.8" width="3" height="3" fill="#000"/><rect x="259.14" y="38.79" width="3" height="3" fill="#000"/><rect x="262.04" y="38.77" width="3" height="3" fill="#000"/><rect x="264.94" y="38.75" width="3" height="3" fill="#000"/><rect x="267.84" y="38.73" width="3" height="3" fill="#000"/><rect x="270.75" y="38.72" width="3" height="3" fill="#000"/><rect x="273.65" y="38.7" width="3" height="3" fill="#000"/><rect x="276.55" y="38.69" width="3" height="3" fill="#000"/><rect x="279.45" y="38.68" width="3" height="3" fill="#000"/><rect x="282.36" y="38.67" width="3" height="3" fill="#000"/><rect x="285.26" y="38.65" width="3" height="3" fill="#000"/><rect x="288.16" y="38.64" width="3" height="3" fill="#000"/><rect x="291.06" y="38.63" width="3" height="3" fill="#000"/><rect x="293.96" y="38.62" width="3" height="3" fill="#000"/><rect x="296.87" y="38.62" width="3" height="3" fill="#000"/><rect x="299.77" y="38.61" width="3" height="3" fill="#000"/><rect x="302.67" y="38.6" width="3" height="3" fill="#000"/><rect x="305.57" y="38.59" width="3" height="3" fill="#000"/><rect x="308.48" y="38.59" width="3" height="3" fill="#000"/><rect x="311.38" y="38.58" width="3" height="3" fill="#000"/><rect x="314.28" y="38.58" width="3" height="3" fill="#000"/><rect x="317.18" y="38.57" width="3" height="3" fill="#000"/><rect x="320.08" y="38.57" width="3" height="3" fill="#000"/><rect x="322.99" y="38.57" width="3" height="3" fill="#000"/><rect x="325.89" y="38.57" width="3" height="3" fill="#000"/><rect x="328.79" y="38.56" width="3" height="3" fill="#000"/><rect x="331.69" y="38.56" width="3" height="3" fill="#000"/><rect x="334.6" y="38.56" width="3" height="3" fill="#000"/><polyline points="207.6,112.29 207.96,111.7 208.33,110.92 208.69,109.96 209.05,108.78 209.41,107.41 209.78,105.84 210.14,104.09 210.5,102.16 210.86,100.06 211.23,97.8 211.59,95.12 211.95,91.6 212.32,87.49 212.68,83 213.04,78.4 213.4,73.92 213.77,69.8 214.13,66.28 214.49,63.27 214.86,60.47 215.22,58.45 215.58,57.32 215.94,56.4 216.31,55.72 216.67,55.35 217.03,55.22 217.39,55.11 217.76,55 218.12,54.9 218.48,54.81 218.85,54.72 219.21,54.64 219.57,54.56 219.93,54.48 220.3,54.42 220.66,54.35 221.02,54.29 221.39,54.24 221.75,54.19 222.11,54.14 222.47,54.09 222.84,54.05 223.2,54.01 223.56,53.98 223.92,53.94 224.29,53.91 224.65,53.88 225.01,53.86 225.38,53.83 225.74,53.8 226.1,53.78 226.46,53.76 226.83,53.74 227.19,53.72 227.55,53.7 227.92,53.67 228.28,53.65 228.64,53.63 229,53.61 229.37,53.59 229.73,53.56 230.09,53.54 230.45,53.52 230.82,53.5 231.18,53.47 231.54,53.45 231.91,53.43 232.27,53.41 232.63,53.39 232.99,53.37 233.36,53.35 233.72,53.33 234.08,53.31 234.45,53.29 234.81,53.27 235.17,53.25 235.53,53.23 235.9,53.21 236.26,53.19 236.62,53.18 236.98,53.16 237.35,53.14 237.71,53.12 238.07,53.11 238.44,53.09 238.8,53.08 239.16,53.06 239.52,53.05 239.89,53.03 240.25,53.02 240.61,53 240.98,52.99 241.34,52.97 241.7,52.96 242.06,52.95 242.43,52.93 242.79,52.92 243.15,52.91 243.51,52.9 243.88,52.89 244.24,52.87 244.6,52.86 244.97,52.85 245.33,52.84 245.69,52.83 246.05,52.82 246.42,52.81 246.78,52.81 247.14,52.8 247.51,52.79 247.87,52.78 248.23,52.77 248.59,52.77 248.96,52.76 249.32,52.75 249.68,52.75 250.04,52.74 250.41,52.73 250.77,52.73 251.13,52.72 251.5,52.72 251.86,52.71 252.22,52.71 252.58,52.7 252.95,52.7 253.31,52.7 253.67,52.69 254.04,52.69 254.4,52.68 254.76,52.68 255.12,52.67 255.49,52.67 255.85,52.66 256.21,52.66 256.57,52.65 256.94,52.65 257.3,52.65 257.66,52.64 258.03,52.64 258.39,52.63 258.75,52.63 259.11,52.62 259.48,52.62 259.84,52.61 260.2,52.61 260.57,52.61 260.93,52.6 261.29,52.6 261.65,52.59 262.02,52.59 262.38,52.58 262.74,52.58 263.11,52.58 263.47,52.57 263.83,52.57 264.19,52.56 264.56,52.56 264.92,52.56 265.28,52.55 265.64,52.55 266.01,52.54 266.37,52.54 266.73,52.54 267.1,52.53 267.46,52.53 267.82,52.52 268.18,52.52 268.55,52.52 268.91,52.51 269.27,52.51 269.63,52.51 270,52.5 270.36,52.5 270.72,52.49 271.09,52.49 271.45,52.49 271.81,52.48 272.17,52.48 272.54,52.48 272.9,52.47 273.26,52.47 273.63,52.46 273.99,52.46 274.35,52.46 274.71,52.45 275.08,52.45 275.44,52.45 275.8,52.44 276.16,52.44 276.53,52.44 276.89,52.43 277.25,52.43 277.62,52.43 277.98,52.42 278.34,52.42 278.7,52.42 279.07,52.41 279.43,52.41 279.79,52.41 280.16,52.4 280.52,52.4 280.88,52.4 281.24,52.39 281.61,52.39 281.97,52.39 282.33,52.39 282.69,52.38 283.06,52.38 283.42,52.38 283.78,52.37 284.15,52.37 284.51,52.37 284.87,52.36 285.23,52.36 285.6,52.36 285.96,52.36 286.32,52.35 286.69,52.35 287.05,52.35 287.41,52.34 287.77,52.34 288.14,52.34 288.5,52.34 288.86,52.33 289.23,52.33 289.59,52.33 289.95,52.32 290.31,52.32 290.68,52.32 291.04,52.32 291.4,52.31 291.76,52.31 292.13,52.31 292.49,52.31 292.85,52.3 293.22,52.3 293.58,52.3 293.94,52.3 294.3,52.29 294.67,52.29 295.03,52.29 295.39,52.29 295.75,52.29 296.12,52.28 296.48,52.28 296.84,52.28 297.21,52.28 297.57,52.27 297.93,52.27 298.29,52.27 298.66,52.27 299.02,52.26 299.38,52.26 299.75,52.26 300.11,52.26 300.47,52.26 300.83,52.25 301.2,52.25 301.56,52.25 301.92,52.25 302.28,52.25 302.65,52.24 303.01,52.24 303.37,52.24 303.74,52.24 304.1,52.24 304.46,52.23 304.82,52.23 305.19,52.23 305.55,52.23 305.91,52.23 306.28,52.23 306.64,52.22 307,52.22 307.36,52.22 307.73,52.22 308.09,52.22 308.45,52.22 308.81,52.21 309.18,52.21 309.54,52.21 309.9,52.21 310.27,52.21 310.63,52.21 310.99,52.2 311.35,52.2 311.72,52.2 312.08,52.2 312.44,52.2 312.81,52.2 313.17,52.2 313.53,52.19 313.89,52.19 314.26,52.19 314.62,52.19 314.98,52.19 315.34,52.19 315.71,52.19 316.07,52.19 316.43,52.18 316.8,52.18 317.16,52.18 317.52,52.18 317.88,52.18 318.25,52.18 318.61,52.18 318.97,52.18 319.34,52.18 319.7,52.17 320.06,52.17 320.42,52.17 320.79,52.17 321.15,52.17 321.51,52.17 321.88,52.17 322.24,52.17 322.6,52.17 322.96,52.17 323.33,52.17 323.69,52.16 324.05,52.16 324.41,52.16 324.78,52.16 325.14,52.16 325.5,52.16 325.87,52.16 326.23,52.16 326.59,52.16 326.95,52.16 327.32,52.16 327.68,52.16 328.04,52.16 328.4,52.16 328.77,52.16 329.13,52.15 329.49,52.15 329.86,52.15 330.22,52.15 330.58,52.15 330.94,52.15 331.31,52.15 331.67,52.15 332.03,52.15 332.4,52.15 332.76,52.15 333.12,52.15 333.48,52.15 333.85,52.15 334.21,52.15 334.57,52.15 334.94,52.15 335.3,52.15 335.66,52.15 336.02,52.15 336.39,52.15 336.75,52.15 337.11,52.15 337.47,52.15 337.84,52.15 338.2,52.15" fill="none" stroke="#000" stroke-width="0.8" stroke-linejoin="round"/><circle cx="208.4" cy="110.75" r="1.45" fill="#000"/><circle cx="211.3" cy="97.32" r="1.45" fill="#000"/><circle cx="214.2" cy="65.67" r="1.45" fill="#000"/><circle cx="217.1" cy="55.2" r="1.45" fill="#000"/><circle cx="220.01" cy="54.47" r="1.45" fill="#000"/><circle cx="222.91" cy="54.04" r="1.45" fill="#000"/><circle cx="225.81" cy="53.8" r="1.45" fill="#000"/><circle cx="228.71" cy="53.63" r="1.45" fill="#000"/><circle cx="231.62" cy="53.45" r="1.45" fill="#000"/><circle cx="234.52" cy="53.28" r="1.45" fill="#000"/><circle cx="237.42" cy="53.14" r="1.45" fill="#000"/><circle cx="240.32" cy="53.01" r="1.45" fill="#000"/><circle cx="243.22" cy="52.91" r="1.45" fill="#000"/><circle cx="246.13" cy="52.82" r="1.45" fill="#000"/><circle cx="249.03" cy="52.76" r="1.45" fill="#000"/><circle cx="251.93" cy="52.71" r="1.45" fill="#000"/><circle cx="254.83" cy="52.68" r="1.45" fill="#000"/><circle cx="257.74" cy="52.64" r="1.45" fill="#000"/><circle cx="260.64" cy="52.6" r="1.45" fill="#000"/><circle cx="263.54" cy="52.57" r="1.45" fill="#000"/><circle cx="266.44" cy="52.54" r="1.45" fill="#000"/><circle cx="269.34" cy="52.51" r="1.45" fill="#000"/><circle cx="272.25" cy="52.48" r="1.45" fill="#000"/><circle cx="275.15" cy="52.45" r="1.45" fill="#000"/><circle cx="278.05" cy="52.42" r="1.45" fill="#000"/><circle cx="280.95" cy="52.4" r="1.45" fill="#000"/><circle cx="283.86" cy="52.37" r="1.45" fill="#000"/><circle cx="286.76" cy="52.35" r="1.45" fill="#000"/><circle cx="289.66" cy="52.33" r="1.45" fill="#000"/><circle cx="292.56" cy="52.31" r="1.45" fill="#000"/><circle cx="295.46" cy="52.29" r="1.45" fill="#000"/><circle cx="298.37" cy="52.27" r="1.45" fill="#000"/><circle cx="301.27" cy="52.25" r="1.45" fill="#000"/><circle cx="304.17" cy="52.24" r="1.45" fill="#000"/><circle cx="307.07" cy="52.22" r="1.45" fill="#000"/><circle cx="309.98" cy="52.21" r="1.45" fill="#000"/><circle cx="312.88" cy="52.2" r="1.45" fill="#000"/><circle cx="315.78" cy="52.19" r="1.45" fill="#000"/><circle cx="318.68" cy="52.18" r="1.45" fill="#000"/><circle cx="321.58" cy="52.17" r="1.45" fill="#000"/><circle cx="324.49" cy="52.16" r="1.45" fill="#000"/><circle cx="327.39" cy="52.16" r="1.45" fill="#000"/><circle cx="330.29" cy="52.15" r="1.45" fill="#000"/><circle cx="333.19" cy="52.15" r="1.45" fill="#000"/><circle cx="336.1" cy="52.15" r="1.45" fill="#000"/><rect x="287.8" y="78.6" width="42.4" height="37.8" fill="#fff" stroke="#9a9a9a" stroke-width="0.7"/><line x1="287.8" y1="108.84" x2="289" y2="108.84" stroke="#9a9a9a" stroke-width="0.5"/><line x1="330.2" y1="108.84" x2="329" y2="108.84" stroke="#9a9a9a" stroke-width="0.5"/><line x1="287.8" y1="101.28" x2="289" y2="101.28" stroke="#9a9a9a" stroke-width="0.5"/><line x1="330.2" y1="101.28" x2="329" y2="101.28" stroke="#9a9a9a" stroke-width="0.5"/><line x1="287.8" y1="93.72" x2="289" y2="93.72" stroke="#9a9a9a" stroke-width="0.5"/><line x1="330.2" y1="93.72" x2="329" y2="93.72" stroke="#9a9a9a" stroke-width="0.5"/><line x1="287.8" y1="86.16" x2="289" y2="86.16" stroke="#9a9a9a" stroke-width="0.5"/><line x1="330.2" y1="86.16" x2="329" y2="86.16" stroke="#9a9a9a" stroke-width="0.5"/><line x1="296.28" y1="116.4" x2="296.28" y2="115.2" stroke="#9a9a9a" stroke-width="0.5"/><line x1="296.28" y1="78.6" x2="296.28" y2="79.8" stroke="#9a9a9a" stroke-width="0.5"/><line x1="304.76" y1="116.4" x2="304.76" y2="115.2" stroke="#9a9a9a" stroke-width="0.5"/><line x1="304.76" y1="78.6" x2="304.76" y2="79.8" stroke="#9a9a9a" stroke-width="0.5"/><line x1="313.24" y1="116.4" x2="313.24" y2="115.2" stroke="#9a9a9a" stroke-width="0.5"/><line x1="313.24" y1="78.6" x2="313.24" y2="79.8" stroke="#9a9a9a" stroke-width="0.5"/><line x1="321.72" y1="116.4" x2="321.72" y2="115.2" stroke="#9a9a9a" stroke-width="0.5"/><line x1="321.72" y1="78.6" x2="321.72" y2="79.8" stroke="#9a9a9a" stroke-width="0.5"/><text x="287.1" y="117.3" font-size="2.6" text-anchor="end" fill="#333" color="#333" style="stroke-width:0.05px">0</text><text x="287.1" y="109.74" font-size="2.6" text-anchor="end" fill="#333" color="#333" style="stroke-width:0.05px">0.4</text><text x="287.1" y="102.18" font-size="2.6" text-anchor="end" fill="#333" color="#333" style="stroke-width:0.05px">0.8</text><text x="287.1" y="94.62" font-size="2.6" text-anchor="end" fill="#333" color="#333" style="stroke-width:0.05px">1.2</text><text x="287.1" y="87.06" font-size="2.6" text-anchor="end" fill="#333" color="#333" style="stroke-width:0.05px">1.6</text><text x="287.1" y="79.5" font-size="2.6" text-anchor="end" fill="#333" color="#333" style="stroke-width:0.05px">2</text><text x="287.8" y="119.2" font-size="2.6" text-anchor="middle" fill="#333" color="#333" style="stroke-width:0.05px">0</text><text x="296.28" y="119.2" font-size="2.6" text-anchor="middle" fill="#333" color="#333" style="stroke-width:0.05px">5</text><text x="304.76" y="119.2" font-size="2.6" text-anchor="middle" fill="#333" color="#333" style="stroke-width:0.05px">10</text><text x="313.24" y="119.2" font-size="2.6" text-anchor="middle" fill="#333" color="#333" style="stroke-width:0.05px">15</text><text x="321.72" y="119.2" font-size="2.6" text-anchor="middle" fill="#333" color="#333" style="stroke-width:0.05px">20</text><text x="330.2" y="119.2" font-size="2.6" text-anchor="middle" fill="#333" color="#333" style="stroke-width:0.05px">25</text><text x="309" y="121.3" font-size="2.6" text-anchor="middle" fill="#444" color="#444" style="stroke-width:0.05px">Time (minutes)</text><text x="279.8" y="97.7" font-size="2.4" text-anchor="middle" transform="rotate(-90 279.8 97.7)" fill="#222" color="#222" style="stroke-width:0.1px">Clot Formation (A<tspan font-size="1.7" dy="0.6">405</tspan><tspan dy="-0.6">)</tspan></text><polyline points="287.8,111 288.52,111 289.24,111 289.96,111 290.67,111 291.39,111 292.11,111 292.83,111 293.55,111 294.27,111 294.99,111 295.71,111 296.42,111 297.14,111 297.86,111 298.58,110.77 299.3,110.23 300.02,109.46 300.74,108.55 301.45,107.58 302.17,106.63 302.89,105.51 303.61,104.2 304.33,102.78 305.05,101.32 305.77,99.86 306.48,98.43 307.2,96.9 307.92,95.33 308.64,93.79 309.36,92.35 310.08,91.07 310.8,89.78 311.52,88.51 312.23,87.49 312.95,86.92 313.67,86.71 314.39,86.53 315.11,86.38 315.83,86.27 316.55,86.18 317.26,86.13 317.98,86.1 318.7,86.09 319.42,86.08 320.14,86.07 320.86,86.06 321.58,86.05 322.29,86.04 323.01,86.03 323.73,86.03 324.45,86.02 325.17,86.02 325.89,86.01 326.61,86.01 327.33,86 328.04,86 328.76,86 329.48,86 330.2,86" fill="none" stroke="#000" stroke-width="0.45" stroke-linejoin="round"/><polyline points="287.8,111 288.52,111 289.24,111 289.96,111 290.67,111 291.39,111 292.11,111 292.83,111 293.55,111 294.27,111 294.99,111 295.71,111 296.42,111 297.14,111 297.86,111 298.58,110.77 299.3,110.23 300.02,109.46 300.74,108.55 301.45,107.58 302.17,106.63 302.89,105.48 303.61,104.14 304.33,102.69 305.05,101.23 305.77,99.83 306.48,98.52 307.2,97.17 307.92,95.82 308.64,94.54 309.36,93.39 310.08,92.4 310.8,91.47 311.52,90.59 312.23,89.89 312.95,89.51 313.67,89.38 314.39,89.27 315.11,89.18 315.83,89.11 316.55,89.06 317.26,89.02 317.98,89 318.7,88.99 319.42,88.98 320.14,88.97 320.86,88.96 321.58,88.95 322.29,88.94 323.01,88.93 323.73,88.93 324.45,88.92 325.17,88.92 325.89,88.91 326.61,88.91 327.33,88.91 328.04,88.9 328.76,88.9 329.48,88.9 330.2,88.9" fill="none" stroke="#000" stroke-width="0.7" stroke-linejoin="round"/><circle cx="318.8" cy="89" r="0.6" fill="#000"/><circle cx="327.5" cy="88.9" r="0.6" fill="#000"/><polyline points="287.8,111 288.52,111 289.24,111 289.96,111 290.67,111 291.39,111 292.11,111 292.83,111 293.55,111 294.27,111 294.99,111 295.71,111 296.42,111 297.14,111 297.86,111 298.58,110.77 299.3,110.21 300.02,109.42 300.74,108.51 301.45,107.56 302.17,106.66 302.89,105.62 303.61,104.46 304.33,103.23 305.05,102.01 305.77,100.85 306.48,99.77 307.2,98.68 307.92,97.65 308.64,96.76 309.36,96.07 310.08,95.41 310.8,94.82 311.52,94.3 312.23,93.89 312.95,93.61 313.67,93.43 314.39,93.26 315.11,93.11 315.83,92.99 316.55,92.9 317.26,92.83 317.98,92.8 318.7,92.79 319.42,92.78 320.14,92.77 320.86,92.76 321.58,92.75 322.29,92.74 323.01,92.73 323.73,92.73 324.45,92.72 325.17,92.72 325.89,92.71 326.61,92.71 327.33,92.7 328.04,92.7 328.76,92.7 329.48,92.7 330.2,92.7" fill="none" stroke="#000" stroke-width="0.5" stroke-linejoin="round"/><circle cx="318.8" cy="92.8" r="0.6" fill="#000"/><circle cx="327.5" cy="92.7" r="0.6" fill="#000"/><polyline points="287.8,111 288.52,111 289.24,111 289.96,111 290.67,111 291.39,111 292.11,111 292.83,111 293.55,111 294.27,111 294.99,111 295.71,111 296.42,111 297.14,110.6 297.86,109.2 298.58,107.43 299.3,105.86 300.02,104.12 300.74,102.52 301.45,101.56 302.17,100.99 302.89,100.53 303.61,100.16 304.33,99.84 305.05,99.55 305.77,99.24 306.48,98.91 307.2,98.59 307.92,98.35 308.64,98.21 309.36,98.2 310.08,98.2 310.8,98.2 311.52,98.2 312.23,98.2 312.95,98.2 313.67,98.2 314.39,98.2 315.11,98.2 315.83,98.2 316.55,98.2 317.26,98.2 317.98,98.2 318.7,98.2 319.42,98.2 320.14,98.2 320.86,98.2 321.58,98.2 322.29,98.2 323.01,98.2 323.73,98.2 324.45,98.2 325.17,98.2 325.89,98.2 326.61,98.2 327.33,98.2 328.04,98.2 328.76,98.2 329.48,98.2 330.2,98.2" fill="none" stroke="#444" stroke-width="0.45" stroke-linejoin="round"/><text x="352.6" y="12.9" font-size="12" text-anchor="start" font-weight="bold" fill="#000" color="#000">C</text><rect x="380.6" y="11" width="130.5" height="114.5" fill="none" stroke="#9a9a9a" stroke-width="1"/><line x1="409.6" y1="125.5" x2="409.6" y2="123.3" stroke="#9a9a9a" stroke-width="1"/><line x1="409.6" y1="11" x2="409.6" y2="13.2" stroke="#9a9a9a" stroke-width="1"/><line x1="438.6" y1="125.5" x2="438.6" y2="123.3" stroke="#9a9a9a" stroke-width="1"/><line x1="438.6" y1="11" x2="438.6" y2="13.2" stroke="#9a9a9a" stroke-width="1"/><line x1="467.6" y1="125.5" x2="467.6" y2="123.3" stroke="#9a9a9a" stroke-width="1"/><line x1="467.6" y1="11" x2="467.6" y2="13.2" stroke="#9a9a9a" stroke-width="1"/><line x1="496.6" y1="125.5" x2="496.6" y2="123.3" stroke="#9a9a9a" stroke-width="1"/><line x1="496.6" y1="11" x2="496.6" y2="13.2" stroke="#9a9a9a" stroke-width="1"/><line x1="380.6" y1="114.05" x2="382.8" y2="114.05" stroke="#9a9a9a" stroke-width="1"/><line x1="511.1" y1="114.05" x2="508.9" y2="114.05" stroke="#9a9a9a" stroke-width="1"/><line x1="380.6" y1="102.6" x2="382.8" y2="102.6" stroke="#9a9a9a" stroke-width="1"/><line x1="511.1" y1="102.6" x2="508.9" y2="102.6" stroke="#9a9a9a" stroke-width="1"/><line x1="380.6" y1="91.15" x2="382.8" y2="91.15" stroke="#9a9a9a" stroke-width="1"/><line x1="511.1" y1="91.15" x2="508.9" y2="91.15" stroke="#9a9a9a" stroke-width="1"/><line x1="380.6" y1="79.7" x2="382.8" y2="79.7" stroke="#9a9a9a" stroke-width="1"/><line x1="511.1" y1="79.7" x2="508.9" y2="79.7" stroke="#9a9a9a" stroke-width="1"/><line x1="380.6" y1="68.25" x2="382.8" y2="68.25" stroke="#9a9a9a" stroke-width="1"/><line x1="511.1" y1="68.25" x2="508.9" y2="68.25" stroke="#9a9a9a" stroke-width="1"/><line x1="380.6" y1="56.8" x2="382.8" y2="56.8" stroke="#9a9a9a" stroke-width="1"/><line x1="511.1" y1="56.8" x2="508.9" y2="56.8" stroke="#9a9a9a" stroke-width="1"/><line x1="380.6" y1="45.35" x2="382.8" y2="45.35" stroke="#9a9a9a" stroke-width="1"/><line x1="511.1" y1="45.35" x2="508.9" y2="45.35" stroke="#9a9a9a" stroke-width="1"/><line x1="380.6" y1="33.9" x2="382.8" y2="33.9" stroke="#9a9a9a" stroke-width="1"/><line x1="511.1" y1="33.9" x2="508.9" y2="33.9" stroke="#9a9a9a" stroke-width="1"/><line x1="380.6" y1="22.45" x2="382.8" y2="22.45" stroke="#9a9a9a" stroke-width="1"/><line x1="511.1" y1="22.45" x2="508.9" y2="22.45" stroke="#9a9a9a" stroke-width="1"/><text x="380.6" y="134.4" font-size="7.2" text-anchor="middle" fill="#262626" color="#262626">0</text><text x="409.6" y="134.4" font-size="7.2" text-anchor="middle" fill="#262626" color="#262626">20</text><text x="438.6" y="134.4" font-size="7.2" text-anchor="middle" fill="#262626" color="#262626">40</text><text x="467.6" y="134.4" font-size="7.2" text-anchor="middle" fill="#262626" color="#262626">60</text><text x="496.6" y="134.4" font-size="7.2" text-anchor="middle" fill="#262626" color="#262626">80</text><text x="376.4" y="127.2" font-size="7.2" text-anchor="end" fill="#262626" color="#262626">0</text><text x="376.4" y="104.3" font-size="7.2" text-anchor="end" fill="#262626" color="#262626">0.4</text><text x="376.4" y="81.4" font-size="7.2" text-anchor="end" fill="#262626" color="#262626">0.8</text><text x="376.4" y="58.5" font-size="7.2" text-anchor="end" fill="#262626" color="#262626">1.2</text><text x="376.4" y="35.6" font-size="7.2" text-anchor="end" fill="#262626" color="#262626">1.6</text><text x="376.4" y="12.7" font-size="7.2" text-anchor="end" fill="#262626" color="#262626">2</text><text x="445.45" y="143.5" font-size="7.85" text-anchor="middle" fill="#262626" color="#262626">Time (minutes)</text><text x="357" y="68.25" font-size="7.6" text-anchor="middle" fill="#262626" color="#262626" transform="rotate(-90 357 68.25)">Clot Formation (A<tspan font-size="4.7" dy="4.8">405</tspan><tspan dy="-4.8">)</tspan></text><polyline points="380.6,114.05 380.96,113.95 381.33,113.72 381.69,113.38 382.05,112.94 382.41,112.43 382.78,111.86 383.14,111.25 383.5,110.61 383.86,109.83 384.23,108.8 384.59,107.56 384.95,106.17 385.31,104.69 385.68,103.15 386.04,101.62 386.4,100.14 386.76,98.77 387.12,97.54 387.49,96.34 387.85,95.15 388.21,93.96 388.58,92.78 388.94,91.61 389.3,90.47 389.66,89.34 390.03,88.24 390.39,87.18 390.75,86.15 391.11,85.16 391.48,84.21 391.84,83.31 392.2,82.45 392.56,81.62 392.93,80.79 393.29,79.99 393.65,79.22 394.01,78.49 394.38,77.8 394.74,77.18 395.1,76.61 395.46,76.12 395.83,75.69 396.19,75.27 396.55,74.86 396.91,74.47 397.28,74.09 397.64,73.73 398,73.4 398.36,73.09 398.73,72.81 399.09,72.55 399.45,72.33 399.81,72.15 400.18,72 400.54,71.9 400.9,71.8 401.26,71.71 401.62,71.63 401.99,71.55 402.35,71.47 402.71,71.39 403.08,71.32 403.44,71.25 403.8,71.18 404.16,71.12 404.53,71.06 404.89,71 405.25,70.95 405.61,70.89 405.98,70.84 406.34,70.8 406.7,70.75 407.06,70.71 407.43,70.67 407.79,70.63 408.15,70.59 408.51,70.56 408.88,70.52 409.24,70.49 409.6,70.47 409.96,70.44 410.33,70.41 410.69,70.39 411.05,70.37 411.41,70.35 411.78,70.33 412.14,70.31 412.5,70.3 412.86,70.28 413.23,70.27 413.59,70.25 413.95,70.24 414.31,70.22 414.68,70.21 415.04,70.19 415.4,70.18 415.76,70.16 416.12,70.15 416.49,70.13 416.85,70.12 417.21,70.11 417.58,70.09 417.94,70.08 418.3,70.07 418.66,70.05 419.03,70.04 419.39,70.03 419.75,70.01 420.11,70 420.48,69.99 420.84,69.98 421.2,69.97 421.56,69.95 421.93,69.94 422.29,69.93 422.65,69.92 423.01,69.91 423.38,69.9 423.74,69.89 424.1,69.88 424.46,69.86 424.83,69.85 425.19,69.84 425.55,69.83 425.91,69.82 426.28,69.81 426.64,69.8 427,69.79 427.36,69.78 427.73,69.77 428.09,69.76 428.45,69.76 428.81,69.75 429.18,69.74 429.54,69.73 429.9,69.72 430.26,69.71 430.62,69.7 430.99,69.69 431.35,69.69 431.71,69.68 432.08,69.67 432.44,69.66 432.8,69.65 433.16,69.65 433.53,69.64 433.89,69.63 434.25,69.62 434.61,69.61 434.98,69.61 435.34,69.6 435.7,69.59 436.06,69.59 436.43,69.58 436.79,69.57 437.15,69.56 437.51,69.56 437.88,69.55 438.24,69.54 438.6,69.54 438.96,69.53 439.33,69.52 439.69,69.52 440.05,69.51 440.41,69.51 440.78,69.5 441.14,69.49 441.5,69.49 441.86,69.48 442.23,69.48 442.59,69.47 442.95,69.46 443.31,69.46 443.68,69.45 444.04,69.45 444.4,69.44 444.76,69.44 445.12,69.43 445.49,69.42 445.85,69.42 446.21,69.41 446.58,69.41 446.94,69.4 447.3,69.4 447.66,69.39 448.03,69.39 448.39,69.38 448.75,69.38 449.11,69.37 449.48,69.37 449.84,69.36 450.2,69.36 450.56,69.35 450.93,69.35 451.29,69.34 451.65,69.34 452.01,69.33 452.38,69.33 452.74,69.32 453.1,69.32 453.46,69.31 453.83,69.31 454.19,69.3 454.55,69.3 454.91,69.29 455.28,69.29 455.64,69.28 456,69.28 456.36,69.27 456.73,69.27 457.09,69.26 457.45,69.26 457.81,69.25 458.18,69.25 458.54,69.24 458.9,69.24 459.26,69.23 459.62,69.23 459.99,69.22 460.35,69.22 460.71,69.21 461.08,69.21 461.44,69.2 461.8,69.2 462.16,69.19 462.53,69.19 462.89,69.18 463.25,69.18 463.61,69.17 463.98,69.17 464.34,69.16 464.7,69.15 465.06,69.15 465.43,69.14 465.79,69.14 466.15,69.13 466.51,69.13 466.88,69.12 467.24,69.11 467.6,69.11 467.96,69.1 468.33,69.1 468.69,69.09 469.05,69.09 469.41,69.08 469.78,69.07 470.14,69.07 470.5,69.06 470.86,69.06 471.23,69.05 471.59,69.04 471.95,69.04 472.31,69.03 472.68,69.03 473.04,69.02 473.4,69.02 473.76,69.01 474.12,69.01 474.49,69 474.85,68.99 475.21,68.99 475.58,68.98 475.94,68.98 476.3,68.97 476.66,68.97 477.03,68.96 477.39,68.96 477.75,68.95 478.11,68.94 478.48,68.94 478.84,68.93 479.2,68.93 479.56,68.92 479.93,68.92 480.29,68.91 480.65,68.91 481.01,68.9 481.38,68.9 481.74,68.89 482.1,68.89 482.46,68.88 482.83,68.88 483.19,68.87 483.55,68.87 483.91,68.86 484.28,68.86 484.64,68.85 485,68.84 485.36,68.84 485.73,68.83 486.09,68.83 486.45,68.82 486.81,68.82 487.18,68.81 487.54,68.81 487.9,68.8 488.26,68.8 488.62,68.8 488.99,68.79 489.35,68.79 489.71,68.78 490.08,68.78 490.44,68.77 490.8,68.77 491.16,68.76 491.53,68.76 491.89,68.75 492.25,68.75 492.61,68.74 492.98,68.74 493.34,68.73 493.7,68.73 494.06,68.72 494.43,68.72 494.79,68.72 495.15,68.71 495.51,68.71 495.88,68.7 496.24,68.7 496.6,68.69 496.96,68.69 497.33,68.68 497.69,68.68 498.05,68.68 498.41,68.67 498.78,68.67 499.14,68.66 499.5,68.66 499.86,68.65 500.23,68.65 500.59,68.65 500.95,68.64 501.31,68.64 501.68,68.63 502.04,68.63 502.4,68.63 502.76,68.62 503.12,68.62 503.49,68.61 503.85,68.61 504.21,68.61 504.58,68.6 504.94,68.6 505.3,68.59 505.66,68.59 506.03,68.59 506.39,68.58 506.75,68.58 507.11,68.58 507.48,68.57 507.84,68.57 508.2,68.56 508.56,68.56 508.93,68.56 509.29,68.55 509.65,68.55 510.01,68.55 510.38,68.54 510.74,68.54 511.1,68.54" fill="none" stroke="#444444" stroke-width="1" stroke-linejoin="round"/><circle cx="381.33" cy="113.72" r="1.05" fill="#e4e4e4" stroke="#777777" stroke-width="0.75"/><circle cx="384.23" cy="108.8" r="1.05" fill="#e4e4e4" stroke="#777777" stroke-width="0.75"/><circle cx="387.12" cy="97.54" r="1.05" fill="#e4e4e4" stroke="#777777" stroke-width="0.75"/><circle cx="390.03" cy="88.24" r="1.05" fill="#e4e4e4" stroke="#777777" stroke-width="0.75"/><circle cx="392.93" cy="80.79" r="1.05" fill="#e4e4e4" stroke="#777777" stroke-width="0.75"/><circle cx="395.83" cy="75.69" r="1.05" fill="#e4e4e4" stroke="#777777" stroke-width="0.75"/><circle cx="398.73" cy="72.81" r="1.05" fill="#e4e4e4" stroke="#777777" stroke-width="0.75"/><circle cx="401.62" cy="71.63" r="1.05" fill="#e4e4e4" stroke="#777777" stroke-width="0.75"/><circle cx="404.53" cy="71.06" r="1.05" fill="#e4e4e4" stroke="#777777" stroke-width="0.75"/><circle cx="407.43" cy="70.67" r="1.05" fill="#e4e4e4" stroke="#777777" stroke-width="0.75"/><circle cx="410.33" cy="70.41" r="1.05" fill="#e4e4e4" stroke="#777777" stroke-width="0.75"/><circle cx="413.23" cy="70.27" r="1.05" fill="#e4e4e4" stroke="#777777" stroke-width="0.75"/><circle cx="416.12" cy="70.15" r="1.05" fill="#e4e4e4" stroke="#777777" stroke-width="0.75"/><circle cx="419.03" cy="70.04" r="1.05" fill="#e4e4e4" stroke="#777777" stroke-width="0.75"/><circle cx="421.93" cy="69.94" r="1.05" fill="#e4e4e4" stroke="#777777" stroke-width="0.75"/><circle cx="424.83" cy="69.85" r="1.05" fill="#e4e4e4" stroke="#777777" stroke-width="0.75"/><circle cx="427.73" cy="69.77" r="1.05" fill="#e4e4e4" stroke="#777777" stroke-width="0.75"/><circle cx="430.62" cy="69.7" r="1.05" fill="#e4e4e4" stroke="#777777" stroke-width="0.75"/><circle cx="433.53" cy="69.64" r="1.05" fill="#e4e4e4" stroke="#777777" stroke-width="0.75"/><circle cx="436.43" cy="69.58" r="1.05" fill="#e4e4e4" stroke="#777777" stroke-width="0.75"/><circle cx="439.33" cy="69.52" r="1.05" fill="#e4e4e4" stroke="#777777" stroke-width="0.75"/><circle cx="442.23" cy="69.48" r="1.05" fill="#e4e4e4" stroke="#777777" stroke-width="0.75"/><circle cx="445.12" cy="69.43" r="1.05" fill="#e4e4e4" stroke="#777777" stroke-width="0.75"/><circle cx="448.03" cy="69.39" r="1.05" fill="#e4e4e4" stroke="#777777" stroke-width="0.75"/><circle cx="450.93" cy="69.35" r="1.05" fill="#e4e4e4" stroke="#777777" stroke-width="0.75"/><circle cx="453.83" cy="69.31" r="1.05" fill="#e4e4e4" stroke="#777777" stroke-width="0.75"/><circle cx="456.73" cy="69.27" r="1.05" fill="#e4e4e4" stroke="#777777" stroke-width="0.75"/><circle cx="459.62" cy="69.23" r="1.05" fill="#e4e4e4" stroke="#777777" stroke-width="0.75"/><circle cx="462.53" cy="69.19" r="1.05" fill="#e4e4e4" stroke="#777777" stroke-width="0.75"/><circle cx="465.43" cy="69.14" r="1.05" fill="#e4e4e4" stroke="#777777" stroke-width="0.75"/><circle cx="468.33" cy="69.1" r="1.05" fill="#e4e4e4" stroke="#777777" stroke-width="0.75"/><circle cx="471.23" cy="69.05" r="1.05" fill="#e4e4e4" stroke="#777777" stroke-width="0.75"/><circle cx="474.12" cy="69.01" r="1.05" fill="#e4e4e4" stroke="#777777" stroke-width="0.75"/><circle cx="477.03" cy="68.96" r="1.05" fill="#e4e4e4" stroke="#777777" stroke-width="0.75"/><circle cx="479.93" cy="68.92" r="1.05" fill="#e4e4e4" stroke="#777777" stroke-width="0.75"/><circle cx="482.83" cy="68.88" r="1.05" fill="#e4e4e4" stroke="#777777" stroke-width="0.75"/><circle cx="485.73" cy="68.83" r="1.05" fill="#e4e4e4" stroke="#777777" stroke-width="0.75"/><circle cx="488.62" cy="68.8" r="1.05" fill="#e4e4e4" stroke="#777777" stroke-width="0.75"/><circle cx="491.53" cy="68.76" r="1.05" fill="#e4e4e4" stroke="#777777" stroke-width="0.75"/><circle cx="494.43" cy="68.72" r="1.05" fill="#e4e4e4" stroke="#777777" stroke-width="0.75"/><circle cx="497.33" cy="68.68" r="1.05" fill="#e4e4e4" stroke="#777777" stroke-width="0.75"/><circle cx="500.23" cy="68.65" r="1.05" fill="#e4e4e4" stroke="#777777" stroke-width="0.75"/><circle cx="503.12" cy="68.62" r="1.05" fill="#e4e4e4" stroke="#777777" stroke-width="0.75"/><circle cx="506.03" cy="68.59" r="1.05" fill="#e4e4e4" stroke="#777777" stroke-width="0.75"/><circle cx="508.93" cy="68.56" r="1.05" fill="#e4e4e4" stroke="#777777" stroke-width="0.75"/><polyline points="380.6,114.05 380.96,114.05 381.33,114.05 381.69,114.05 382.05,114.05 382.41,114.05 382.78,114.02 383.14,113.73 383.5,113.16 383.86,112.39 384.23,111.47 384.59,110.48 384.95,109.47 385.31,108.33 385.68,106.95 386.04,105.35 386.4,103.59 386.76,101.7 387.12,99.73 387.49,97.73 387.85,95.73 388.21,93.66 388.58,91.45 388.94,89.12 389.3,86.71 389.66,84.27 390.03,81.82 390.39,79.4 390.75,77.03 391.11,74.58 391.48,72.05 391.84,69.5 392.2,66.98 392.56,64.54 392.93,62.24 393.29,60.12 393.65,58.23 394.01,56.55 394.38,54.98 394.74,53.52 395.1,52.14 395.46,50.82 395.83,49.55 396.19,48.3 396.55,47.07 396.91,45.82 397.28,44.55 397.64,43.32 398,42.13 398.36,41.03 398.73,40.04 399.09,39.2 399.45,38.49 399.81,37.81 400.18,37.2 400.54,36.64 400.9,36.17 401.26,35.79 401.62,35.52 401.99,35.28 402.35,35.08 402.71,34.89 403.08,34.73 403.44,34.58 403.8,34.45 404.16,34.33 404.53,34.23 404.89,34.13 405.25,34.04 405.61,33.95 405.98,33.87 406.34,33.79 406.7,33.72 407.06,33.65 407.43,33.59 407.79,33.53 408.15,33.47 408.51,33.42 408.88,33.38 409.24,33.34 409.6,33.3 409.96,33.26 410.33,33.22 410.69,33.19 411.05,33.15 411.41,33.12 411.78,33.09 412.14,33.06 412.5,33.03 412.86,33.01 413.23,32.98 413.59,32.95 413.95,32.93 414.31,32.91 414.68,32.88 415.04,32.86 415.4,32.84 415.76,32.82 416.12,32.8 416.49,32.79 416.85,32.77 417.21,32.75 417.58,32.74 417.94,32.72 418.3,32.7 418.66,32.69 419.03,32.67 419.39,32.65 419.75,32.64 420.11,32.62 420.48,32.61 420.84,32.59 421.2,32.58 421.56,32.56 421.93,32.55 422.29,32.53 422.65,32.52 423.01,32.5 423.38,32.49 423.74,32.47 424.1,32.46 424.46,32.44 424.83,32.43 425.19,32.42 425.55,32.4 425.91,32.39 426.28,32.37 426.64,32.36 427,32.35 427.36,32.33 427.73,32.32 428.09,32.31 428.45,32.29 428.81,32.28 429.18,32.27 429.54,32.26 429.9,32.24 430.26,32.23 430.62,32.22 430.99,32.21 431.35,32.19 431.71,32.18 432.08,32.17 432.44,32.16 432.8,32.15 433.16,32.13 433.53,32.12 433.89,32.11 434.25,32.1 434.61,32.09 434.98,32.08 435.34,32.06 435.7,32.05 436.06,32.04 436.43,32.03 436.79,32.02 437.15,32.01 437.51,32 437.88,31.99 438.24,31.98 438.6,31.97 438.96,31.96 439.33,31.95 439.69,31.94 440.05,31.93 440.41,31.92 440.78,31.91 441.14,31.9 441.5,31.89 441.86,31.88 442.23,31.87 442.59,31.86 442.95,31.85 443.31,31.84 443.68,31.83 444.04,31.82 444.4,31.81 444.76,31.8 445.12,31.79 445.49,31.78 445.85,31.77 446.21,31.76 446.58,31.76 446.94,31.75 447.3,31.74 447.66,31.73 448.03,31.72 448.39,31.71 448.75,31.7 449.11,31.7 449.48,31.69 449.84,31.68 450.2,31.67 450.56,31.66 450.93,31.65 451.29,31.65 451.65,31.64 452.01,31.63 452.38,31.62 452.74,31.61 453.1,31.61 453.46,31.6 453.83,31.59 454.19,31.58 454.55,31.57 454.91,31.57 455.28,31.56 455.64,31.55 456,31.54 456.36,31.54 456.73,31.53 457.09,31.52 457.45,31.51 457.81,31.51 458.18,31.5 458.54,31.49 458.9,31.49 459.26,31.48 459.62,31.47 459.99,31.46 460.35,31.46 460.71,31.45 461.08,31.44 461.44,31.44 461.8,31.43 462.16,31.42 462.53,31.42 462.89,31.41 463.25,31.4 463.61,31.4 463.98,31.39 464.34,31.38 464.7,31.38 465.06,31.37 465.43,31.36 465.79,31.36 466.15,31.35 466.51,31.34 466.88,31.34 467.24,31.33 467.6,31.32 467.96,31.32 468.33,31.31 468.69,31.3 469.05,31.3 469.41,31.29 469.78,31.29 470.14,31.28 470.5,31.27 470.86,31.27 471.23,31.26 471.59,31.25 471.95,31.25 472.31,31.24 472.68,31.23 473.04,31.23 473.4,31.22 473.76,31.22 474.12,31.21 474.49,31.2 474.85,31.2 475.21,31.19 475.58,31.19 475.94,31.18 476.3,31.17 476.66,31.17 477.03,31.16 477.39,31.16 477.75,31.15 478.11,31.14 478.48,31.14 478.84,31.13 479.2,31.13 479.56,31.12 479.93,31.11 480.29,31.11 480.65,31.1 481.01,31.1 481.38,31.09 481.74,31.09 482.1,31.08 482.46,31.07 482.83,31.07 483.19,31.06 483.55,31.06 483.91,31.05 484.28,31.05 484.64,31.04 485,31.04 485.36,31.03 485.73,31.03 486.09,31.02 486.45,31.01 486.81,31.01 487.18,31 487.54,31 487.9,30.99 488.26,30.99 488.62,30.98 488.99,30.98 489.35,30.97 489.71,30.97 490.08,30.96 490.44,30.96 490.8,30.95 491.16,30.95 491.53,30.94 491.89,30.94 492.25,30.94 492.61,30.93 492.98,30.93 493.34,30.92 493.7,30.92 494.06,30.91 494.43,30.91 494.79,30.9 495.15,30.9 495.51,30.89 495.88,30.89 496.24,30.89 496.6,30.88 496.96,30.88 497.33,30.87 497.69,30.87 498.05,30.87 498.41,30.86 498.78,30.86 499.14,30.85 499.5,30.85 499.86,30.85 500.23,30.84 500.59,30.84 500.95,30.83 501.31,30.83 501.68,30.83 502.04,30.82 502.4,30.82 502.76,30.82 503.12,30.81 503.49,30.81 503.85,30.81 504.21,30.8 504.58,30.8 504.94,30.8 505.3,30.79 505.66,30.79 506.03,30.79 506.39,30.78 506.75,30.78 507.11,30.78 507.48,30.78 507.84,30.77 508.2,30.77 508.56,30.77 508.93,30.77 509.29,30.76 509.65,30.76 510.01,30.76 510.38,30.76 510.74,30.75 511.1,30.75" fill="none" stroke="#000" stroke-width="0.6" stroke-linejoin="round"/><circle cx="381.33" cy="114.05" r="1.15" fill="#000"/><circle cx="384.23" cy="111.47" r="1.15" fill="#000"/><circle cx="387.12" cy="99.73" r="1.15" fill="#000"/><circle cx="390.03" cy="81.82" r="1.15" fill="#000"/><circle cx="392.93" cy="62.24" r="1.15" fill="#000"/><circle cx="395.83" cy="49.55" r="1.15" fill="#000"/><circle cx="398.73" cy="40.04" r="1.15" fill="#000"/><circle cx="401.62" cy="35.52" r="1.15" fill="#000"/><circle cx="404.53" cy="34.23" r="1.15" fill="#000"/><circle cx="407.43" cy="33.59" r="1.15" fill="#000"/><circle cx="410.33" cy="33.22" r="1.15" fill="#000"/><circle cx="413.23" cy="32.98" r="1.15" fill="#000"/><circle cx="416.12" cy="32.8" r="1.15" fill="#000"/><circle cx="419.03" cy="32.67" r="1.15" fill="#000"/><circle cx="421.93" cy="32.55" r="1.15" fill="#000"/><circle cx="424.83" cy="32.43" r="1.15" fill="#000"/><circle cx="427.73" cy="32.32" r="1.15" fill="#000"/><circle cx="430.62" cy="32.22" r="1.15" fill="#000"/><circle cx="433.53" cy="32.12" r="1.15" fill="#000"/><circle cx="436.43" cy="32.03" r="1.15" fill="#000"/><circle cx="439.33" cy="31.95" r="1.15" fill="#000"/><circle cx="442.23" cy="31.87" r="1.15" fill="#000"/><circle cx="445.12" cy="31.79" r="1.15" fill="#000"/><circle cx="448.03" cy="31.72" r="1.15" fill="#000"/><circle cx="450.93" cy="31.65" r="1.15" fill="#000"/><circle cx="453.83" cy="31.59" r="1.15" fill="#000"/><circle cx="456.73" cy="31.53" r="1.15" fill="#000"/><circle cx="459.62" cy="31.47" r="1.15" fill="#000"/><circle cx="462.53" cy="31.42" r="1.15" fill="#000"/><circle cx="465.43" cy="31.36" r="1.15" fill="#000"/><circle cx="468.33" cy="31.31" r="1.15" fill="#000"/><circle cx="471.23" cy="31.26" r="1.15" fill="#000"/><circle cx="474.12" cy="31.21" r="1.15" fill="#000"/><circle cx="477.03" cy="31.16" r="1.15" fill="#000"/><circle cx="479.93" cy="31.11" r="1.15" fill="#000"/><circle cx="482.83" cy="31.07" r="1.15" fill="#000"/><circle cx="485.73" cy="31.03" r="1.15" fill="#000"/><circle cx="488.62" cy="30.98" r="1.15" fill="#000"/><circle cx="491.53" cy="30.94" r="1.15" fill="#000"/><circle cx="494.43" cy="30.91" r="1.15" fill="#000"/><circle cx="497.33" cy="30.87" r="1.15" fill="#000"/><circle cx="500.23" cy="30.84" r="1.15" fill="#000"/><circle cx="503.12" cy="30.81" r="1.15" fill="#000"/><circle cx="506.03" cy="30.79" r="1.15" fill="#000"/><circle cx="508.93" cy="30.77" r="1.15" fill="#000"/><polyline points="380.6,114.05 380.96,114.04 381.33,114.01 381.69,113.95 382.05,113.88 382.41,113.8 382.78,113.7 383.14,113.59 383.5,113.48 383.86,113.33 384.23,113.13 384.59,112.87 384.95,112.55 385.31,112.17 385.68,111.72 386.04,111.2 386.4,110.61 386.76,109.57 387.12,107.88 387.49,105.89 387.85,103.93 388.21,102.31 388.58,100.96 388.94,99.72 389.3,98.53 389.66,97.36 390.03,96.15 390.39,94.85 390.75,93.42 391.11,91.84 391.48,90.15 391.84,88.38 392.2,86.57 392.56,84.76 392.93,82.98 393.29,81.28 393.65,79.7 394.01,78.22 394.38,76.79 394.74,75.42 395.1,74.07 395.46,72.75 395.83,71.44 396.19,70.12 396.55,68.79 396.91,67.44 397.28,66.11 397.64,64.79 398,63.47 398.36,62.13 398.73,60.77 399.09,59.37 399.45,57.87 399.81,56.2 400.18,54.46 400.54,52.77 400.9,51.23 401.26,49.95 401.62,49.01 401.99,48.17 402.35,47.36 402.71,46.61 403.08,45.93 403.44,45.34 403.8,44.85 404.16,44.49 404.53,44.26 404.89,44.15 405.25,44.06 405.61,43.98 405.98,43.9 406.34,43.82 406.7,43.75 407.06,43.68 407.43,43.62 407.79,43.56 408.15,43.51 408.51,43.45 408.88,43.4 409.24,43.36 409.6,43.31 409.96,43.27 410.33,43.23 410.69,43.2 411.05,43.16 411.41,43.13 411.78,43.1 412.14,43.07 412.5,43.05 412.86,43.02 413.23,43 413.59,42.98 413.95,42.95 414.31,42.93 414.68,42.91 415.04,42.89 415.4,42.87 415.76,42.85 416.12,42.83 416.49,42.81 416.85,42.79 417.21,42.77 417.58,42.75 417.94,42.73 418.3,42.71 418.66,42.69 419.03,42.67 419.39,42.65 419.75,42.63 420.11,42.61 420.48,42.59 420.84,42.57 421.2,42.55 421.56,42.53 421.93,42.51 422.29,42.49 422.65,42.47 423.01,42.45 423.38,42.44 423.74,42.42 424.1,42.4 424.46,42.38 424.83,42.37 425.19,42.35 425.55,42.33 425.91,42.31 426.28,42.3 426.64,42.28 427,42.26 427.36,42.25 427.73,42.23 428.09,42.22 428.45,42.2 428.81,42.19 429.18,42.17 429.54,42.15 429.9,42.14 430.26,42.12 430.62,42.11 430.99,42.1 431.35,42.08 431.71,42.07 432.08,42.05 432.44,42.04 432.8,42.02 433.16,42.01 433.53,42 433.89,41.98 434.25,41.97 434.61,41.96 434.98,41.94 435.34,41.93 435.7,41.92 436.06,41.9 436.43,41.89 436.79,41.88 437.15,41.87 437.51,41.85 437.88,41.84 438.24,41.83 438.6,41.82 438.96,41.81 439.33,41.79 439.69,41.78 440.05,41.77 440.41,41.76 440.78,41.75 441.14,41.74 441.5,41.73 441.86,41.72 442.23,41.7 442.59,41.69 442.95,41.68 443.31,41.67 443.68,41.66 444.04,41.65 444.4,41.64 444.76,41.63 445.12,41.62 445.49,41.61 445.85,41.6 446.21,41.59 446.58,41.58 446.94,41.57 447.3,41.56 447.66,41.55 448.03,41.54 448.39,41.53 448.75,41.52 449.11,41.51 449.48,41.5 449.84,41.49 450.2,41.48 450.56,41.47 450.93,41.46 451.29,41.45 451.65,41.44 452.01,41.44 452.38,41.43 452.74,41.42 453.1,41.41 453.46,41.4 453.83,41.39 454.19,41.38 454.55,41.37 454.91,41.36 455.28,41.35 455.64,41.35 456,41.34 456.36,41.33 456.73,41.32 457.09,41.31 457.45,41.3 457.81,41.29 458.18,41.28 458.54,41.28 458.9,41.27 459.26,41.26 459.62,41.25 459.99,41.24 460.35,41.23 460.71,41.22 461.08,41.21 461.44,41.21 461.8,41.2 462.16,41.19 462.53,41.18 462.89,41.17 463.25,41.16 463.61,41.15 463.98,41.14 464.34,41.14 464.7,41.13 465.06,41.12 465.43,41.11 465.79,41.1 466.15,41.09 466.51,41.08 466.88,41.07 467.24,41.07 467.6,41.06 467.96,41.05 468.33,41.04 468.69,41.03 469.05,41.02 469.41,41.01 469.78,41 470.14,40.99 470.5,40.98 470.86,40.98 471.23,40.97 471.59,40.96 471.95,40.95 472.31,40.94 472.68,40.93 473.04,40.92 473.4,40.92 473.76,40.91 474.12,40.9 474.49,40.89 474.85,40.88 475.21,40.87 475.58,40.86 475.94,40.86 476.3,40.85 476.66,40.84 477.03,40.83 477.39,40.82 477.75,40.81 478.11,40.81 478.48,40.8 478.84,40.79 479.2,40.78 479.56,40.77 479.93,40.76 480.29,40.76 480.65,40.75 481.01,40.74 481.38,40.73 481.74,40.72 482.1,40.72 482.46,40.71 482.83,40.7 483.19,40.69 483.55,40.68 483.91,40.68 484.28,40.67 484.64,40.66 485,40.65 485.36,40.65 485.73,40.64 486.09,40.63 486.45,40.62 486.81,40.62 487.18,40.61 487.54,40.6 487.9,40.59 488.26,40.59 488.62,40.58 488.99,40.57 489.35,40.56 489.71,40.56 490.08,40.55 490.44,40.54 490.8,40.53 491.16,40.53 491.53,40.52 491.89,40.51 492.25,40.51 492.61,40.5 492.98,40.49 493.34,40.49 493.7,40.48 494.06,40.47 494.43,40.46 494.79,40.46 495.15,40.45 495.51,40.44 495.88,40.44 496.24,40.43 496.6,40.42 496.96,40.42 497.33,40.41 497.69,40.41 498.05,40.4 498.41,40.39 498.78,40.39 499.14,40.38 499.5,40.37 499.86,40.37 500.23,40.36 500.59,40.36 500.95,40.35 501.31,40.34 501.68,40.34 502.04,40.33 502.4,40.33 502.76,40.32 503.12,40.31 503.49,40.31 503.85,40.3 504.21,40.3 504.58,40.29 504.94,40.29 505.3,40.28 505.66,40.27 506.03,40.27 506.39,40.26 506.75,40.26 507.11,40.25 507.48,40.25 507.84,40.24 508.2,40.24 508.56,40.23 508.93,40.23 509.29,40.22 509.65,40.22 510.01,40.21 510.38,40.21 510.74,40.2 511.1,40.2" fill="none" stroke="#000" stroke-width="1" stroke-linejoin="round"/><rect x="379.83" y="112.51" width="3" height="3" fill="#000"/><rect x="382.73" y="111.63" width="3" height="3" fill="#000"/><rect x="385.62" y="106.38" width="3" height="3" fill="#000"/><rect x="388.53" y="94.65" width="3" height="3" fill="#000"/><rect x="391.43" y="81.48" width="3" height="3" fill="#000"/><rect x="394.33" y="69.94" width="3" height="3" fill="#000"/><rect x="397.23" y="59.27" width="3" height="3" fill="#000"/><rect x="400.12" y="47.51" width="3" height="3" fill="#000"/><rect x="403.03" y="42.76" width="3" height="3" fill="#000"/><rect x="405.93" y="42.12" width="3" height="3" fill="#000"/><rect x="408.83" y="41.73" width="3" height="3" fill="#000"/><rect x="411.73" y="41.5" width="3" height="3" fill="#000"/><rect x="414.62" y="41.33" width="3" height="3" fill="#000"/><rect x="417.53" y="41.17" width="3" height="3" fill="#000"/><rect x="420.43" y="41.01" width="3" height="3" fill="#000"/><rect x="423.33" y="40.87" width="3" height="3" fill="#000"/><rect x="426.23" y="40.73" width="3" height="3" fill="#000"/><rect x="429.12" y="40.61" width="3" height="3" fill="#000"/><rect x="432.03" y="40.5" width="3" height="3" fill="#000"/><rect x="434.93" y="40.39" width="3" height="3" fill="#000"/><rect x="437.83" y="40.29" width="3" height="3" fill="#000"/><rect x="440.73" y="40.2" width="3" height="3" fill="#000"/><rect x="443.62" y="40.12" width="3" height="3" fill="#000"/><rect x="446.53" y="40.04" width="3" height="3" fill="#000"/><rect x="449.43" y="39.96" width="3" height="3" fill="#000"/><rect x="452.33" y="39.89" width="3" height="3" fill="#000"/><rect x="455.23" y="39.82" width="3" height="3" fill="#000"/><rect x="458.12" y="39.75" width="3" height="3" fill="#000"/><rect x="461.03" y="39.68" width="3" height="3" fill="#000"/><rect x="463.93" y="39.61" width="3" height="3" fill="#000"/><rect x="466.83" y="39.54" width="3" height="3" fill="#000"/><rect x="469.73" y="39.47" width="3" height="3" fill="#000"/><rect x="472.62" y="39.4" width="3" height="3" fill="#000"/><rect x="475.53" y="39.33" width="3" height="3" fill="#000"/><rect x="478.43" y="39.26" width="3" height="3" fill="#000"/><rect x="481.33" y="39.2" width="3" height="3" fill="#000"/><rect x="484.23" y="39.14" width="3" height="3" fill="#000"/><rect x="487.12" y="39.08" width="3" height="3" fill="#000"/><rect x="490.03" y="39.02" width="3" height="3" fill="#000"/><rect x="492.93" y="38.96" width="3" height="3" fill="#000"/><rect x="495.83" y="38.91" width="3" height="3" fill="#000"/><rect x="498.73" y="38.86" width="3" height="3" fill="#000"/><rect x="501.62" y="38.81" width="3" height="3" fill="#000"/><rect x="504.53" y="38.77" width="3" height="3" fill="#000"/><rect x="507.43" y="38.73" width="3" height="3" fill="#000"/><polyline points="380.6,114.05 380.96,114.04 381.33,114 381.69,113.94 382.05,113.87 382.41,113.78 382.78,113.69 383.14,113.58 383.5,113.48 383.86,113.36 384.23,113.22 384.59,113.06 384.95,112.87 385.31,112.65 385.68,112.39 386.04,112.1 386.4,111.76 386.76,111.26 387.12,110.52 387.49,109.61 387.85,108.6 388.21,107.53 388.58,106.29 388.94,104.84 389.3,103.25 389.66,101.59 390.03,99.93 390.39,98.34 390.75,96.88 391.11,95.49 391.48,94.15 391.84,92.82 392.2,91.51 392.56,90.19 392.93,88.84 393.29,87.45 393.65,86 394.01,84.48 394.38,82.89 394.74,81.26 395.1,79.6 395.46,77.92 395.83,76.23 396.19,74.56 396.55,72.91 396.91,71.28 397.28,69.64 397.64,67.99 398,66.36 398.36,64.75 398.73,63.18 399.09,61.67 399.45,60.14 399.81,58.47 400.18,56.79 400.54,55.24 400.9,53.95 401.26,53.07 401.62,52.68 401.99,52.43 402.35,52.21 402.71,52.01 403.08,51.84 403.44,51.69 403.8,51.56 404.16,51.44 404.53,51.35 404.89,51.26 405.25,51.18 405.61,51.11 405.98,51.05 406.34,50.99 406.7,50.93 407.06,50.87 407.43,50.81 407.79,50.76 408.15,50.71 408.51,50.66 408.88,50.61 409.24,50.56 409.6,50.52 409.96,50.48 410.33,50.43 410.69,50.39 411.05,50.36 411.41,50.32 411.78,50.29 412.14,50.25 412.5,50.22 412.86,50.19 413.23,50.16 413.59,50.13 413.95,50.11 414.31,50.08 414.68,50.06 415.04,50.04 415.4,50.02 415.76,50 416.12,49.98 416.49,49.96 416.85,49.94 417.21,49.93 417.58,49.91 417.94,49.9 418.3,49.88 418.66,49.87 419.03,49.85 419.39,49.84 419.75,49.82 420.11,49.81 420.48,49.8 420.84,49.78 421.2,49.77 421.56,49.76 421.93,49.74 422.29,49.73 422.65,49.72 423.01,49.71 423.38,49.7 423.74,49.68 424.1,49.67 424.46,49.66 424.83,49.65 425.19,49.64 425.55,49.63 425.91,49.62 426.28,49.61 426.64,49.59 427,49.58 427.36,49.57 427.73,49.56 428.09,49.55 428.45,49.54 428.81,49.54 429.18,49.53 429.54,49.52 429.9,49.51 430.26,49.5 430.62,49.49 430.99,49.48 431.35,49.47 431.71,49.46 432.08,49.46 432.44,49.45 432.8,49.44 433.16,49.43 433.53,49.42 433.89,49.42 434.25,49.41 434.61,49.4 434.98,49.39 435.34,49.39 435.7,49.38 436.06,49.37 436.43,49.36 436.79,49.36 437.15,49.35 437.51,49.34 437.88,49.34 438.24,49.33 438.6,49.32 438.96,49.32 439.33,49.31 439.69,49.3 440.05,49.3 440.41,49.29 440.78,49.28 441.14,49.28 441.5,49.27 441.86,49.27 442.23,49.26 442.59,49.25 442.95,49.25 443.31,49.24 443.68,49.24 444.04,49.23 444.4,49.22 444.76,49.22 445.12,49.21 445.49,49.21 445.85,49.2 446.21,49.2 446.58,49.19 446.94,49.18 447.3,49.18 447.66,49.17 448.03,49.17 448.39,49.16 448.75,49.16 449.11,49.15 449.48,49.14 449.84,49.14 450.2,49.13 450.56,49.13 450.93,49.12 451.29,49.12 451.65,49.11 452.01,49.1 452.38,49.1 452.74,49.09 453.1,49.09 453.46,49.08 453.83,49.07 454.19,49.07 454.55,49.06 454.91,49.06 455.28,49.05 455.64,49.04 456,49.04 456.36,49.03 456.73,49.02 457.09,49.02 457.45,49.01 457.81,49 458.18,49 458.54,48.99 458.9,48.98 459.26,48.98 459.62,48.97 459.99,48.96 460.35,48.95 460.71,48.95 461.08,48.94 461.44,48.93 461.8,48.92 462.16,48.92 462.53,48.91 462.89,48.9 463.25,48.89 463.61,48.88 463.98,48.88 464.34,48.87 464.7,48.86 465.06,48.85 465.43,48.84 465.79,48.83 466.15,48.82 466.51,48.81 466.88,48.8 467.24,48.79 467.6,48.78 467.96,48.78 468.33,48.77 468.69,48.76 469.05,48.75 469.41,48.74 469.78,48.73 470.14,48.72 470.5,48.71 470.86,48.7 471.23,48.69 471.59,48.67 471.95,48.66 472.31,48.65 472.68,48.64 473.04,48.63 473.4,48.62 473.76,48.61 474.12,48.6 474.49,48.59 474.85,48.58 475.21,48.57 475.58,48.56 475.94,48.55 476.3,48.54 476.66,48.53 477.03,48.52 477.39,48.51 477.75,48.49 478.11,48.48 478.48,48.47 478.84,48.46 479.2,48.45 479.56,48.44 479.93,48.43 480.29,48.42 480.65,48.41 481.01,48.4 481.38,48.38 481.74,48.37 482.1,48.36 482.46,48.35 482.83,48.34 483.19,48.33 483.55,48.32 483.91,48.3 484.28,48.29 484.64,48.28 485,48.27 485.36,48.26 485.73,48.25 486.09,48.23 486.45,48.22 486.81,48.21 487.18,48.2 487.54,48.19 487.9,48.18 488.26,48.16 488.62,48.15 488.99,48.14 489.35,48.13 489.71,48.12 490.08,48.1 490.44,48.09 490.8,48.08 491.16,48.07 491.53,48.05 491.89,48.04 492.25,48.03 492.61,48.02 492.98,48.01 493.34,47.99 493.7,47.98 494.06,47.97 494.43,47.96 494.79,47.94 495.15,47.93 495.51,47.92 495.88,47.91 496.24,47.89 496.6,47.88 496.96,47.87 497.33,47.86 497.69,47.84 498.05,47.83 498.41,47.82 498.78,47.8 499.14,47.79 499.5,47.78 499.86,47.77 500.23,47.75 500.59,47.74 500.95,47.73 501.31,47.71 501.68,47.7 502.04,47.69 502.4,47.67 502.76,47.66 503.12,47.65 503.49,47.64 503.85,47.62 504.21,47.61 504.58,47.6 504.94,47.58 505.3,47.57 505.66,47.56 506.03,47.54 506.39,47.53 506.75,47.52 507.11,47.5 507.48,47.49 507.84,47.48 508.2,47.46 508.56,47.45 508.93,47.44 509.29,47.42 509.65,47.41 510.01,47.39 510.38,47.38 510.74,47.37 511.1,47.35" fill="none" stroke="#000" stroke-width="0.8" stroke-linejoin="round"/><circle cx="381.33" cy="114" r="1.45" fill="#000"/><circle cx="384.23" cy="113.22" r="1.45" fill="#000"/><circle cx="387.12" cy="110.52" r="1.45" fill="#000"/><circle cx="390.03" cy="99.93" r="1.45" fill="#000"/><circle cx="392.93" cy="88.84" r="1.45" fill="#000"/><circle cx="395.83" cy="76.23" r="1.45" fill="#000"/><circle cx="398.73" cy="63.18" r="1.45" fill="#000"/><circle cx="401.62" cy="52.68" r="1.45" fill="#000"/><circle cx="404.53" cy="51.35" r="1.45" fill="#000"/><circle cx="407.43" cy="50.81" r="1.45" fill="#000"/><circle cx="410.33" cy="50.43" r="1.45" fill="#000"/><circle cx="413.23" cy="50.16" r="1.45" fill="#000"/><circle cx="416.12" cy="49.98" r="1.45" fill="#000"/><circle cx="419.03" cy="49.85" r="1.45" fill="#000"/><circle cx="421.93" cy="49.74" r="1.45" fill="#000"/><circle cx="424.83" cy="49.65" r="1.45" fill="#000"/><circle cx="427.73" cy="49.56" r="1.45" fill="#000"/><circle cx="430.62" cy="49.49" r="1.45" fill="#000"/><circle cx="433.53" cy="49.42" r="1.45" fill="#000"/><circle cx="436.43" cy="49.36" r="1.45" fill="#000"/><circle cx="439.33" cy="49.31" r="1.45" fill="#000"/><circle cx="442.23" cy="49.26" r="1.45" fill="#000"/><circle cx="445.12" cy="49.21" r="1.45" fill="#000"/><circle cx="448.03" cy="49.17" r="1.45" fill="#000"/><circle cx="450.93" cy="49.12" r="1.45" fill="#000"/><circle cx="453.83" cy="49.07" r="1.45" fill="#000"/><circle cx="456.73" cy="49.02" r="1.45" fill="#000"/><circle cx="459.62" cy="48.97" r="1.45" fill="#000"/><circle cx="462.53" cy="48.91" r="1.45" fill="#000"/><circle cx="465.43" cy="48.84" r="1.45" fill="#000"/><circle cx="468.33" cy="48.77" r="1.45" fill="#000"/><circle cx="471.23" cy="48.69" r="1.45" fill="#000"/><circle cx="474.12" cy="48.6" r="1.45" fill="#000"/><circle cx="477.03" cy="48.52" r="1.45" fill="#000"/><circle cx="479.93" cy="48.43" r="1.45" fill="#000"/><circle cx="482.83" cy="48.34" r="1.45" fill="#000"/><circle cx="485.73" cy="48.25" r="1.45" fill="#000"/><circle cx="488.62" cy="48.15" r="1.45" fill="#000"/><circle cx="491.53" cy="48.05" r="1.45" fill="#000"/><circle cx="494.43" cy="47.96" r="1.45" fill="#000"/><circle cx="497.33" cy="47.86" r="1.45" fill="#000"/><circle cx="500.23" cy="47.75" r="1.45" fill="#000"/><circle cx="503.12" cy="47.65" r="1.45" fill="#000"/><circle cx="506.03" cy="47.54" r="1.45" fill="#000"/><circle cx="508.93" cy="47.44" r="1.45" fill="#000"/><rect x="462.5" y="78.5" width="43" height="37.8" fill="#fff" stroke="#9a9a9a" stroke-width="0.7"/><line x1="462.5" y1="108.74" x2="463.7" y2="108.74" stroke="#9a9a9a" stroke-width="0.5"/><line x1="505.5" y1="108.74" x2="504.3" y2="108.74" stroke="#9a9a9a" stroke-width="0.5"/><line x1="462.5" y1="101.18" x2="463.7" y2="101.18" stroke="#9a9a9a" stroke-width="0.5"/><line x1="505.5" y1="101.18" x2="504.3" y2="101.18" stroke="#9a9a9a" stroke-width="0.5"/><line x1="462.5" y1="93.62" x2="463.7" y2="93.62" stroke="#9a9a9a" stroke-width="0.5"/><line x1="505.5" y1="93.62" x2="504.3" y2="93.62" stroke="#9a9a9a" stroke-width="0.5"/><line x1="462.5" y1="86.06" x2="463.7" y2="86.06" stroke="#9a9a9a" stroke-width="0.5"/><line x1="505.5" y1="86.06" x2="504.3" y2="86.06" stroke="#9a9a9a" stroke-width="0.5"/><line x1="476.83" y1="116.3" x2="476.83" y2="115.1" stroke="#9a9a9a" stroke-width="0.5"/><line x1="476.83" y1="78.5" x2="476.83" y2="79.7" stroke="#9a9a9a" stroke-width="0.5"/><line x1="491.17" y1="116.3" x2="491.17" y2="115.1" stroke="#9a9a9a" stroke-width="0.5"/><line x1="491.17" y1="78.5" x2="491.17" y2="79.7" stroke="#9a9a9a" stroke-width="0.5"/><text x="461.8" y="117.2" font-size="2.6" text-anchor="end" fill="#333" color="#333" style="stroke-width:0.05px">0</text><text x="461.8" y="109.64" font-size="2.6" text-anchor="end" fill="#333" color="#333" style="stroke-width:0.05px">0.4</text><text x="461.8" y="102.08" font-size="2.6" text-anchor="end" fill="#333" color="#333" style="stroke-width:0.05px">0.8</text><text x="461.8" y="94.52" font-size="2.6" text-anchor="end" fill="#333" color="#333" style="stroke-width:0.05px">1.2</text><text x="461.8" y="86.96" font-size="2.6" text-anchor="end" fill="#333" color="#333" style="stroke-width:0.05px">1.6</text><text x="461.8" y="79.4" font-size="2.6" text-anchor="end" fill="#333" color="#333" style="stroke-width:0.05px">2</text><text x="462.5" y="119.1" font-size="2.6" text-anchor="middle" fill="#333" color="#333" style="stroke-width:0.05px">0</text><text x="476.83" y="119.1" font-size="2.6" text-anchor="middle" fill="#333" color="#333" style="stroke-width:0.05px">10</text><text x="491.17" y="119.1" font-size="2.6" text-anchor="middle" fill="#333" color="#333" style="stroke-width:0.05px">20</text><text x="505.5" y="119.1" font-size="2.6" text-anchor="middle" fill="#333" color="#333" style="stroke-width:0.05px">30</text><text x="484" y="121.2" font-size="2.6" text-anchor="middle" fill="#444" color="#444" style="stroke-width:0.05px">Time (minutes)</text><text x="454.5" y="97.6" font-size="2.4" text-anchor="middle" transform="rotate(-90 454.5 97.6)" fill="#222" color="#222" style="stroke-width:0.1px">Clot Formation (A<tspan font-size="1.7" dy="0.6">405</tspan><tspan dy="-0.6">)</tspan></text><polyline points="462.5,112.6 463.23,112.59 463.96,112.56 464.69,112.52 465.42,112.46 466.14,112.38 466.87,112.29 467.6,112.18 468.33,112.06 469.06,111.92 469.79,111.78 470.52,111.62 471.25,111.37 471.97,110.93 472.7,110.34 473.43,109.65 474.16,108.88 474.89,108.08 475.62,107.29 476.35,106.55 477.08,105.86 477.81,105.16 478.53,104.45 479.26,103.73 479.99,103 480.72,102.26 481.45,101.5 482.18,100.73 482.91,99.92 483.64,99.05 484.36,98.14 485.09,97.22 485.82,96.31 486.55,95.45 487.28,94.67 488.01,93.98 488.74,93.38 489.47,92.82 490.19,92.29 490.92,91.8 491.65,91.33 492.38,90.89 493.11,90.48 493.84,90.08 494.57,89.71 495.3,89.34 496.03,88.99 496.75,88.65 497.48,88.34 498.21,88.04 498.94,87.78 499.67,87.54 500.4,87.32 501.13,87.12 501.86,86.92 502.58,86.74 503.31,86.58 504.04,86.43 504.77,86.3 505.5,86.2" fill="none" stroke="#000" stroke-width="0.45" stroke-linejoin="round"/><circle cx="476.5" cy="106.4" r="0.6" fill="#000"/><circle cx="488.1" cy="93.9" r="0.6" fill="#000"/><circle cx="499.8" cy="87.5" r="0.6" fill="#000"/><circle cx="505.2" cy="86.2" r="0.6" fill="#000"/><polyline points="462.5,112.6 463.23,112.59 463.96,112.56 464.69,112.51 465.42,112.45 466.14,112.37 466.87,112.27 467.6,112.16 468.33,112.04 469.06,111.91 469.79,111.77 470.52,111.62 471.25,111.42 471.97,111.12 472.7,110.74 473.43,110.3 474.16,109.8 474.89,109.28 475.62,108.74 476.35,108.21 477.08,107.66 477.81,107.01 478.53,106.31 479.26,105.59 479.99,104.86 480.72,104.16 481.45,103.52 482.18,102.98 482.91,102.53 483.64,102.13 484.36,101.77 485.09,101.43 485.82,101.1 486.55,100.77 487.28,100.42 488.01,100.05 488.74,99.64 489.47,99.2 490.19,98.75 490.92,98.29 491.65,97.83 492.38,97.39 493.11,96.97 493.84,96.58 494.57,96.23 495.3,95.92 496.03,95.62 496.75,95.33 497.48,95.05 498.21,94.77 498.94,94.47 499.67,94.16 500.4,93.82 501.13,93.48 501.86,93.12 502.58,92.75 503.31,92.38 504.04,91.99 504.77,91.6 505.5,91.2" fill="none" stroke="#000" stroke-width="0.45" stroke-linejoin="round"/><circle cx="482.3" cy="102.9" r="0.6" fill="#000"/><circle cx="494" cy="96.5" r="0.6" fill="#000"/><circle cx="499.8" cy="94.1" r="0.6" fill="#000"/><circle cx="505.2" cy="91.3" r="0.6" fill="#000"/><polyline points="462.5,112.6 463.23,112.59 463.96,112.57 464.69,112.52 465.42,112.47 466.14,112.4 466.87,112.32 467.6,112.23 468.33,112.14 469.06,112.03 469.79,111.92 470.52,111.81 471.25,111.68 471.97,111.51 472.7,111.3 473.43,111.06 474.16,110.81 474.89,110.53 475.62,110.25 476.35,109.96 477.08,109.67 477.81,109.35 478.53,109.01 479.26,108.65 479.99,108.27 480.72,107.88 481.45,107.48 482.18,107.07 482.91,106.65 483.64,106.2 484.36,105.74 485.09,105.25 485.82,104.76 486.55,104.26 487.28,103.76 488.01,103.26 488.74,102.76 489.47,102.25 490.19,101.74 490.92,101.22 491.65,100.7 492.38,100.17 493.11,99.65 493.84,99.12 494.57,98.58 495.3,98.02 496.03,97.45 496.75,96.87 497.48,96.31 498.21,95.77 498.94,95.25 499.67,94.78 500.4,94.34 501.13,93.92 501.86,93.52 502.58,93.13 503.31,92.77 504.04,92.42 504.77,92.1 505.5,91.8" fill="none" stroke="#000" stroke-width="0.45" stroke-linejoin="round"/><circle cx="470.6" cy="111.8" r="0.6" fill="#000"/><circle cx="476.5" cy="109.9" r="0.6" fill="#000"/><circle cx="482.3" cy="107" r="0.6" fill="#000"/><circle cx="488.1" cy="103.2" r="0.6" fill="#000"/><circle cx="494" cy="99" r="0.6" fill="#000"/><polyline points="462.5,112.6 463.23,112.59 463.96,112.57 464.69,112.53 465.42,112.48 466.14,112.41 466.87,112.34 467.6,112.25 468.33,112.15 469.06,112.05 469.79,111.93 470.52,111.81 471.25,111.66 471.97,111.44 472.7,111.15 473.43,110.81 474.16,110.43 474.89,110.01 475.62,109.56 476.35,109.1 477.08,108.57 477.81,107.89 478.53,107.09 479.26,106.24 479.99,105.39 480.72,104.57 481.45,103.85 482.18,103.28 482.91,102.84 483.64,102.44 484.36,102.08 485.09,101.74 485.82,101.44 486.55,101.15 487.28,100.88 488.01,100.63 488.74,100.39 489.47,100.15 490.19,99.92 490.92,99.7 491.65,99.5 492.38,99.31 493.11,99.16 493.84,99.02 494.57,98.92 495.3,98.82 496.03,98.73 496.75,98.64 497.48,98.57 498.21,98.51 498.94,98.45 499.67,98.41 500.4,98.37 501.13,98.33 501.86,98.3 502.58,98.27 503.31,98.24 504.04,98.22 504.77,98.21 505.5,98.2" fill="none" stroke="#000" stroke-width="0.45" stroke-linejoin="round"/><text x="13.4" y="161.2" font-size="12" text-anchor="start" font-weight="bold" fill="#000" color="#000">D</text><rect x="39.65" y="187.51" width="7.9" height="82.59" fill="#f5f5f5" stroke="#505050" stroke-width="0.7"/><line x1="43.6" y1="168.42" x2="43.6" y2="206.59" stroke="#222" stroke-width="0.5"/><line x1="42.6" y1="168.42" x2="44.6" y2="168.42" stroke="#222" stroke-width="0.5"/><line x1="42.6" y1="206.59" x2="44.6" y2="206.59" stroke="#222" stroke-width="0.5"/><text x="43.6" y="275.3" font-size="5.2" text-anchor="middle" fill="#333" color="#333">3</text><rect x="49.05" y="215.66" width="7.9" height="54.44" fill="#c2c2c2" stroke="#505050" stroke-width="0.7"/><line x1="53" y1="207.22" x2="53" y2="223.8" stroke="#222" stroke-width="0.5"/><line x1="52" y1="207.22" x2="54" y2="207.22" stroke="#222" stroke-width="0.5"/><line x1="52" y1="223.8" x2="54" y2="223.8" stroke="#222" stroke-width="0.5"/><text x="53" y="275.3" font-size="5.2" text-anchor="middle" fill="#333" color="#333">4.5</text><rect x="58.45" y="217.23" width="7.9" height="52.87" fill="#848484" stroke="#505050" stroke-width="0.7"/><line x1="62.4" y1="205.34" x2="62.4" y2="228.18" stroke="#222" stroke-width="0.5"/><line x1="61.4" y1="205.34" x2="63.4" y2="205.34" stroke="#222" stroke-width="0.5"/><line x1="61.4" y1="228.18" x2="63.4" y2="228.18" stroke="#222" stroke-width="0.5"/><text x="62.4" y="275.3" font-size="5.2" text-anchor="middle" fill="#333" color="#333">6</text><rect x="67.85" y="222.23" width="7.9" height="47.87" fill="#000000" stroke="#000" stroke-width="0.7"/><line x1="71.8" y1="208.47" x2="71.8" y2="222.23" stroke="#333" stroke-width="0.5"/><line x1="70.8" y1="208.47" x2="72.8" y2="208.47" stroke="#333" stroke-width="0.5"/><text x="71.8" y="275.3" font-size="5.2" text-anchor="middle" fill="#333" color="#333">7.5</text><path d="M43.45 271.3V276.5H75.15V271.3" fill="none" stroke="#a8a8a8" stroke-width="0.6"/><text x="60.4" y="283.7" font-size="5.4" text-anchor="middle" fill="#222" color="#222">HSVEC</text><rect x="86.65" y="264.47" width="7.9" height="5.63" fill="#f5f5f5" stroke="#505050" stroke-width="0.7"/><line x1="90.6" y1="262.28" x2="90.6" y2="266.97" stroke="#222" stroke-width="0.5"/><line x1="89.6" y1="262.28" x2="91.6" y2="262.28" stroke="#222" stroke-width="0.5"/><line x1="89.6" y1="266.97" x2="91.6" y2="266.97" stroke="#222" stroke-width="0.5"/><text x="90.6" y="275.3" font-size="5.2" text-anchor="middle" fill="#333" color="#333">3</text><rect x="96.05" y="264.31" width="7.9" height="5.79" fill="#c2c2c2" stroke="#505050" stroke-width="0.7"/><line x1="100" y1="262.59" x2="100" y2="266.35" stroke="#222" stroke-width="0.5"/><line x1="99" y1="262.59" x2="101" y2="262.59" stroke="#222" stroke-width="0.5"/><line x1="99" y1="266.35" x2="101" y2="266.35" stroke="#222" stroke-width="0.5"/><text x="100" y="275.3" font-size="5.2" text-anchor="middle" fill="#333" color="#333">4.5</text><rect x="105.45" y="262.59" width="7.9" height="7.51" fill="#848484" stroke="#505050" stroke-width="0.7"/><line x1="109.4" y1="261.34" x2="109.4" y2="263.84" stroke="#222" stroke-width="0.5"/><line x1="108.4" y1="261.34" x2="110.4" y2="261.34" stroke="#222" stroke-width="0.5"/><line x1="108.4" y1="263.84" x2="110.4" y2="263.84" stroke="#222" stroke-width="0.5"/><text x="109.4" y="275.3" font-size="5.2" text-anchor="middle" fill="#333" color="#333">6</text><rect x="114.85" y="263.22" width="7.9" height="6.88" fill="#000000" stroke="#000" stroke-width="0.7"/><line x1="118.8" y1="261.97" x2="118.8" y2="263.22" stroke="#333" stroke-width="0.5"/><line x1="117.8" y1="261.97" x2="119.8" y2="261.97" stroke="#333" stroke-width="0.5"/><text x="118.8" y="275.3" font-size="5.2" text-anchor="middle" fill="#333" color="#333">7.5</text><path d="M90.45 271.3V276.5H122.15V271.3" fill="none" stroke="#a8a8a8" stroke-width="0.6"/><text x="105" y="283.7" font-size="5.8" text-anchor="middle" fill="#222" color="#222">SMC</text><rect x="133.65" y="262.28" width="7.9" height="7.82" fill="#f5f5f5" stroke="#505050" stroke-width="0.7"/><line x1="137.6" y1="259.46" x2="137.6" y2="265.41" stroke="#222" stroke-width="0.5"/><line x1="136.6" y1="259.46" x2="138.6" y2="259.46" stroke="#222" stroke-width="0.5"/><line x1="136.6" y1="265.41" x2="138.6" y2="265.41" stroke="#222" stroke-width="0.5"/><text x="137.6" y="275.3" font-size="5.2" text-anchor="middle" fill="#333" color="#333">3</text><rect x="143.05" y="258.84" width="7.9" height="11.26" fill="#c2c2c2" stroke="#505050" stroke-width="0.7"/><line x1="147" y1="253.52" x2="147" y2="263.84" stroke="#222" stroke-width="0.5"/><line x1="146" y1="253.52" x2="148" y2="253.52" stroke="#222" stroke-width="0.5"/><line x1="146" y1="263.84" x2="148" y2="263.84" stroke="#222" stroke-width="0.5"/><text x="147" y="275.3" font-size="5.2" text-anchor="middle" fill="#333" color="#333">4.5</text><rect x="152.45" y="260.4" width="7.9" height="9.7" fill="#848484" stroke="#505050" stroke-width="0.7"/><line x1="156.4" y1="259.15" x2="156.4" y2="261.65" stroke="#222" stroke-width="0.5"/><line x1="155.4" y1="259.15" x2="157.4" y2="259.15" stroke="#222" stroke-width="0.5"/><line x1="155.4" y1="261.65" x2="157.4" y2="261.65" stroke="#222" stroke-width="0.5"/><text x="156.4" y="275.3" font-size="5.2" text-anchor="middle" fill="#333" color="#333">6</text><rect x="161.85" y="260.71" width="7.9" height="9.39" fill="#000000" stroke="#000" stroke-width="0.7"/><line x1="165.8" y1="259.46" x2="165.8" y2="260.71" stroke="#333" stroke-width="0.5"/><line x1="164.8" y1="259.46" x2="166.8" y2="259.46" stroke="#333" stroke-width="0.5"/><text x="165.8" y="275.3" font-size="5.2" text-anchor="middle" fill="#333" color="#333">7.5</text><path d="M137.45 271.3V276.5H169.15V271.3" fill="none" stroke="#a8a8a8" stroke-width="0.6"/><text x="151.1" y="283.7" font-size="5.6" text-anchor="middle" fill="#222" color="#222">HSVEC + TNF<tspan font-size="4.6">α</tspan></text><circle cx="90.6" cy="259.15" r="0.9" fill="#222"/><circle cx="100" cy="259.15" r="0.9" fill="#222"/><circle cx="109.4" cy="259.15" r="0.9" fill="#222"/><circle cx="118.8" cy="259.15" r="0.9" fill="#222"/><circle cx="137.6" cy="256.33" r="0.9" fill="#222"/><circle cx="147" cy="249.76" r="0.9" fill="#222"/><circle cx="156.4" cy="256.96" r="0.9" fill="#222"/><circle cx="165.8" cy="256.96" r="0.9" fill="#222"/><rect x="38.9" y="160.6" width="131.6" height="109.5" fill="none" stroke="#9a9a9a" stroke-width="1"/><line x1="48.3" y1="160.6" x2="48.3" y2="162.6" stroke="#9a9a9a" stroke-width="0.8"/><line x1="57.7" y1="160.6" x2="57.7" y2="162.6" stroke="#9a9a9a" stroke-width="0.8"/><line x1="67.1" y1="160.6" x2="67.1" y2="162.6" stroke="#9a9a9a" stroke-width="0.8"/><line x1="76.5" y1="160.6" x2="76.5" y2="162.6" stroke="#9a9a9a" stroke-width="0.8"/><line x1="85.9" y1="160.6" x2="85.9" y2="162.6" stroke="#9a9a9a" stroke-width="0.8"/><line x1="95.3" y1="160.6" x2="95.3" y2="162.6" stroke="#9a9a9a" stroke-width="0.8"/><line x1="104.7" y1="160.6" x2="104.7" y2="162.6" stroke="#9a9a9a" stroke-width="0.8"/><line x1="114.1" y1="160.6" x2="114.1" y2="162.6" stroke="#9a9a9a" stroke-width="0.8"/><line x1="123.5" y1="160.6" x2="123.5" y2="162.6" stroke="#9a9a9a" stroke-width="0.8"/><line x1="132.9" y1="160.6" x2="132.9" y2="162.6" stroke="#9a9a9a" stroke-width="0.8"/><line x1="142.3" y1="160.6" x2="142.3" y2="162.6" stroke="#9a9a9a" stroke-width="0.8"/><line x1="151.7" y1="160.6" x2="151.7" y2="162.6" stroke="#9a9a9a" stroke-width="0.8"/><line x1="161.1" y1="160.6" x2="161.1" y2="162.6" stroke="#9a9a9a" stroke-width="0.8"/><line x1="38.9" y1="254.46" x2="40.9" y2="254.46" stroke="#666" stroke-width="0.8"/><line x1="170.5" y1="254.46" x2="168.5" y2="254.46" stroke="#666" stroke-width="0.8"/><line x1="38.9" y1="238.81" x2="40.9" y2="238.81" stroke="#666" stroke-width="0.8"/><line x1="170.5" y1="238.81" x2="168.5" y2="238.81" stroke="#666" stroke-width="0.8"/><line x1="38.9" y1="223.17" x2="40.9" y2="223.17" stroke="#666" stroke-width="0.8"/><line x1="170.5" y1="223.17" x2="168.5" y2="223.17" stroke="#666" stroke-width="0.8"/><line x1="38.9" y1="207.53" x2="40.9" y2="207.53" stroke="#666" stroke-width="0.8"/><line x1="170.5" y1="207.53" x2="168.5" y2="207.53" stroke="#666" stroke-width="0.8"/><line x1="38.9" y1="191.89" x2="40.9" y2="191.89" stroke="#666" stroke-width="0.8"/><line x1="170.5" y1="191.89" x2="168.5" y2="191.89" stroke="#666" stroke-width="0.8"/><line x1="38.9" y1="176.24" x2="40.9" y2="176.24" stroke="#666" stroke-width="0.8"/><line x1="170.5" y1="176.24" x2="168.5" y2="176.24" stroke="#666" stroke-width="0.8"/><text x="35.9" y="271.6" font-size="7.2" text-anchor="end" fill="#262626" color="#262626">0</text><text x="35.9" y="255.96" font-size="7.2" text-anchor="end" fill="#262626" color="#262626">5</text><text x="35.9" y="240.31" font-size="7.2" text-anchor="end" fill="#262626" color="#262626">10</text><text x="35.9" y="224.67" font-size="7.2" text-anchor="end" fill="#262626" color="#262626">15</text><text x="35.9" y="209.03" font-size="7.2" text-anchor="end" fill="#262626" color="#262626">20</text><text x="35.9" y="193.39" font-size="7.2" text-anchor="end" fill="#262626" color="#262626">25</text><text x="35.9" y="177.74" font-size="7.2" text-anchor="end" fill="#262626" color="#262626">30</text><text x="35.9" y="162.1" font-size="7.2" text-anchor="end" fill="#262626" color="#262626">35</text><text x="21.8" y="214.45" font-size="7.6" text-anchor="middle" transform="rotate(-90 21.8 214.45)" fill="#262626" color="#262626">Clotting Onset (minutes)</text><text x="102.1" y="293.8" font-size="7.5" text-anchor="middle" fill="#262626" color="#262626">mg/mL Fibrinogen</text><text x="185.5" y="161.6" font-size="12" text-anchor="start" font-weight="bold" fill="#000" color="#000">E</text><rect x="209.45" y="221.17" width="7.91" height="49.23" fill="#f5f5f5" stroke="#505050" stroke-width="0.7"/><line x1="213.41" y1="206.4" x2="213.41" y2="235.39" stroke="#222" stroke-width="0.5"/><line x1="212.41" y1="206.4" x2="214.41" y2="206.4" stroke="#222" stroke-width="0.5"/><line x1="212.41" y1="235.39" x2="214.41" y2="235.39" stroke="#222" stroke-width="0.5"/><text x="213.41" y="275.6" font-size="5.2" text-anchor="middle" fill="#333" color="#333">3</text><rect x="218.86" y="208.59" width="7.91" height="61.81" fill="#c2c2c2" stroke="#505050" stroke-width="0.7"/><line x1="222.82" y1="188.35" x2="222.82" y2="228.83" stroke="#222" stroke-width="0.5"/><line x1="221.82" y1="188.35" x2="223.82" y2="188.35" stroke="#222" stroke-width="0.5"/><line x1="221.82" y1="228.83" x2="223.82" y2="228.83" stroke="#222" stroke-width="0.5"/><text x="222.82" y="275.6" font-size="5.2" text-anchor="middle" fill="#333" color="#333">4.5</text><rect x="228.28" y="200.38" width="7.91" height="70.02" fill="#848484" stroke="#505050" stroke-width="0.7"/><line x1="232.24" y1="170.85" x2="232.24" y2="229.92" stroke="#222" stroke-width="0.5"/><line x1="231.24" y1="170.85" x2="233.24" y2="170.85" stroke="#222" stroke-width="0.5"/><line x1="231.24" y1="229.92" x2="233.24" y2="229.92" stroke="#222" stroke-width="0.5"/><text x="232.24" y="275.6" font-size="5.2" text-anchor="middle" fill="#333" color="#333">6</text><rect x="237.69" y="192.73" width="7.91" height="77.67" fill="#000000" stroke="#000" stroke-width="0.7"/><line x1="241.65" y1="164.28" x2="241.65" y2="192.73" stroke="#333" stroke-width="0.5"/><line x1="240.65" y1="164.28" x2="242.65" y2="164.28" stroke="#333" stroke-width="0.5"/><text x="241.65" y="275.6" font-size="5.2" text-anchor="middle" fill="#333" color="#333">7.5</text><path d="M213.25 271.6V276.8H244.99V271.6" fill="none" stroke="#a8a8a8" stroke-width="0.6"/><text x="230.23" y="284" font-size="5.4" text-anchor="middle" fill="#222" color="#222">HSVEC</text><rect x="256.52" y="211.32" width="7.91" height="59.08" fill="#f5f5f5" stroke="#505050" stroke-width="0.7"/><line x1="260.48" y1="205.85" x2="260.48" y2="216.79" stroke="#222" stroke-width="0.5"/><line x1="259.48" y1="205.85" x2="261.48" y2="205.85" stroke="#222" stroke-width="0.5"/><line x1="259.48" y1="216.79" x2="261.48" y2="216.79" stroke="#222" stroke-width="0.5"/><text x="260.48" y="275.6" font-size="5.2" text-anchor="middle" fill="#333" color="#333">3</text><rect x="265.94" y="194.91" width="7.91" height="75.49" fill="#c2c2c2" stroke="#505050" stroke-width="0.7"/><line x1="269.89" y1="191.08" x2="269.89" y2="198.74" stroke="#222" stroke-width="0.5"/><line x1="268.89" y1="191.08" x2="270.89" y2="191.08" stroke="#222" stroke-width="0.5"/><line x1="268.89" y1="198.74" x2="270.89" y2="198.74" stroke="#222" stroke-width="0.5"/><text x="269.89" y="275.6" font-size="5.2" text-anchor="middle" fill="#333" color="#333">4.5</text><rect x="275.35" y="184.52" width="7.91" height="85.88" fill="#848484" stroke="#505050" stroke-width="0.7"/><line x1="279.31" y1="181.79" x2="279.31" y2="187.26" stroke="#222" stroke-width="0.5"/><line x1="278.31" y1="181.79" x2="280.31" y2="181.79" stroke="#222" stroke-width="0.5"/><line x1="278.31" y1="187.26" x2="280.31" y2="187.26" stroke="#222" stroke-width="0.5"/><text x="279.31" y="275.6" font-size="5.2" text-anchor="middle" fill="#333" color="#333">6</text><rect x="284.76" y="178.5" width="7.91" height="91.9" fill="#000000" stroke="#000" stroke-width="0.7"/><line x1="288.72" y1="176.32" x2="288.72" y2="178.5" stroke="#333" stroke-width="0.5"/><line x1="287.72" y1="176.32" x2="289.72" y2="176.32" stroke="#333" stroke-width="0.5"/><text x="288.72" y="275.6" font-size="5.2" text-anchor="middle" fill="#333" color="#333">7.5</text><path d="M260.32 271.6V276.8H292.06V271.6" fill="none" stroke="#a8a8a8" stroke-width="0.6"/><text x="274.9" y="284" font-size="5.8" text-anchor="middle" fill="#222" color="#222">SMC</text><rect x="303.59" y="212.42" width="7.91" height="57.98" fill="#f5f5f5" stroke="#505050" stroke-width="0.7"/><line x1="307.55" y1="210.23" x2="307.55" y2="214.61" stroke="#222" stroke-width="0.5"/><line x1="306.55" y1="210.23" x2="308.55" y2="210.23" stroke="#222" stroke-width="0.5"/><line x1="306.55" y1="214.61" x2="308.55" y2="214.61" stroke="#222" stroke-width="0.5"/><text x="307.55" y="275.6" font-size="5.2" text-anchor="middle" fill="#333" color="#333">3</text><rect x="313.01" y="198.2" width="7.91" height="72.2" fill="#c2c2c2" stroke="#505050" stroke-width="0.7"/><line x1="316.96" y1="194.37" x2="316.96" y2="202.02" stroke="#222" stroke-width="0.5"/><line x1="315.96" y1="194.37" x2="317.96" y2="194.37" stroke="#222" stroke-width="0.5"/><line x1="315.96" y1="202.02" x2="317.96" y2="202.02" stroke="#222" stroke-width="0.5"/><text x="316.96" y="275.6" font-size="5.2" text-anchor="middle" fill="#333" color="#333">4.5</text><rect x="322.42" y="187.26" width="7.91" height="83.14" fill="#848484" stroke="#505050" stroke-width="0.7"/><line x1="326.38" y1="183.43" x2="326.38" y2="191.08" stroke="#222" stroke-width="0.5"/><line x1="325.38" y1="183.43" x2="327.38" y2="183.43" stroke="#222" stroke-width="0.5"/><line x1="325.38" y1="191.08" x2="327.38" y2="191.08" stroke="#222" stroke-width="0.5"/><text x="326.38" y="275.6" font-size="5.2" text-anchor="middle" fill="#333" color="#333">6</text><rect x="331.84" y="181.24" width="7.91" height="89.16" fill="#000000" stroke="#000" stroke-width="0.7"/><line x1="335.79" y1="176.86" x2="335.79" y2="181.24" stroke="#333" stroke-width="0.5"/><line x1="334.79" y1="176.86" x2="336.79" y2="176.86" stroke="#333" stroke-width="0.5"/><text x="335.79" y="275.6" font-size="5.2" text-anchor="middle" fill="#333" color="#333">7.5</text><path d="M307.39 271.6V276.8H339.14V271.6" fill="none" stroke="#a8a8a8" stroke-width="0.6"/><text x="321.07" y="284" font-size="5.6" text-anchor="middle" fill="#222" color="#222">HSVEC + TNF<tspan font-size="4.6">α</tspan></text><circle cx="269.89" cy="189.44" r="0.9" fill="#222"/><text x="269.89" y="186.2" font-size="6.9" text-anchor="middle" font-weight="bold" fill="#222" color="#222">#</text><circle cx="279.31" cy="179.05" r="0.9" fill="#222"/><text x="279.31" y="177.45" font-size="6.9" text-anchor="middle" font-weight="bold" fill="#222" color="#222">#</text><circle cx="288.72" cy="173.58" r="0.9" fill="#222"/><text x="288.72" y="171.16" font-size="6.9" text-anchor="middle" font-weight="bold" fill="#222" color="#222">#</text><circle cx="316.96" cy="191.63" r="0.9" fill="#222"/><text x="316.96" y="188.39" font-size="6.9" text-anchor="middle" font-weight="bold" fill="#222" color="#222">#</text><circle cx="326.38" cy="180.14" r="0.9" fill="#222"/><text x="326.38" y="177.45" font-size="6.9" text-anchor="middle" font-weight="bold" fill="#222" color="#222">#</text><circle cx="335.79" cy="174.13" r="0.9" fill="#222"/><text x="335.79" y="171.16" font-size="6.9" text-anchor="middle" font-weight="bold" fill="#222" color="#222">#</text><rect x="208.7" y="161" width="131.8" height="109.4" fill="none" stroke="#9a9a9a" stroke-width="1"/><line x1="218.11" y1="161" x2="218.11" y2="163" stroke="#9a9a9a" stroke-width="0.8"/><line x1="227.53" y1="161" x2="227.53" y2="163" stroke="#9a9a9a" stroke-width="0.8"/><line x1="236.94" y1="161" x2="236.94" y2="163" stroke="#9a9a9a" stroke-width="0.8"/><line x1="246.36" y1="161" x2="246.36" y2="163" stroke="#9a9a9a" stroke-width="0.8"/><line x1="255.77" y1="161" x2="255.77" y2="163" stroke="#9a9a9a" stroke-width="0.8"/><line x1="265.19" y1="161" x2="265.19" y2="163" stroke="#9a9a9a" stroke-width="0.8"/><line x1="274.6" y1="161" x2="274.6" y2="163" stroke="#9a9a9a" stroke-width="0.8"/><line x1="284.01" y1="161" x2="284.01" y2="163" stroke="#9a9a9a" stroke-width="0.8"/><line x1="293.43" y1="161" x2="293.43" y2="163" stroke="#9a9a9a" stroke-width="0.8"/><line x1="302.84" y1="161" x2="302.84" y2="163" stroke="#9a9a9a" stroke-width="0.8"/><line x1="312.26" y1="161" x2="312.26" y2="163" stroke="#9a9a9a" stroke-width="0.8"/><line x1="321.67" y1="161" x2="321.67" y2="163" stroke="#9a9a9a" stroke-width="0.8"/><line x1="331.09" y1="161" x2="331.09" y2="163" stroke="#9a9a9a" stroke-width="0.8"/><line x1="208.7" y1="243.05" x2="210.7" y2="243.05" stroke="#666" stroke-width="0.8"/><line x1="340.5" y1="243.05" x2="338.5" y2="243.05" stroke="#666" stroke-width="0.8"/><line x1="208.7" y1="215.7" x2="210.7" y2="215.7" stroke="#666" stroke-width="0.8"/><line x1="340.5" y1="215.7" x2="338.5" y2="215.7" stroke="#666" stroke-width="0.8"/><line x1="208.7" y1="188.35" x2="210.7" y2="188.35" stroke="#666" stroke-width="0.8"/><line x1="340.5" y1="188.35" x2="338.5" y2="188.35" stroke="#666" stroke-width="0.8"/><text x="205.7" y="271.9" font-size="7.2" text-anchor="end" fill="#262626" color="#262626">0</text><text x="205.7" y="244.55" font-size="7.2" text-anchor="end" fill="#262626" color="#262626">0.5</text><text x="205.7" y="217.2" font-size="7.2" text-anchor="end" fill="#262626" color="#262626">1</text><text x="205.7" y="189.85" font-size="7.2" text-anchor="end" fill="#262626" color="#262626">1.5</text><text x="205.7" y="162.5" font-size="7.2" text-anchor="end" fill="#262626" color="#262626">2</text><text x="191.6" y="215.1" font-size="7.6" text-anchor="middle" transform="rotate(-90 191.6 215.1)" fill="#262626" color="#262626">Peak Turbidity</text><text x="272" y="294.1" font-size="7.5" text-anchor="middle" fill="#262626" color="#262626">mg/mL Fibrinogen</text><text x="353.6" y="161.2" font-size="12" text-anchor="start" font-weight="bold" fill="#000" color="#000">F</text><rect x="379.55" y="240.01" width="7.95" height="29.59" fill="#f5f5f5" stroke="#505050" stroke-width="0.7"/><line x1="383.53" y1="233.43" x2="383.53" y2="249.14" stroke="#222" stroke-width="0.5"/><line x1="382.53" y1="233.43" x2="384.53" y2="233.43" stroke="#222" stroke-width="0.5"/><line x1="382.53" y1="249.14" x2="384.53" y2="249.14" stroke="#222" stroke-width="0.5"/><text x="383.53" y="274.8" font-size="5.2" text-anchor="middle" fill="#333" color="#333">3</text><rect x="389" y="227.4" width="7.95" height="42.2" fill="#c2c2c2" stroke="#505050" stroke-width="0.7"/><line x1="392.98" y1="216.01" x2="392.98" y2="238.91" stroke="#222" stroke-width="0.5"/><line x1="391.98" y1="216.01" x2="393.98" y2="216.01" stroke="#222" stroke-width="0.5"/><line x1="391.98" y1="238.91" x2="393.98" y2="238.91" stroke="#222" stroke-width="0.5"/><text x="392.98" y="274.8" font-size="5.2" text-anchor="middle" fill="#333" color="#333">4.5</text><rect x="398.45" y="209.79" width="7.95" height="59.81" fill="#848484" stroke="#505050" stroke-width="0.7"/><line x1="402.43" y1="189.59" x2="402.43" y2="231.61" stroke="#222" stroke-width="0.5"/><line x1="401.43" y1="189.59" x2="403.43" y2="189.59" stroke="#222" stroke-width="0.5"/><line x1="401.43" y1="231.61" x2="403.43" y2="231.61" stroke="#222" stroke-width="0.5"/><text x="402.43" y="274.8" font-size="5.2" text-anchor="middle" fill="#333" color="#333">6</text><rect x="407.9" y="200.3" width="7.95" height="69.3" fill="#000000" stroke="#000" stroke-width="0.7"/><line x1="411.88" y1="173.88" x2="411.88" y2="200.3" stroke="#333" stroke-width="0.5"/><line x1="410.88" y1="173.88" x2="412.88" y2="173.88" stroke="#333" stroke-width="0.5"/><text x="411.88" y="274.8" font-size="5.2" text-anchor="middle" fill="#333" color="#333">7.5</text><path d="M383.35 270.8V276H415.2V270.8" fill="none" stroke="#a8a8a8" stroke-width="0.6"/><text x="400.4" y="283.2" font-size="5.4" text-anchor="middle" fill="#222" color="#222">HSVEC</text><rect x="426.8" y="221.08" width="7.95" height="48.52" fill="#f5f5f5" stroke="#505050" stroke-width="0.7"/><line x1="430.78" y1="216.63" x2="430.78" y2="225.76" stroke="#222" stroke-width="0.5"/><line x1="429.78" y1="216.63" x2="431.78" y2="216.63" stroke="#222" stroke-width="0.5"/><line x1="429.78" y1="225.76" x2="431.78" y2="225.76" stroke="#222" stroke-width="0.5"/><text x="430.78" y="274.8" font-size="5.2" text-anchor="middle" fill="#333" color="#333">3</text><rect x="436.25" y="219.91" width="7.95" height="49.69" fill="#c2c2c2" stroke="#505050" stroke-width="0.7"/><line x1="440.23" y1="203.47" x2="440.23" y2="236.35" stroke="#222" stroke-width="0.5"/><line x1="439.23" y1="203.47" x2="441.23" y2="203.47" stroke="#222" stroke-width="0.5"/><line x1="439.23" y1="236.35" x2="441.23" y2="236.35" stroke="#222" stroke-width="0.5"/><text x="440.23" y="274.8" font-size="5.2" text-anchor="middle" fill="#333" color="#333">4.5</text><rect x="445.7" y="197.01" width="7.95" height="72.59" fill="#848484" stroke="#505050" stroke-width="0.7"/><line x1="449.68" y1="191.05" x2="449.68" y2="202.74" stroke="#222" stroke-width="0.5"/><line x1="448.68" y1="191.05" x2="450.68" y2="191.05" stroke="#222" stroke-width="0.5"/><line x1="448.68" y1="202.74" x2="450.68" y2="202.74" stroke="#222" stroke-width="0.5"/><text x="449.68" y="274.8" font-size="5.2" text-anchor="middle" fill="#333" color="#333">6</text><rect x="455.15" y="195.99" width="7.95" height="73.61" fill="#000000" stroke="#000" stroke-width="0.7"/><line x1="459.13" y1="192.15" x2="459.13" y2="195.99" stroke="#333" stroke-width="0.5"/><line x1="458.13" y1="192.15" x2="460.13" y2="192.15" stroke="#333" stroke-width="0.5"/><text x="459.13" y="274.8" font-size="5.2" text-anchor="middle" fill="#333" color="#333">7.5</text><path d="M430.6 270.8V276H462.45V270.8" fill="none" stroke="#a8a8a8" stroke-width="0.6"/><text x="445.25" y="283.2" font-size="5.8" text-anchor="middle" fill="#222" color="#222">SMC</text><rect x="474.05" y="216.99" width="7.95" height="52.61" fill="#f5f5f5" stroke="#505050" stroke-width="0.7"/><line x1="478.03" y1="214.43" x2="478.03" y2="219.55" stroke="#222" stroke-width="0.5"/><line x1="477.03" y1="214.43" x2="479.03" y2="214.43" stroke="#222" stroke-width="0.5"/><line x1="477.03" y1="219.55" x2="479.03" y2="219.55" stroke="#222" stroke-width="0.5"/><text x="478.03" y="274.8" font-size="5.2" text-anchor="middle" fill="#333" color="#333">3</text><rect x="483.5" y="205.89" width="7.95" height="63.71" fill="#c2c2c2" stroke="#505050" stroke-width="0.7"/><line x1="487.48" y1="193.98" x2="487.48" y2="217.36" stroke="#222" stroke-width="0.5"/><line x1="486.48" y1="193.98" x2="488.48" y2="193.98" stroke="#222" stroke-width="0.5"/><line x1="486.48" y1="217.36" x2="488.48" y2="217.36" stroke="#222" stroke-width="0.5"/><text x="487.48" y="274.8" font-size="5.2" text-anchor="middle" fill="#333" color="#333">4.5</text><rect x="492.95" y="192.99" width="7.95" height="76.61" fill="#848484" stroke="#505050" stroke-width="0.7"/><line x1="496.93" y1="184.11" x2="496.93" y2="202.01" stroke="#222" stroke-width="0.5"/><line x1="495.93" y1="184.11" x2="497.93" y2="184.11" stroke="#222" stroke-width="0.5"/><line x1="495.93" y1="202.01" x2="497.93" y2="202.01" stroke="#222" stroke-width="0.5"/><text x="496.93" y="274.8" font-size="5.2" text-anchor="middle" fill="#333" color="#333">6</text><rect x="502.4" y="174.98" width="7.95" height="94.62" fill="#000000" stroke="#000" stroke-width="0.7"/><line x1="506.38" y1="164.38" x2="506.38" y2="174.98" stroke="#333" stroke-width="0.5"/><line x1="505.38" y1="164.38" x2="507.38" y2="164.38" stroke="#333" stroke-width="0.5"/><text x="506.38" y="274.8" font-size="5.2" text-anchor="middle" fill="#333" color="#333">7.5</text><path d="M477.85 270.8V276H509.7V270.8" fill="none" stroke="#a8a8a8" stroke-width="0.6"/><text x="491.6" y="283.2" font-size="5.6" text-anchor="middle" fill="#222" color="#222">HSVEC + TNF<tspan font-size="4.6">α</tspan></text><circle cx="449.68" cy="186.67" r="0.9" fill="#222"/><circle cx="459.13" cy="188.13" r="0.9" fill="#222"/><text x="459.13" y="184.42" font-size="6.9" text-anchor="middle" font-weight="bold" fill="#222" color="#222">#</text><circle cx="478.03" cy="204.94" r="0.9" fill="#222"/><circle cx="487.48" cy="190.69" r="0.9" fill="#222"/><circle cx="496.93" cy="180.82" r="0.9" fill="#222"/><rect x="378.8" y="160" width="132.3" height="109.6" fill="none" stroke="#9a9a9a" stroke-width="1"/><line x1="388.25" y1="160" x2="388.25" y2="162" stroke="#9a9a9a" stroke-width="0.8"/><line x1="397.7" y1="160" x2="397.7" y2="162" stroke="#9a9a9a" stroke-width="0.8"/><line x1="407.15" y1="160" x2="407.15" y2="162" stroke="#9a9a9a" stroke-width="0.8"/><line x1="416.6" y1="160" x2="416.6" y2="162" stroke="#9a9a9a" stroke-width="0.8"/><line x1="426.05" y1="160" x2="426.05" y2="162" stroke="#9a9a9a" stroke-width="0.8"/><line x1="435.5" y1="160" x2="435.5" y2="162" stroke="#9a9a9a" stroke-width="0.8"/><line x1="444.95" y1="160" x2="444.95" y2="162" stroke="#9a9a9a" stroke-width="0.8"/><line x1="454.4" y1="160" x2="454.4" y2="162" stroke="#9a9a9a" stroke-width="0.8"/><line x1="463.85" y1="160" x2="463.85" y2="162" stroke="#9a9a9a" stroke-width="0.8"/><line x1="473.3" y1="160" x2="473.3" y2="162" stroke="#9a9a9a" stroke-width="0.8"/><line x1="482.75" y1="160" x2="482.75" y2="162" stroke="#9a9a9a" stroke-width="0.8"/><line x1="492.2" y1="160" x2="492.2" y2="162" stroke="#9a9a9a" stroke-width="0.8"/><line x1="501.65" y1="160" x2="501.65" y2="162" stroke="#9a9a9a" stroke-width="0.8"/><line x1="378.8" y1="251.33" x2="380.8" y2="251.33" stroke="#666" stroke-width="0.8"/><line x1="511.1" y1="251.33" x2="509.1" y2="251.33" stroke="#666" stroke-width="0.8"/><line x1="378.8" y1="233.07" x2="380.8" y2="233.07" stroke="#666" stroke-width="0.8"/><line x1="511.1" y1="233.07" x2="509.1" y2="233.07" stroke="#666" stroke-width="0.8"/><line x1="378.8" y1="214.8" x2="380.8" y2="214.8" stroke="#666" stroke-width="0.8"/><line x1="511.1" y1="214.8" x2="509.1" y2="214.8" stroke="#666" stroke-width="0.8"/><line x1="378.8" y1="196.53" x2="380.8" y2="196.53" stroke="#666" stroke-width="0.8"/><line x1="511.1" y1="196.53" x2="509.1" y2="196.53" stroke="#666" stroke-width="0.8"/><line x1="378.8" y1="178.27" x2="380.8" y2="178.27" stroke="#666" stroke-width="0.8"/><line x1="511.1" y1="178.27" x2="509.1" y2="178.27" stroke="#666" stroke-width="0.8"/><text x="375.8" y="271.1" font-size="7.2" text-anchor="end" fill="#262626" color="#262626">0</text><text x="375.8" y="252.83" font-size="7.2" text-anchor="end" fill="#262626" color="#262626">50</text><text x="375.8" y="234.57" font-size="7.2" text-anchor="end" fill="#262626" color="#262626">100</text><text x="375.8" y="216.3" font-size="7.2" text-anchor="end" fill="#262626" color="#262626">150</text><text x="375.8" y="198.03" font-size="7.2" text-anchor="end" fill="#262626" color="#262626">200</text><text x="375.8" y="179.77" font-size="7.2" text-anchor="end" fill="#262626" color="#262626">250</text><text x="375.8" y="161.5" font-size="7.2" text-anchor="end" fill="#262626" color="#262626">300</text><text x="361.6" y="212.8" font-size="7.6" text-anchor="middle" transform="rotate(-90 361.6 212.8)" fill="#262626" color="#262626">Clotting Rate (mOD/min)</text><text x="442.35" y="293.3" font-size="7.5" text-anchor="middle" fill="#262626" color="#262626">mg/mL Fibrinogen</text><text x="503" y="166.5" font-size="6.9" text-anchor="middle" font-weight="bold" fill="#222" color="#222">#</text><circle cx="508.8" cy="164.6" r="0.9" fill="#222"/><text x="13" y="310.3" font-size="12" text-anchor="start" font-weight="bold" fill="#000" color="#000">G</text><rect x="43.2" y="305.2" width="130.4" height="117.4" fill="none" stroke="#9a9a9a" stroke-width="1"/><line x1="69.28" y1="422.6" x2="69.28" y2="420.4" stroke="#9a9a9a" stroke-width="1"/><line x1="69.28" y1="305.2" x2="69.28" y2="307.4" stroke="#9a9a9a" stroke-width="1"/><line x1="95.36" y1="422.6" x2="95.36" y2="420.4" stroke="#9a9a9a" stroke-width="1"/><line x1="95.36" y1="305.2" x2="95.36" y2="307.4" stroke="#9a9a9a" stroke-width="1"/><line x1="121.44" y1="422.6" x2="121.44" y2="420.4" stroke="#9a9a9a" stroke-width="1"/><line x1="121.44" y1="305.2" x2="121.44" y2="307.4" stroke="#9a9a9a" stroke-width="1"/><line x1="147.52" y1="422.6" x2="147.52" y2="420.4" stroke="#9a9a9a" stroke-width="1"/><line x1="147.52" y1="305.2" x2="147.52" y2="307.4" stroke="#9a9a9a" stroke-width="1"/><line x1="43.2" y1="402.5" x2="45.4" y2="402.5" stroke="#9a9a9a" stroke-width="1"/><line x1="173.6" y1="402.5" x2="171.4" y2="402.5" stroke="#9a9a9a" stroke-width="1"/><line x1="43.2" y1="364.4" x2="45.4" y2="364.4" stroke="#9a9a9a" stroke-width="1"/><line x1="173.6" y1="364.4" x2="171.4" y2="364.4" stroke="#9a9a9a" stroke-width="1"/><line x1="43.2" y1="326.3" x2="45.4" y2="326.3" stroke="#9a9a9a" stroke-width="1"/><line x1="173.6" y1="326.3" x2="171.4" y2="326.3" stroke="#9a9a9a" stroke-width="1"/><text x="43.2" y="430.8" font-size="7.2" text-anchor="middle" fill="#262626" color="#262626">0</text><text x="69.28" y="430.8" font-size="7.2" text-anchor="middle" fill="#262626" color="#262626">5</text><text x="95.36" y="430.8" font-size="7.2" text-anchor="middle" fill="#262626" color="#262626">10</text><text x="121.44" y="430.8" font-size="7.2" text-anchor="middle" fill="#262626" color="#262626">15</text><text x="147.52" y="430.8" font-size="7.2" text-anchor="middle" fill="#262626" color="#262626">20</text><text x="173.6" y="430.8" font-size="7.2" text-anchor="middle" fill="#262626" color="#262626">25</text><text x="38.8" y="404.4" font-size="7.2" text-anchor="end" fill="#262626" color="#262626">0.1</text><text x="38.8" y="366.3" font-size="7.2" text-anchor="end" fill="#262626" color="#262626">0.2</text><text x="38.8" y="328.2" font-size="7.2" text-anchor="end" fill="#262626" color="#262626">0.3</text><text x="109.2" y="440.2" font-size="7.9" text-anchor="middle" fill="#262626" color="#262626">Time (min)</text><text x="16.7" y="364" font-size="7.6" text-anchor="middle" fill="#262626" color="#262626" transform="rotate(-90 16.7 364)">Clot Formation (A<tspan font-size="4.7" dy="4.8">405</tspan><tspan dy="-4.8">)</tspan></text><polyline points="43.5,402.3 44.14,402.3 44.78,402.3 45.43,402.3 46.07,402.3 46.71,402.3 47.35,402.3 47.99,402.3 48.63,402.3 49.28,402.3 49.92,402.3 50.56,402.3 51.2,402.3 51.84,402.3 52.48,402.3 53.13,402.3 53.77,402.3 54.41,402.29 55.05,402.28 55.69,402.27 56.33,402.25 56.98,402.23 57.62,402.21 58.26,402.18 58.9,402.15 59.54,402.12 60.18,402.07 60.83,401.89 61.47,401.58 62.11,401.17 62.75,400.67 63.39,400.13 64.03,399.57 64.68,399.01 65.32,398.48 65.96,398.01 66.6,397.63 67.24,397.34 67.88,397.07 68.53,396.81 69.17,396.55 69.81,396.31 70.45,396.08 71.09,395.87 71.74,395.69 72.38,395.54 73.02,395.41 73.66,395.32 74.3,395.26 74.94,395.2 75.59,395.15 76.23,395.1 76.87,395.06 77.51,395.02 78.15,394.99 78.79,394.96 79.44,394.94 80.08,394.92 80.72,394.9 81.36,394.89 82,394.88 82.64,394.86 83.29,394.86 83.93,394.85 84.57,394.84 85.21,394.83 85.85,394.82 86.49,394.82 87.14,394.81 87.78,394.8 88.42,394.79 89.06,394.78 89.7,394.77 90.34,394.75 90.99,394.74 91.63,394.73 92.27,394.72 92.91,394.71 93.55,394.71 94.19,394.7 94.84,394.7 95.48,394.7 96.12,394.7 96.76,394.7 97.4,394.7 98.05,394.7 98.69,394.7 99.33,394.7 99.97,394.7 100.61,394.7 101.25,394.7 101.9,394.7 102.54,394.7 103.18,394.69 103.82,394.68 104.46,394.66 105.1,394.65 105.75,394.64 106.39,394.62 107.03,394.61 107.67,394.61 108.31,394.6 108.95,394.6 109.6,394.6 110.24,394.6 110.88,394.6 111.52,394.6 112.16,394.6 112.8,394.6 113.45,394.6 114.09,394.6 114.73,394.6 115.37,394.6 116.01,394.6 116.65,394.6 117.3,394.6 117.94,394.6 118.58,394.6 119.22,394.6 119.86,394.6 120.51,394.6 121.15,394.6 121.79,394.6 122.43,394.6 123.07,394.6 123.71,394.59 124.36,394.58 125,394.57 125.64,394.56 126.28,394.54 126.92,394.53 127.56,394.52 128.21,394.51 128.85,394.5 129.49,394.5 130.13,394.5 130.77,394.5 131.41,394.5 132.06,394.5 132.7,394.5 133.34,394.5 133.98,394.5 134.62,394.5 135.26,394.5 135.91,394.5 136.55,394.5 137.19,394.5 137.83,394.5 138.47,394.5 139.11,394.5 139.76,394.5 140.4,394.5 141.04,394.5 141.68,394.5 142.32,394.5 142.96,394.5 143.61,394.5 144.25,394.5 144.89,394.5 145.53,394.5 146.17,394.5 146.82,394.5 147.46,394.5 148.1,394.5 148.74,394.5 149.38,394.5 150.02,394.5 150.67,394.5 151.31,394.5 151.95,394.5 152.59,394.5 153.23,394.5 153.87,394.5 154.52,394.5 155.16,394.5 155.8,394.5 156.44,394.5 157.08,394.5 157.72,394.5 158.37,394.5 159.01,394.5 159.65,394.5 160.29,394.5 160.93,394.5 161.57,394.5 162.22,394.5 162.86,394.5 163.5,394.5 164.14,394.5 164.78,394.5 165.42,394.5 166.07,394.5 166.71,394.5 167.35,394.5 167.99,394.5 168.63,394.5 169.27,394.5 169.92,394.5 170.56,394.5 171.2,394.5" fill="none" stroke="#7a7a7a" stroke-width="0.8" stroke-linejoin="round"/><polyline points="43.5,400.9 44.14,400.9 44.78,400.9 45.43,400.9 46.07,400.9 46.71,400.9 47.35,400.9 47.99,400.9 48.63,400.9 49.28,400.9 49.92,400.9 50.56,400.9 51.2,400.9 51.84,400.9 52.48,400.9 53.13,400.9 53.77,400.9 54.41,400.9 55.05,400.9 55.69,400.9 56.33,400.9 56.98,400.9 57.62,400.9 58.26,400.9 58.9,400.9 59.54,400.9 60.18,400.89 60.83,400.81 61.47,400.66 62.11,400.43 62.75,400.14 63.39,399.8 64.03,399.41 64.68,398.98 65.32,398.51 65.96,398.03 66.6,397.52 67.24,396.96 67.88,396.17 68.53,395.16 69.17,393.98 69.81,392.68 70.45,391.32 71.09,389.94 71.74,388.59 72.38,387.32 73.02,386.19 73.66,385.23 74.3,384.44 74.94,383.69 75.59,382.97 76.23,382.29 76.87,381.64 77.51,381.02 78.15,380.44 78.79,379.91 79.44,379.41 80.08,378.96 80.72,378.55 81.36,378.18 82,377.83 82.64,377.5 83.29,377.18 83.93,376.89 84.57,376.62 85.21,376.36 85.85,376.12 86.49,375.89 87.14,375.69 87.78,375.49 88.42,375.31 89.06,375.14 89.7,374.98 90.34,374.82 90.99,374.68 91.63,374.54 92.27,374.41 92.91,374.29 93.55,374.18 94.19,374.08 94.84,373.98 95.48,373.9 96.12,373.82 96.76,373.75 97.4,373.68 98.05,373.61 98.69,373.55 99.33,373.49 99.97,373.43 100.61,373.38 101.25,373.33 101.9,373.28 102.54,373.24 103.18,373.19 103.82,373.15 104.46,373.11 105.1,373.07 105.75,373.04 106.39,373 107.03,372.97 107.67,372.94 108.31,372.91 108.95,372.89 109.6,372.86 110.24,372.84 110.88,372.82 111.52,372.8 112.16,372.78 112.8,372.76 113.45,372.75 114.09,372.73 114.73,372.72 115.37,372.7 116.01,372.69 116.65,372.68 117.3,372.67 117.94,372.66 118.58,372.65 119.22,372.64 119.86,372.64 120.51,372.63 121.15,372.62 121.79,372.61 122.43,372.6 123.07,372.59 123.71,372.58 124.36,372.57 125,372.56 125.64,372.56 126.28,372.55 126.92,372.54 127.56,372.53 128.21,372.52 128.85,372.51 129.49,372.5 130.13,372.49 130.77,372.48 131.41,372.47 132.06,372.46 132.7,372.45 133.34,372.45 133.98,372.44 134.62,372.43 135.26,372.42 135.91,372.41 136.55,372.4 137.19,372.39 137.83,372.38 138.47,372.37 139.11,372.35 139.76,372.34 140.4,372.33 141.04,372.32 141.68,372.31 142.32,372.3 142.96,372.3 143.61,372.3 144.25,372.3 144.89,372.3 145.53,372.3 146.17,372.3 146.82,372.3 147.46,372.3 148.1,372.3 148.74,372.3 149.38,372.3 150.02,372.3 150.67,372.3 151.31,372.3 151.95,372.29 152.59,372.28 153.23,372.26 153.87,372.25 154.52,372.24 155.16,372.22 155.8,372.21 156.44,372.2 157.08,372.2 157.72,372.2 158.37,372.2 159.01,372.2 159.65,372.2 160.29,372.2 160.93,372.2 161.57,372.2 162.22,372.2 162.86,372.2 163.5,372.2 164.14,372.2 164.78,372.2 165.42,372.2 166.07,372.2 166.71,372.2 167.35,372.2 167.99,372.2 168.63,372.2 169.27,372.2 169.92,372.2 170.56,372.2 171.2,372.2" fill="none" stroke="#111" stroke-width="0.7" stroke-linejoin="round"/><polyline points="43.5,398.3 44.14,398.3 44.78,398.3 45.43,398.3 46.07,398.3 46.71,398.3 47.35,398.3 47.99,398.3 48.63,398.3 49.28,398.3 49.92,398.3 50.56,398.3 51.2,398.3 51.84,398.3 52.48,398.3 53.13,398.3 53.77,398.3 54.41,398.3 55.05,398.3 55.69,398.3 56.33,398.3 56.98,398.3 57.62,398.3 58.26,398.3 58.9,398.3 59.54,398.3 60.18,398.29 60.83,398.13 61.47,397.83 62.11,397.39 62.75,396.83 63.39,396.17 64.03,395.43 64.68,394.62 65.32,393.77 65.96,392.89 66.6,391.99 67.24,391.05 67.88,389.87 68.53,388.46 69.17,386.87 69.81,385.14 70.45,383.33 71.09,381.47 71.74,379.61 72.38,377.8 73.02,376.09 73.66,374.51 74.3,373.06 74.94,371.62 75.59,370.19 76.23,368.78 76.87,367.4 77.51,366.05 78.15,364.74 78.79,363.49 79.44,362.29 80.08,361.17 80.72,360.13 81.36,359.15 82,358.21 82.64,357.31 83.29,356.44 83.93,355.61 84.57,354.81 85.21,354.04 85.85,353.31 86.49,352.61 87.14,351.93 87.78,351.28 88.42,350.65 89.06,350.04 89.7,349.44 90.34,348.86 90.99,348.3 91.63,347.76 92.27,347.25 92.91,346.77 93.55,346.32 94.19,345.91 94.84,345.53 95.48,345.19 96.12,344.86 96.76,344.55 97.4,344.25 98.05,343.97 98.69,343.71 99.33,343.45 99.97,343.21 100.61,342.98 101.25,342.75 101.9,342.53 102.54,342.31 103.18,342.1 103.82,341.89 104.46,341.69 105.1,341.5 105.75,341.32 106.39,341.14 107.03,340.98 107.67,340.82 108.31,340.67 108.95,340.53 109.6,340.4 110.24,340.28 110.88,340.16 111.52,340.04 112.16,339.93 112.8,339.83 113.45,339.73 114.09,339.63 114.73,339.53 115.37,339.43 116.01,339.34 116.65,339.25 117.3,339.15 117.94,339.07 118.58,338.98 119.22,338.89 119.86,338.81 120.51,338.73 121.15,338.66 121.79,338.58 122.43,338.51 123.07,338.45 123.71,338.39 124.36,338.33 125,338.27 125.64,338.21 126.28,338.16 126.92,338.11 127.56,338.05 128.21,338 128.85,337.95 129.49,337.9 130.13,337.85 130.77,337.8 131.41,337.75 132.06,337.7 132.7,337.65 133.34,337.6 133.98,337.56 134.62,337.51 135.26,337.47 135.91,337.43 136.55,337.4 137.19,337.36 137.83,337.33 138.47,337.3 139.11,337.27 139.76,337.24 140.4,337.21 141.04,337.19 141.68,337.16 142.32,337.14 142.96,337.12 143.61,337.09 144.25,337.07 144.89,337.05 145.53,337.03 146.17,337.02 146.82,337 147.46,336.98 148.1,336.96 148.74,336.95 149.38,336.93 150.02,336.91 150.67,336.89 151.31,336.87 151.95,336.85 152.59,336.83 153.23,336.81 153.87,336.79 154.52,336.77 155.16,336.75 155.8,336.74 156.44,336.72 157.08,336.71 157.72,336.69 158.37,336.68 159.01,336.67 159.65,336.65 160.29,336.64 160.93,336.63 161.57,336.62 162.22,336.61 162.86,336.61 163.5,336.6 164.14,336.6 164.78,336.6 165.42,336.6 166.07,336.6 166.71,336.6 167.35,336.6 167.99,336.6 168.63,336.6 169.27,336.6 169.92,336.6 170.56,336.6 171.2,336.6" fill="none" stroke="#111" stroke-width="0.7" stroke-linejoin="round"/><circle cx="46" cy="402.3" r="1.4" fill="#f4f4f4" stroke="#7a7a7a" stroke-width="0.75"/><circle cx="52.96" cy="402.3" r="1.4" fill="#f4f4f4" stroke="#7a7a7a" stroke-width="0.75"/><circle cx="59.92" cy="402.1" r="1.4" fill="#f4f4f4" stroke="#7a7a7a" stroke-width="0.75"/><circle cx="66.88" cy="397.5" r="1.4" fill="#f4f4f4" stroke="#7a7a7a" stroke-width="0.75"/><circle cx="73.84" cy="395.3" r="1.4" fill="#f4f4f4" stroke="#7a7a7a" stroke-width="0.75"/><circle cx="80.8" cy="394.9" r="1.4" fill="#f4f4f4" stroke="#7a7a7a" stroke-width="0.75"/><circle cx="87.76" cy="394.8" r="1.4" fill="#f4f4f4" stroke="#7a7a7a" stroke-width="0.75"/><circle cx="94.72" cy="394.7" r="1.4" fill="#f4f4f4" stroke="#7a7a7a" stroke-width="0.75"/><circle cx="101.68" cy="394.7" r="1.4" fill="#f4f4f4" stroke="#7a7a7a" stroke-width="0.75"/><circle cx="108.64" cy="394.6" r="1.4" fill="#f4f4f4" stroke="#7a7a7a" stroke-width="0.75"/><circle cx="115.6" cy="394.6" r="1.4" fill="#f4f4f4" stroke="#7a7a7a" stroke-width="0.75"/><circle cx="122.56" cy="394.6" r="1.4" fill="#f4f4f4" stroke="#7a7a7a" stroke-width="0.75"/><circle cx="129.52" cy="394.5" r="1.4" fill="#f4f4f4" stroke="#7a7a7a" stroke-width="0.75"/><circle cx="136.48" cy="394.5" r="1.4" fill="#f4f4f4" stroke="#7a7a7a" stroke-width="0.75"/><circle cx="143.44" cy="394.5" r="1.4" fill="#f4f4f4" stroke="#7a7a7a" stroke-width="0.75"/><circle cx="150.4" cy="394.5" r="1.4" fill="#f4f4f4" stroke="#7a7a7a" stroke-width="0.75"/><circle cx="157.36" cy="394.5" r="1.4" fill="#f4f4f4" stroke="#7a7a7a" stroke-width="0.75"/><circle cx="164.32" cy="394.5" r="1.4" fill="#f4f4f4" stroke="#7a7a7a" stroke-width="0.75"/><path d="M46 399L47.9 402.42L44.1 402.42Z" fill="#000"/><path d="M52.96 399L54.86 402.42L51.06 402.42Z" fill="#000"/><path d="M59.92 399L61.82 402.42L58.02 402.42Z" fill="#000"/><path d="M66.88 395.4L68.78 398.82L64.98 398.82Z" fill="#000"/><path d="M73.84 383.1L75.74 386.52L71.94 386.52Z" fill="#000"/><path d="M80.8 376.6L82.7 380.02L78.9 380.02Z" fill="#000"/><path d="M87.76 373.6L89.66 377.02L85.86 377.02Z" fill="#000"/><path d="M94.72 372.1L96.62 375.52L92.82 375.52Z" fill="#000"/><path d="M101.68 371.4L103.58 374.82L99.78 374.82Z" fill="#000"/><path d="M108.64 371L110.54 374.42L106.74 374.42Z" fill="#000"/><path d="M115.6 370.8L117.5 374.22L113.7 374.22Z" fill="#000"/><path d="M122.56 370.7L124.46 374.12L120.66 374.12Z" fill="#000"/><path d="M129.52 370.6L131.42 374.02L127.62 374.02Z" fill="#000"/><path d="M136.48 370.5L138.38 373.92L134.58 373.92Z" fill="#000"/><path d="M143.44 370.4L145.34 373.82L141.54 373.82Z" fill="#000"/><path d="M150.4 370.4L152.3 373.82L148.5 373.82Z" fill="#000"/><path d="M157.36 370.3L159.26 373.72L155.46 373.72Z" fill="#000"/><path d="M164.32 370.3L166.22 373.72L162.42 373.72Z" fill="#000"/><path d="M46 400.2L47.9 396.78L44.1 396.78Z" fill="#000"/><path d="M52.96 400.2L54.86 396.78L51.06 396.78Z" fill="#000"/><path d="M59.92 400.2L61.82 396.78L58.02 396.78Z" fill="#000"/><path d="M66.88 393.5L68.78 390.08L64.98 390.08Z" fill="#000"/><path d="M73.84 376L75.74 372.58L71.94 372.58Z" fill="#000"/><path d="M80.8 361.9L82.7 358.48L78.9 358.48Z" fill="#000"/><path d="M87.76 353.2L89.66 349.78L85.86 349.78Z" fill="#000"/><path d="M94.72 347.5L96.62 344.08L92.82 344.08Z" fill="#000"/><path d="M101.68 344.5L103.58 341.08L99.78 341.08Z" fill="#000"/><path d="M108.64 342.5L110.54 339.08L106.74 339.08Z" fill="#000"/><path d="M115.6 341.3L117.5 337.88L113.7 337.88Z" fill="#000"/><path d="M122.56 340.4L124.46 336.98L120.66 336.98Z" fill="#000"/><path d="M129.52 339.8L131.42 336.38L127.62 336.38Z" fill="#000"/><path d="M136.48 339.3L138.38 335.88L134.58 335.88Z" fill="#000"/><path d="M143.44 339L145.34 335.58L141.54 335.58Z" fill="#000"/><path d="M150.4 338.8L152.3 335.38L148.5 335.38Z" fill="#000"/><path d="M157.36 338.6L159.26 335.18L155.46 335.18Z" fill="#000"/><path d="M164.32 338.5L166.22 335.08L162.42 335.08Z" fill="#000"/></svg></body></html>
